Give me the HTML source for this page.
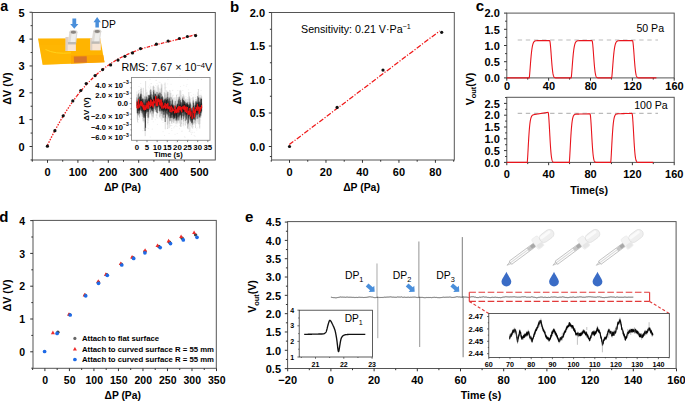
<!DOCTYPE html>
<html><head><meta charset="utf-8"><style>
html,body{margin:0;padding:0;background:#fff;}
svg{display:block;font-family:"Liberation Sans",sans-serif;}
</style></head><body>
<svg width="685" height="402" viewBox="0 0 685 402">
<rect width="685" height="402" fill="#fff"/>
<text x="0.30" y="11.40" font-size="14.2" font-weight="bold" text-anchor="start" fill="#000" >a</text>
<polygon points="38.0,38.6 100.2,38.2 104.5,62.3 42.7,64.8" fill="#FFB400"/>
<polygon points="70.8,55.5 103.2,55.0 104.5,62.3 71.0,63.7" fill="#FDA602"/>
<polygon points="39.5,45 70.8,45 70.8,63.7 42.7,64.8" fill="#FFB703" opacity="0.6"/>
<polygon points="73.8,56.4 86.7,56.2 86.9,62.6 74.0,62.8" fill="#D9752A"/>
<path d="M45.5,49.5 Q55,54.5 71,52.8" stroke="#FFD21A" stroke-width="1.0" fill="none"/>
<rect x="65.60" y="37.00" width="10.10" height="14.00" fill="#F5DCC6"/>
<rect x="65.60" y="37.00" width="2.2" height="14.00" fill="#DCCFC4"/>
<rect x="67.80" y="44.20" width="7.90" height="6.80" fill="#F7E4D4"/>
<polygon points="67.90,43.00 69.30,32.00 77.50,32.00 76.10,43.00" fill="#DEDBD7"/>
<polygon points="70.40,43.00 71.80,32.00 76.40,32.00 75.00,43.00" fill="#EFEEEC"/>
<rect x="67.90" y="42.00" width="8.20" height="2.4" fill="#BEBAB5"/>
<ellipse cx="73.40" cy="32.00" rx="4.10" ry="2.1" fill="#D8D5D1"/>
<ellipse cx="73.40" cy="32.20" rx="2.7" ry="1.45" fill="#8A8682"/>
<rect x="90.30" y="38.20" width="10.30" height="12.00" fill="#F5DCC6"/>
<rect x="90.30" y="38.20" width="2.2" height="12.00" fill="#DCCFC4"/>
<rect x="92.50" y="43.60" width="8.10" height="6.60" fill="#F7E4D4"/>
<polygon points="91.50,42.40 93.10,31.30 101.30,31.30 99.70,42.40" fill="#DEDBD7"/>
<polygon points="94.00,42.40 95.60,31.30 100.20,31.30 98.60,42.40" fill="#EFEEEC"/>
<rect x="91.50" y="41.40" width="8.20" height="2.4" fill="#BEBAB5"/>
<ellipse cx="97.20" cy="31.30" rx="4.10" ry="2.1" fill="#D8D5D1"/>
<ellipse cx="97.20" cy="31.50" rx="2.7" ry="1.45" fill="#8A8682"/>
<polygon points="72.4,18.6 76.2,18.6 76.2,24.0 78.4,24.0 74.3,28.8 70.2,24.0 72.4,24.0" fill="#4A8FDB"/>
<polygon points="95.4,27.4 98.9,27.4 98.9,22.3 100.8,22.3 97.15,17.0 93.5,22.3 95.4,22.3" fill="#4A8FDB"/>
<text x="101.60" y="27.60" font-size="10.3" font-weight="normal" text-anchor="start" fill="#000" >DP</text>
<rect x="32.30" y="12.50" width="183.00" height="147.50" fill="none" stroke="#555" stroke-width="1.0"/>
<line x1="29.50" y1="146.50" x2="32.30" y2="146.50" stroke="#333" stroke-width="1.0" />
<line x1="29.50" y1="119.65" x2="32.30" y2="119.65" stroke="#333" stroke-width="1.0" />
<line x1="29.50" y1="92.80" x2="32.30" y2="92.80" stroke="#333" stroke-width="1.0" />
<line x1="29.50" y1="65.95" x2="32.30" y2="65.95" stroke="#333" stroke-width="1.0" />
<line x1="29.50" y1="39.10" x2="32.30" y2="39.10" stroke="#333" stroke-width="1.0" />
<line x1="29.50" y1="12.25" x2="32.30" y2="12.25" stroke="#333" stroke-width="1.0" />
<line x1="30.60" y1="133.07" x2="32.30" y2="133.07" stroke="#333" stroke-width="1.0" />
<line x1="30.60" y1="106.22" x2="32.30" y2="106.22" stroke="#333" stroke-width="1.0" />
<line x1="30.60" y1="79.38" x2="32.30" y2="79.38" stroke="#333" stroke-width="1.0" />
<line x1="30.60" y1="52.52" x2="32.30" y2="52.52" stroke="#333" stroke-width="1.0" />
<line x1="30.60" y1="25.67" x2="32.30" y2="25.67" stroke="#333" stroke-width="1.0" />
<line x1="30.60" y1="159.93" x2="32.30" y2="159.93" stroke="#333" stroke-width="1.0" />
<line x1="47.50" y1="160.00" x2="47.50" y2="162.80" stroke="#333" stroke-width="1.0" />
<line x1="77.90" y1="160.00" x2="77.90" y2="162.80" stroke="#333" stroke-width="1.0" />
<line x1="108.30" y1="160.00" x2="108.30" y2="162.80" stroke="#333" stroke-width="1.0" />
<line x1="138.70" y1="160.00" x2="138.70" y2="162.80" stroke="#333" stroke-width="1.0" />
<line x1="169.10" y1="160.00" x2="169.10" y2="162.80" stroke="#333" stroke-width="1.0" />
<line x1="199.50" y1="160.00" x2="199.50" y2="162.80" stroke="#333" stroke-width="1.0" />
<line x1="32.30" y1="160.00" x2="32.30" y2="161.70" stroke="#333" stroke-width="1.0" />
<line x1="62.70" y1="160.00" x2="62.70" y2="161.70" stroke="#333" stroke-width="1.0" />
<line x1="93.10" y1="160.00" x2="93.10" y2="161.70" stroke="#333" stroke-width="1.0" />
<line x1="123.50" y1="160.00" x2="123.50" y2="161.70" stroke="#333" stroke-width="1.0" />
<line x1="153.90" y1="160.00" x2="153.90" y2="161.70" stroke="#333" stroke-width="1.0" />
<line x1="184.30" y1="160.00" x2="184.30" y2="161.70" stroke="#333" stroke-width="1.0" />
<text x="24.60" y="150.80" font-size="11" font-weight="bold" text-anchor="end" fill="#000" >0</text>
<text x="24.60" y="123.95" font-size="11" font-weight="bold" text-anchor="end" fill="#000" >1</text>
<text x="24.60" y="97.10" font-size="11" font-weight="bold" text-anchor="end" fill="#000" >2</text>
<text x="24.60" y="70.25" font-size="11" font-weight="bold" text-anchor="end" fill="#000" >3</text>
<text x="24.60" y="43.40" font-size="11" font-weight="bold" text-anchor="end" fill="#000" >4</text>
<text x="24.60" y="16.55" font-size="11" font-weight="bold" text-anchor="end" fill="#000" >5</text>
<text x="47.50" y="175.90" font-size="11" font-weight="bold" text-anchor="middle" fill="#000" >0</text>
<text x="77.90" y="175.90" font-size="11" font-weight="bold" text-anchor="middle" fill="#000" >100</text>
<text x="108.30" y="175.90" font-size="11" font-weight="bold" text-anchor="middle" fill="#000" >200</text>
<text x="138.70" y="175.90" font-size="11" font-weight="bold" text-anchor="middle" fill="#000" >300</text>
<text x="169.10" y="175.90" font-size="11" font-weight="bold" text-anchor="middle" fill="#000" >400</text>
<text x="199.50" y="175.90" font-size="11" font-weight="bold" text-anchor="middle" fill="#000" >500</text>
<text x="122.50" y="191.20" font-size="10.4" font-weight="bold" text-anchor="middle" fill="#000" >ΔP (Pa)</text>
<text x="11.00" y="88.50" font-size="10.8" font-weight="bold" text-anchor="middle" fill="#000" transform="rotate(-90 11.0 88.5)">ΔV (V)</text>
<polyline points="47.50,145.25 48.50,143.18 49.49,141.15 50.49,139.14 51.48,137.16 52.48,135.22 53.48,133.30 54.47,131.41 55.47,129.55 56.46,127.71 57.46,125.91 58.45,124.13 59.45,122.38 60.45,120.66 61.44,118.96 62.44,117.30 63.43,115.65 64.43,114.04 65.43,112.45 66.42,110.89 67.42,109.35 68.41,107.84 69.41,106.35 70.40,104.89 71.40,103.45 72.40,102.03 73.39,100.65 74.39,99.28 75.38,97.94 76.38,96.62" fill="none" stroke="#F01818" stroke-width="1.3" stroke-linejoin="round" stroke-dasharray="1.5 1.3"/>
<polyline points="76.38,96.62 77.90,94.65 79.42,92.74 80.94,90.87 82.46,89.06 83.98,87.30 85.50,85.59 87.02,83.92 88.54,82.31 90.06,80.74 91.58,79.21 93.10,77.74 94.62,76.30 96.14,74.91 97.66,73.56 99.18,72.25 100.70,70.99 102.22,69.76 103.74,68.57 105.26,67.42 106.78,66.31 108.30,65.23 109.82,64.19 111.34,63.18 112.86,62.20 114.38,61.26 115.90,60.35 117.42,59.47 118.94,58.62 120.46,57.80 121.98,57.01 123.50,56.24 125.02,55.50 126.54,54.79 128.06,54.10 129.58,53.44 131.10,52.79 132.62,52.17 134.14,51.57 135.66,50.99 137.18,50.43 138.70,49.89 140.22,49.37 141.74,48.86 143.26,48.37 144.78,47.89 146.30,47.43 147.82,46.98 149.34,46.54 150.86,46.11 152.38,45.70 153.90,45.29 155.42,44.89 156.94,44.50 158.46,44.12 159.98,43.74 161.50,43.37 163.02,43.00 164.54,42.64 166.06,42.28 167.58,41.91 169.10,41.55 170.62,41.19 172.14,40.83 173.66,40.47 175.18,40.10 176.70,39.73 178.22,39.36 179.74,38.98 181.26,38.59 182.78,38.20 184.30,37.79 185.82,37.38 187.34,36.96 188.86,36.53 190.38,36.09 191.90,35.63 193.42,35.16 194.94,34.67 196.46,34.17" fill="none" stroke="#F01818" stroke-width="1.25" stroke-linejoin="round" stroke-dasharray="3.4 1.4 1.1 1.4"/>
<circle cx="47.4" cy="146.2" r="1.6" fill="#111"/>
<circle cx="54.9" cy="130.7" r="1.6" fill="#111"/>
<circle cx="63.2" cy="115.8" r="1.6" fill="#111"/>
<circle cx="72.8" cy="100.9" r="1.6" fill="#111"/>
<circle cx="80.8" cy="90.5" r="1.6" fill="#111"/>
<circle cx="86.2" cy="83.6" r="1.6" fill="#111"/>
<circle cx="95.1" cy="75.6" r="1.6" fill="#111"/>
<circle cx="102.6" cy="69.6" r="1.6" fill="#111"/>
<circle cx="110.6" cy="64.9" r="1.6" fill="#111"/>
<circle cx="118.0" cy="60.1" r="1.6" fill="#111"/>
<circle cx="124.9" cy="56.3" r="1.6" fill="#111"/>
<circle cx="132.5" cy="52.9" r="1.6" fill="#111"/>
<circle cx="140.5" cy="48.6" r="1.6" fill="#111"/>
<circle cx="156.4" cy="44.2" r="1.6" fill="#111"/>
<circle cx="168.1" cy="41.0" r="1.6" fill="#111"/>
<circle cx="179.4" cy="38.5" r="1.6" fill="#111"/>
<circle cx="187.4" cy="36.5" r="1.6" fill="#111"/>
<circle cx="195.6" cy="35.6" r="1.6" fill="#111"/>
<text x="121.4" y="71.4" font-size="10.75" fill="#000">RMS: 7.67 × 10<tspan dy="-3.9" font-size="7.6">−4</tspan><tspan dy="3.9">V</tspan></text>
<rect x="131.5" y="77.5" width="78.50" height="62.80" fill="#fff" stroke="#8a8a8a" stroke-width="0.9"/>
<path d="M188.83,110.55V92.03M142.55,104.86V116.99M167.51,108.09V94.23M169.17,108.76V128.19M170.16,109.03V97.10M187.69,109.88V128.79M187.46,109.82V128.14M153.23,102.73V117.54M152.06,103.05V120.01M183.65,109.64V121.59M179.29,109.62V123.46M192.99,113.86V97.05M139.44,104.90V117.05M152.97,102.80V86.26M188.24,110.12V129.35M176.54,109.59V94.67M170.20,109.04V93.05M199.70,108.63V128.52M161.31,104.14V83.57M166.77,107.71V90.52M167.29,107.98V124.70M183.14,109.63V97.41M137.54,104.91V122.19M186.08,109.66V121.48M153.48,102.67V85.59M161.31,104.15V87.71M160.12,103.50V117.86M181.13,109.63V126.98M143.26,105.09V87.86M162.03,104.58V85.25M183.22,109.63V125.80M171.57,109.29V123.64M198.48,108.70V89.13M180.78,109.63V90.63M195.53,110.11V128.04M147.92,104.23V123.47M143.68,105.77V117.71M183.15,109.63V94.37M189.82,111.71V131.75M139.38,104.90V117.80M164.36,106.15V92.25M161.88,104.49V120.30M179.87,109.63V90.38M199.13,108.65V94.90M169.03,108.71V123.42M143.24,105.08V121.84M177.16,109.60V122.78M143.09,104.98V120.98M194.02,112.36V124.20M187.92,109.97V124.61M169.99,108.99V90.36M198.34,108.71V123.90M167.67,108.17V128.98M150.07,103.66V89.64M189.57,111.36V96.23M145.21,108.85V136.15M145.61,103.60V81.02M165.06,103.60V82.60M165.26,108.85V129.32M141.36,103.60V87.85M158.17,103.60V84.70M180.46,108.85V126.70M185.32,108.85V125.65M187.55,108.85V124.60" stroke="#888" stroke-width="0.3" fill="none"/>
<path d="M136.90,91.89V111.07M136.90,105.61v0.7M136.90,91.47v0.7M137.07,94.47V112.89M137.07,100.88v0.7M137.07,95.73v0.7M137.24,102.76V118.93M137.24,118.76v0.7M137.24,94.57v0.7M137.41,101.43V118.35M137.41,103.09v0.7M137.41,115.55v0.7M137.58,94.50V113.62M137.58,98.75v0.7M137.58,96.32v0.7M137.76,97.38V112.87M137.76,98.07v0.7M137.76,95.17v0.7M137.93,99.18V114.06M137.93,108.35v0.7M137.93,96.16v0.7M138.10,99.73V115.83M138.10,119.36v0.7M138.10,122.25v0.7M138.27,102.39V115.31M138.27,119.13v0.7M138.27,99.45v0.7M138.44,94.56V111.35M138.44,108.62v0.7M138.44,112.70v0.7M138.61,90.08V107.58M138.61,106.95v0.7M138.61,104.39v0.7M138.78,97.76V109.40M138.78,104.67v0.7M138.78,94.07v0.7M138.95,97.51V113.68M138.95,105.63v0.7M138.95,86.18v0.7M139.12,96.72V116.62M139.12,106.44v0.7M139.12,117.63v0.7M139.29,102.19V114.26M139.29,99.07v0.7M139.29,96.99v0.7M139.47,95.23V115.52M139.47,109.01v0.7M139.47,107.04v0.7M139.64,96.83V109.87M139.64,96.83v0.7M139.64,92.64v0.7M139.81,99.52V112.73M139.81,90.09v0.7M139.81,106.11v0.7M139.98,92.00V106.33M139.98,96.99v0.7M139.98,104.85v0.7M140.15,96.84V110.49M140.15,102.74v0.7M140.15,105.23v0.7M140.32,98.60V112.63M140.32,107.11v0.7M140.32,111.88v0.7M140.49,88.78V107.63M140.49,94.73v0.7M140.49,109.29v0.7M140.66,90.85V106.29M140.66,89.16v0.7M140.66,83.21v0.7M140.83,96.27V115.13M140.83,87.33v0.7M140.83,109.18v0.7M141.01,100.41V115.77M141.01,115.85v0.7M141.01,110.73v0.7M141.18,91.28V111.48M141.18,89.37v0.7M141.18,111.63v0.7M141.35,89.37V104.87M141.35,93.14v0.7M141.35,109.82v0.7M141.52,94.58V109.29M141.52,95.00v0.7M141.52,100.47v0.7M141.69,99.45V110.46M141.69,109.34v0.7M141.69,91.15v0.7M141.86,100.58V114.19M141.86,104.28v0.7M141.86,97.21v0.7M142.03,99.18V116.50M142.03,94.90v0.7M142.03,108.73v0.7M142.20,97.08V111.28M142.20,101.96v0.7M142.20,104.94v0.7M142.37,96.37V110.47M142.37,111.97v0.7M142.37,112.14v0.7M142.55,94.46V113.64M142.55,106.64v0.7M142.55,118.25v0.7M142.72,101.85V116.05M142.72,103.97v0.7M142.72,102.36v0.7M142.89,99.55V115.90M142.89,107.17v0.7M142.89,130.41v0.7M143.06,99.31V114.05M143.06,111.12v0.7M143.06,116.36v0.7M143.23,98.09V118.61M143.23,114.17v0.7M143.23,92.57v0.7M143.40,98.42V112.31M143.40,114.98v0.7M143.40,95.00v0.7M143.57,102.73V121.15M143.57,122.33v0.7M143.57,112.23v0.7M143.74,100.06V116.43M143.74,90.76v0.7M143.74,97.63v0.7M143.91,98.30V116.20M143.91,127.85v0.7M143.91,112.08v0.7M144.08,95.64V115.32M144.08,112.93v0.7M144.08,96.00v0.7M144.26,98.94V115.38M144.26,102.93v0.7M144.26,108.25v0.7M144.43,102.18V121.68M144.43,113.46v0.7M144.43,102.03v0.7M144.60,105.72V121.17M144.60,105.93v0.7M144.60,109.51v0.7M144.77,98.60V113.74M144.77,130.39v0.7M144.77,108.35v0.7M144.94,93.43V110.67M144.94,107.27v0.7M144.94,101.55v0.7M145.11,103.26V122.52M145.11,112.11v0.7M145.11,130.00v0.7M145.28,99.26V114.17M145.28,105.80v0.7M145.28,120.62v0.7M145.45,99.08V114.51M145.45,97.68v0.7M145.45,121.86v0.7M145.62,101.77V117.92M145.62,113.97v0.7M145.62,116.57v0.7M145.80,96.55V113.16M145.80,107.25v0.7M145.80,115.16v0.7M145.97,95.50V111.49M145.97,105.44v0.7M145.97,121.50v0.7M146.14,95.89V111.64M146.14,89.60v0.7M146.14,103.27v0.7M146.31,98.77V113.97M146.31,106.90v0.7M146.31,90.51v0.7M146.48,91.96V111.55M146.48,115.28v0.7M146.48,112.64v0.7M146.65,101.87V114.52M146.65,111.19v0.7M146.65,126.83v0.7M146.82,99.61V115.88M146.82,124.66v0.7M146.82,93.33v0.7M146.99,91.59V111.83M146.99,100.05v0.7M146.99,107.51v0.7M147.16,99.11V117.33M147.16,114.65v0.7M147.16,123.52v0.7M147.33,98.87V111.79M147.33,94.06v0.7M147.33,113.97v0.7M147.51,95.69V112.35M147.51,95.31v0.7M147.51,114.96v0.7M147.68,98.41V114.61M147.68,115.62v0.7M147.68,92.48v0.7M147.85,94.82V108.93M147.85,101.76v0.7M147.85,119.30v0.7M148.02,103.06V118.06M148.02,112.79v0.7M148.02,122.28v0.7M148.19,97.48V113.78M148.19,128.19v0.7M148.19,109.13v0.7M148.36,94.96V109.33M148.36,86.64v0.7M148.36,101.98v0.7M148.53,94.65V114.95M148.53,117.80v0.7M148.53,114.93v0.7M148.70,101.63V119.08M148.70,108.84v0.7M148.70,120.06v0.7M148.87,95.47V108.58M148.87,124.44v0.7M148.87,100.27v0.7M149.05,94.64V109.53M149.05,94.69v0.7M149.05,101.51v0.7M149.22,94.80V112.91M149.22,108.08v0.7M149.22,108.36v0.7M149.39,96.09V109.68M149.39,114.13v0.7M149.39,87.81v0.7M149.56,97.65V113.68M149.56,95.54v0.7M149.56,95.81v0.7M149.73,95.71V110.37M149.73,112.75v0.7M149.73,91.29v0.7M149.90,91.56V110.62M149.90,112.96v0.7M149.90,84.82v0.7M150.07,90.38V111.94M150.07,95.13v0.7M150.07,79.05v0.7M150.24,96.54V114.38M150.24,136.68v0.7M150.24,111.76v0.7M150.41,99.75V113.46M150.41,92.55v0.7M150.41,100.58v0.7M150.58,95.29V112.69M150.58,101.74v0.7M150.58,89.26v0.7M150.76,86.06V101.54M150.76,101.08v0.7M150.76,89.89v0.7M150.93,89.71V108.22M150.93,99.54v0.7M150.93,90.65v0.7M151.10,93.74V106.79M151.10,113.53v0.7M151.10,83.53v0.7M151.27,92.06V108.87M151.27,102.69v0.7M151.27,83.17v0.7M151.44,95.63V112.32M151.44,113.15v0.7M151.44,91.23v0.7M151.61,96.17V114.56M151.61,97.24v0.7M151.61,104.30v0.7M151.78,98.05V116.52M151.78,97.96v0.7M151.78,94.98v0.7M151.95,99.79V115.58M151.95,104.42v0.7M151.95,99.36v0.7M152.12,94.75V112.50M152.12,95.27v0.7M152.12,101.69v0.7M152.30,98.13V112.24M152.30,128.71v0.7M152.30,91.21v0.7M152.47,93.79V112.05M152.47,107.08v0.7M152.47,101.55v0.7M152.64,97.55V108.47M152.64,109.27v0.7M152.64,115.81v0.7M152.81,91.14V109.97M152.81,94.34v0.7M152.81,96.34v0.7M152.98,99.11V114.23M152.98,114.77v0.7M152.98,96.09v0.7M153.15,100.24V116.13M153.15,103.24v0.7M153.15,102.59v0.7M153.32,98.82V114.54M153.32,115.70v0.7M153.32,121.51v0.7M153.49,89.26V107.14M153.49,114.12v0.7M153.49,89.45v0.7M153.66,86.55V107.79M153.66,93.51v0.7M153.66,87.76v0.7M153.84,90.80V111.99M153.84,111.83v0.7M153.84,117.47v0.7M154.01,90.87V109.09M154.01,106.84v0.7M154.01,105.28v0.7M154.18,91.88V110.91M154.18,101.20v0.7M154.18,89.93v0.7M154.35,89.85V108.17M154.35,104.06v0.7M154.35,87.12v0.7M154.52,91.07V107.96M154.52,88.85v0.7M154.52,99.10v0.7M154.69,92.10V111.69M154.69,86.69v0.7M154.69,96.57v0.7M154.86,93.43V111.24M154.86,102.39v0.7M154.86,98.06v0.7M155.03,88.73V105.96M155.03,87.71v0.7M155.03,91.25v0.7M155.20,92.83V111.40M155.20,90.45v0.7M155.20,93.20v0.7M155.37,92.99V109.23M155.37,102.52v0.7M155.37,119.39v0.7M155.55,91.42V104.15M155.55,94.02v0.7M155.55,95.96v0.7M155.72,93.20V111.31M155.72,85.23v0.7M155.72,97.27v0.7M155.89,94.88V108.62M155.89,106.08v0.7M155.89,79.99v0.7M156.06,92.39V111.48M156.06,114.80v0.7M156.06,108.16v0.7M156.23,94.93V112.19M156.23,103.54v0.7M156.23,114.33v0.7M156.40,90.68V108.81M156.40,79.82v0.7M156.40,109.41v0.7M156.57,91.90V107.55M156.57,104.65v0.7M156.57,95.77v0.7M156.74,101.56V118.29M156.74,112.14v0.7M156.74,99.90v0.7M156.91,95.83V109.49M156.91,115.23v0.7M156.91,111.71v0.7M157.09,85.97V104.57M157.09,83.15v0.7M157.09,98.50v0.7M157.26,97.35V113.69M157.26,100.74v0.7M157.26,92.61v0.7M157.43,97.01V114.37M157.43,99.13v0.7M157.43,123.96v0.7M157.60,94.27V109.33M157.60,112.46v0.7M157.60,112.31v0.7M157.77,93.96V110.17M157.77,117.72v0.7M157.77,109.46v0.7M157.94,92.26V112.95M157.94,102.60v0.7M157.94,113.66v0.7M158.11,87.32V106.58M158.11,73.66v0.7M158.11,98.09v0.7M158.28,92.85V108.33M158.28,102.92v0.7M158.28,103.16v0.7M158.45,94.70V109.02M158.45,100.81v0.7M158.45,101.48v0.7M158.62,93.63V110.46M158.62,102.97v0.7M158.62,98.68v0.7M158.80,92.56V111.42M158.80,112.05v0.7M158.80,109.77v0.7M158.97,94.82V106.19M158.97,109.69v0.7M158.97,93.91v0.7M159.14,87.79V108.64M159.14,81.74v0.7M159.14,115.63v0.7M159.31,91.53V108.55M159.31,92.84v0.7M159.31,107.68v0.7M159.48,96.09V117.08M159.48,93.27v0.7M159.48,100.57v0.7M159.65,97.17V111.02M159.65,95.76v0.7M159.65,92.07v0.7M159.82,93.73V108.85M159.82,94.83v0.7M159.82,112.10v0.7M159.99,91.03V108.67M159.99,82.12v0.7M159.99,89.06v0.7M160.16,89.39V110.31M160.16,72.54v0.7M160.16,99.90v0.7M160.34,100.75V115.57M160.34,118.21v0.7M160.34,115.54v0.7M160.51,97.41V113.72M160.51,101.10v0.7M160.51,99.40v0.7M160.68,98.16V114.25M160.68,102.43v0.7M160.68,98.86v0.7M160.85,99.09V112.11M160.85,108.92v0.7M160.85,102.45v0.7M161.02,96.86V116.17M161.02,110.95v0.7M161.02,102.87v0.7M161.19,88.58V105.48M161.19,89.77v0.7M161.19,100.36v0.7M161.36,91.91V111.77M161.36,99.16v0.7M161.36,101.12v0.7M161.53,100.83V112.04M161.53,107.14v0.7M161.53,92.02v0.7M161.70,97.42V113.58M161.70,94.79v0.7M161.70,109.26v0.7M161.87,102.04V116.19M161.87,109.20v0.7M161.87,109.10v0.7M162.05,94.33V113.71M162.05,97.47v0.7M162.05,102.84v0.7M162.22,98.29V112.80M162.22,113.82v0.7M162.22,100.98v0.7M162.39,95.95V107.56M162.39,104.68v0.7M162.39,84.47v0.7M162.56,99.15V110.72M162.56,104.91v0.7M162.56,106.44v0.7M162.73,97.19V110.39M162.73,103.14v0.7M162.73,112.35v0.7M162.90,101.67V115.80M162.90,90.67v0.7M162.90,119.93v0.7M163.07,102.55V119.03M163.07,122.03v0.7M163.07,131.39v0.7M163.24,98.33V117.39M163.24,92.61v0.7M163.24,102.23v0.7M163.41,97.80V113.95M163.41,103.37v0.7M163.41,117.23v0.7M163.59,97.74V111.03M163.59,112.79v0.7M163.59,117.31v0.7M163.76,96.82V114.95M163.76,102.17v0.7M163.76,109.31v0.7M163.93,101.45V114.85M163.93,108.23v0.7M163.93,119.45v0.7M164.10,99.99V118.23M164.10,94.38v0.7M164.10,104.18v0.7M164.27,99.85V114.51M164.27,84.39v0.7M164.27,106.12v0.7M164.44,95.50V114.83M164.44,95.70v0.7M164.44,110.73v0.7M164.61,100.55V117.78M164.61,99.51v0.7M164.61,135.27v0.7M164.78,97.73V112.66M164.78,111.73v0.7M164.78,105.86v0.7M164.95,92.95V111.21M164.95,87.70v0.7M164.95,109.46v0.7M165.13,94.36V112.90M165.13,105.23v0.7M165.13,103.56v0.7M165.30,95.08V112.40M165.30,92.74v0.7M165.30,104.19v0.7M165.47,103.18V118.92M165.47,96.90v0.7M165.47,110.08v0.7M165.64,98.47V116.12M165.64,99.36v0.7M165.64,116.01v0.7M165.81,93.67V111.92M165.81,114.11v0.7M165.81,109.46v0.7M165.98,97.21V113.83M165.98,119.74v0.7M165.98,107.94v0.7M166.15,93.86V110.47M166.15,90.05v0.7M166.15,87.21v0.7M166.32,95.14V110.39M166.32,114.25v0.7M166.32,113.09v0.7M166.49,100.72V115.50M166.49,110.15v0.7M166.49,117.16v0.7M166.66,96.78V114.41M166.66,114.82v0.7M166.66,105.89v0.7M166.84,101.31V112.55M166.84,104.58v0.7M166.84,101.61v0.7M167.01,97.96V118.75M167.01,108.05v0.7M167.01,93.16v0.7M167.18,102.84V119.12M167.18,106.42v0.7M167.18,107.98v0.7M167.35,100.87V116.74M167.35,101.47v0.7M167.35,127.95v0.7M167.52,99.36V111.96M167.52,101.03v0.7M167.52,96.11v0.7M167.69,93.37V105.45M167.69,83.60v0.7M167.69,93.93v0.7M167.86,90.78V107.58M167.86,79.08v0.7M167.86,94.02v0.7M168.03,97.65V109.07M168.03,111.20v0.7M168.03,100.13v0.7M168.20,98.13V115.97M168.20,103.70v0.7M168.20,106.40v0.7M168.38,98.36V114.50M168.38,102.96v0.7M168.38,109.34v0.7M168.55,99.20V118.51M168.55,101.05v0.7M168.55,99.23v0.7M168.72,99.01V116.70M168.72,99.91v0.7M168.72,109.93v0.7M168.89,102.80V118.81M168.89,117.33v0.7M168.89,113.09v0.7M169.06,97.71V113.69M169.06,108.94v0.7M169.06,133.22v0.7M169.23,96.22V111.27M169.23,101.87v0.7M169.23,100.57v0.7M169.40,98.02V113.05M169.40,90.13v0.7M169.40,98.40v0.7M169.57,101.42V119.88M169.57,120.48v0.7M169.57,109.16v0.7M169.74,102.05V119.50M169.74,123.24v0.7M169.74,117.88v0.7M169.91,104.61V121.48M169.91,114.76v0.7M169.91,123.39v0.7M170.09,105.22V119.30M170.09,108.08v0.7M170.09,121.61v0.7M170.26,104.21V121.18M170.26,124.72v0.7M170.26,109.23v0.7M170.43,102.77V116.18M170.43,105.44v0.7M170.43,112.83v0.7M170.60,100.58V119.18M170.60,101.14v0.7M170.60,125.63v0.7M170.77,99.59V110.93M170.77,96.38v0.7M170.77,110.73v0.7M170.94,100.03V119.57M170.94,125.43v0.7M170.94,109.66v0.7M171.11,92.86V109.39M171.11,111.95v0.7M171.11,83.90v0.7M171.28,102.40V118.64M171.28,115.39v0.7M171.28,111.61v0.7M171.45,103.00V117.11M171.45,120.08v0.7M171.45,121.16v0.7M171.63,103.84V120.49M171.63,98.30v0.7M171.63,128.07v0.7M171.80,104.54V123.02M171.80,130.00v0.7M171.80,125.11v0.7M171.97,104.72V119.70M171.97,120.26v0.7M171.97,107.80v0.7M172.14,100.94V120.45M172.14,123.09v0.7M172.14,117.89v0.7M172.31,104.04V121.81M172.31,96.77v0.7M172.31,90.40v0.7M172.48,98.28V114.56M172.48,107.72v0.7M172.48,113.72v0.7M172.65,94.75V113.05M172.65,103.07v0.7M172.65,109.83v0.7M172.82,101.45V122.26M172.82,89.88v0.7M172.82,102.27v0.7M172.99,98.34V113.81M172.99,108.81v0.7M172.99,122.63v0.7M173.16,103.67V119.68M173.16,113.38v0.7M173.16,107.68v0.7M173.34,104.57V122.72M173.34,111.55v0.7M173.34,116.99v0.7M173.51,104.04V122.71M173.51,94.87v0.7M173.51,103.92v0.7M173.68,105.39V121.03M173.68,98.48v0.7M173.68,109.49v0.7M173.85,106.21V122.99M173.85,109.51v0.7M173.85,127.51v0.7M174.02,97.11V116.94M174.02,119.23v0.7M174.02,119.84v0.7M174.19,103.73V117.71M174.19,106.17v0.7M174.19,107.96v0.7M174.36,107.06V119.81M174.36,99.63v0.7M174.36,117.79v0.7M174.53,106.74V118.18M174.53,103.36v0.7M174.53,120.18v0.7M174.70,102.39V122.50M174.70,111.47v0.7M174.70,125.91v0.7M174.88,103.24V121.29M174.88,98.14v0.7M174.88,122.67v0.7M175.05,103.85V117.87M175.05,133.92v0.7M175.05,112.19v0.7M175.22,97.06V109.29M175.22,116.62v0.7M175.22,107.83v0.7M175.39,100.53V119.31M175.39,115.78v0.7M175.39,100.63v0.7M175.56,104.01V119.78M175.56,102.41v0.7M175.56,111.88v0.7M175.73,105.26V120.06M175.73,99.41v0.7M175.73,118.81v0.7M175.90,103.74V117.75M175.90,125.08v0.7M175.90,116.41v0.7M176.07,104.76V124.21M176.07,108.31v0.7M176.07,141.80v0.7M176.24,105.18V123.21M176.24,123.37v0.7M176.24,107.06v0.7M176.42,106.79V120.65M176.42,103.82v0.7M176.42,99.43v0.7M176.59,105.11V122.54M176.59,95.17v0.7M176.59,119.59v0.7M176.76,103.46V121.09M176.76,121.26v0.7M176.76,111.99v0.7M176.93,104.21V117.27M176.93,126.05v0.7M176.93,100.78v0.7M177.10,100.49V116.80M177.10,119.65v0.7M177.10,101.57v0.7M177.27,105.42V117.83M177.27,123.54v0.7M177.27,133.14v0.7M177.44,96.85V117.79M177.44,94.55v0.7M177.44,107.52v0.7M177.61,102.20V115.69M177.61,116.66v0.7M177.61,115.15v0.7M177.78,103.92V123.41M177.78,90.33v0.7M177.78,112.64v0.7M177.95,99.64V117.80M177.95,99.84v0.7M177.95,106.50v0.7M178.13,100.36V119.71M178.13,101.09v0.7M178.13,93.91v0.7M178.30,98.36V113.47M178.30,116.59v0.7M178.30,95.52v0.7M178.47,97.16V108.98M178.47,108.96v0.7M178.47,100.75v0.7M178.64,105.22V116.30M178.64,98.22v0.7M178.64,108.68v0.7M178.81,107.57V120.58M178.81,99.44v0.7M178.81,139.37v0.7M178.98,105.34V121.48M178.98,108.17v0.7M178.98,109.92v0.7M179.15,96.05V109.62M179.15,97.62v0.7M179.15,109.11v0.7M179.32,96.17V110.89M179.32,112.62v0.7M179.32,96.97v0.7M179.49,101.18V119.80M179.49,104.20v0.7M179.49,128.44v0.7M179.67,101.05V117.52M179.67,125.25v0.7M179.67,103.94v0.7M179.84,99.99V118.19M179.84,106.09v0.7M179.84,99.76v0.7M180.01,100.24V114.98M180.01,75.34v0.7M180.01,100.54v0.7M180.18,98.13V114.52M180.18,113.33v0.7M180.18,111.50v0.7M180.35,102.43V117.22M180.35,111.89v0.7M180.35,124.41v0.7M180.52,100.20V114.68M180.52,110.84v0.7M180.52,86.14v0.7M180.69,101.57V120.40M180.69,100.43v0.7M180.69,89.86v0.7M180.86,101.94V115.94M180.86,113.63v0.7M180.86,99.84v0.7M181.03,99.51V117.51M181.03,111.53v0.7M181.03,115.62v0.7M181.20,95.04V115.07M181.20,98.40v0.7M181.20,117.11v0.7M181.38,103.17V119.53M181.38,122.50v0.7M181.38,114.64v0.7M181.55,104.11V123.85M181.55,123.02v0.7M181.55,101.97v0.7M181.72,102.92V119.08M181.72,113.83v0.7M181.72,130.87v0.7M181.89,104.02V115.46M181.89,106.77v0.7M181.89,119.35v0.7M182.06,99.52V114.70M182.06,101.37v0.7M182.06,110.97v0.7M182.23,99.52V115.24M182.23,130.76v0.7M182.23,116.50v0.7M182.40,99.53V112.70M182.40,106.79v0.7M182.40,97.42v0.7M182.57,96.11V110.61M182.57,70.34v0.7M182.57,108.00v0.7M182.74,99.16V114.58M182.74,101.46v0.7M182.74,89.98v0.7M182.92,102.26V117.75M182.92,94.13v0.7M182.92,112.94v0.7M183.09,96.05V114.94M183.09,106.43v0.7M183.09,100.30v0.7M183.26,103.83V116.30M183.26,99.18v0.7M183.26,109.16v0.7M183.43,102.53V121.43M183.43,123.39v0.7M183.43,107.98v0.7M183.60,96.43V117.22M183.60,109.95v0.7M183.60,100.83v0.7M183.77,95.81V112.57M183.77,107.72v0.7M183.77,84.90v0.7M183.94,98.60V115.39M183.94,126.49v0.7M183.94,95.28v0.7M184.11,102.97V114.33M184.11,116.19v0.7M184.11,117.33v0.7M184.28,97.55V109.35M184.28,115.92v0.7M184.28,103.98v0.7M184.45,102.43V116.45M184.45,136.50v0.7M184.45,102.93v0.7M184.63,96.33V115.28M184.63,111.82v0.7M184.63,101.38v0.7M184.80,101.88V117.79M184.80,101.56v0.7M184.80,112.63v0.7M184.97,101.45V112.76M184.97,111.85v0.7M184.97,108.75v0.7M185.14,103.61V123.55M185.14,136.83v0.7M185.14,123.99v0.7M185.31,106.95V120.43M185.31,113.62v0.7M185.31,111.65v0.7M185.48,98.90V114.27M185.48,111.56v0.7M185.48,108.56v0.7M185.65,101.35V119.51M185.65,117.21v0.7M185.65,100.35v0.7M185.82,98.88V112.36M185.82,100.51v0.7M185.82,108.73v0.7M185.99,100.39V116.89M185.99,96.17v0.7M185.99,113.37v0.7M186.17,102.01V119.38M186.17,109.21v0.7M186.17,113.03v0.7M186.34,102.50V115.57M186.34,97.81v0.7M186.34,85.84v0.7M186.51,104.65V120.49M186.51,122.31v0.7M186.51,106.55v0.7M186.68,108.44V123.31M186.68,110.21v0.7M186.68,107.10v0.7M186.85,100.64V113.19M186.85,99.06v0.7M186.85,107.53v0.7M187.02,98.95V119.31M187.02,118.89v0.7M187.02,84.35v0.7M187.19,103.15V121.05M187.19,114.78v0.7M187.19,104.79v0.7M187.36,104.17V114.77M187.36,110.50v0.7M187.36,109.13v0.7M187.53,100.90V116.27M187.53,113.73v0.7M187.53,126.56v0.7M187.71,98.88V115.76M187.71,79.19v0.7M187.71,97.50v0.7M187.88,103.68V118.71M187.88,106.02v0.7M187.88,97.65v0.7M188.05,107.98V126.31M188.05,112.66v0.7M188.05,139.27v0.7M188.22,104.26V121.93M188.22,118.63v0.7M188.22,102.65v0.7M188.39,103.87V117.76M188.39,89.51v0.7M188.39,123.71v0.7M188.56,107.07V126.61M188.56,115.68v0.7M188.56,108.25v0.7M188.73,101.87V117.63M188.73,107.55v0.7M188.73,113.72v0.7M188.90,98.75V117.47M188.90,110.48v0.7M188.90,116.50v0.7M189.07,107.06V122.49M189.07,131.30v0.7M189.07,112.67v0.7M189.24,99.60V120.12M189.24,112.70v0.7M189.24,116.47v0.7M189.42,104.04V117.42M189.42,103.83v0.7M189.42,117.67v0.7M189.59,98.25V117.98M189.59,114.16v0.7M189.59,123.80v0.7M189.76,99.00V117.45M189.76,127.75v0.7M189.76,106.86v0.7M189.93,97.16V115.81M189.93,106.95v0.7M189.93,101.72v0.7M190.10,103.48V115.60M190.10,104.49v0.7M190.10,123.44v0.7M190.27,103.46V119.75M190.27,108.72v0.7M190.27,112.98v0.7M190.44,111.42V125.86M190.44,120.98v0.7M190.44,110.14v0.7M190.61,102.35V121.43M190.61,110.06v0.7M190.61,104.44v0.7M190.78,98.89V118.83M190.78,132.11v0.7M190.78,92.01v0.7M190.96,104.23V123.69M190.96,120.61v0.7M190.96,120.56v0.7M191.13,108.26V120.17M191.13,119.17v0.7M191.13,116.51v0.7M191.30,108.53V121.24M191.30,95.39v0.7M191.30,98.35v0.7M191.47,105.12V121.73M191.47,134.15v0.7M191.47,126.30v0.7M191.64,111.03V123.83M191.64,111.30v0.7M191.64,132.69v0.7M191.81,106.99V125.49M191.81,102.90v0.7M191.81,124.66v0.7M191.98,112.07V127.10M191.98,130.62v0.7M191.98,111.78v0.7M192.15,111.33V128.22M192.15,127.53v0.7M192.15,102.38v0.7M192.32,105.91V123.34M192.32,119.60v0.7M192.32,117.48v0.7M192.49,109.65V121.00M192.49,105.40v0.7M192.49,102.86v0.7M192.67,112.69V128.74M192.67,124.42v0.7M192.67,132.32v0.7M192.84,107.64V123.49M192.84,124.69v0.7M192.84,121.15v0.7M193.01,103.83V118.76M193.01,107.49v0.7M193.01,98.31v0.7M193.18,96.55V111.62M193.18,99.55v0.7M193.18,110.32v0.7M193.35,99.43V115.72M193.35,99.90v0.7M193.35,113.27v0.7M193.52,104.53V119.87M193.52,94.43v0.7M193.52,126.36v0.7M193.69,104.56V118.76M193.69,122.39v0.7M193.69,123.24v0.7M193.86,100.36V116.30M193.86,108.65v0.7M193.86,122.27v0.7M194.03,103.53V119.13M194.03,115.89v0.7M194.03,106.12v0.7M194.21,106.33V122.82M194.21,112.53v0.7M194.21,135.28v0.7M194.38,107.74V122.95M194.38,107.80v0.7M194.38,131.87v0.7M194.55,108.72V122.08M194.55,124.41v0.7M194.55,114.43v0.7M194.72,105.81V123.42M194.72,110.82v0.7M194.72,106.38v0.7M194.89,104.77V117.76M194.89,106.71v0.7M194.89,110.49v0.7M195.06,104.44V118.95M195.06,135.92v0.7M195.06,96.69v0.7M195.23,101.35V119.24M195.23,111.96v0.7M195.23,94.68v0.7M195.40,106.43V123.51M195.40,99.14v0.7M195.40,114.65v0.7M195.57,98.77V116.71M195.57,97.36v0.7M195.57,71.95v0.7M195.74,100.82V116.00M195.74,100.95v0.7M195.74,116.56v0.7M195.92,103.76V123.50M195.92,110.45v0.7M195.92,120.50v0.7M196.09,100.73V116.26M196.09,115.10v0.7M196.09,110.58v0.7M196.26,98.98V114.08M196.26,108.27v0.7M196.26,107.94v0.7M196.43,102.18V116.37M196.43,128.12v0.7M196.43,104.18v0.7M196.60,98.73V119.92M196.60,120.55v0.7M196.60,122.85v0.7M196.77,99.85V114.07M196.77,129.69v0.7M196.77,112.31v0.7M196.94,106.44V117.46M196.94,116.95v0.7M196.94,111.92v0.7M197.11,104.63V121.97M197.11,121.96v0.7M197.11,110.79v0.7M197.28,101.25V114.68M197.28,118.61v0.7M197.28,96.52v0.7M197.46,92.44V109.65M197.46,91.74v0.7M197.46,98.69v0.7M197.63,100.04V113.02M197.63,118.67v0.7M197.63,103.50v0.7M197.80,102.99V122.26M197.80,127.51v0.7M197.80,117.16v0.7M197.97,98.28V115.50M197.97,97.92v0.7M197.97,93.61v0.7M198.14,99.59V112.48M198.14,89.00v0.7M198.14,97.12v0.7M198.31,104.09V116.15M198.31,113.10v0.7M198.31,122.78v0.7M198.48,95.56V114.96M198.48,117.81v0.7M198.48,115.87v0.7M198.65,95.93V112.74M198.65,98.67v0.7M198.65,100.86v0.7M198.82,96.71V114.17M198.82,124.44v0.7M198.82,117.27v0.7M199.00,99.10V114.65M199.00,114.99v0.7M199.00,113.29v0.7M199.17,105.47V121.70M199.17,108.53v0.7M199.17,114.34v0.7M199.34,108.32V124.21M199.34,123.62v0.7M199.34,104.27v0.7M199.51,98.14V112.01M199.51,106.60v0.7M199.51,111.03v0.7M199.68,97.85V118.73M199.68,125.92v0.7M199.68,119.20v0.7M199.85,102.20V116.84M199.85,103.46v0.7M199.85,105.71v0.7M200.02,104.79V123.78M200.02,105.26v0.7M200.02,101.49v0.7M200.19,105.89V117.48M200.19,114.00v0.7M200.19,106.62v0.7M200.36,97.39V116.44M200.36,108.03v0.7M200.36,102.52v0.7M200.53,99.85V118.06M200.53,95.04v0.7M200.53,102.11v0.7M200.71,100.33V118.07M200.71,99.59v0.7M200.71,119.64v0.7M200.88,95.33V113.60M200.88,99.88v0.7M200.88,93.74v0.7M201.05,97.64V117.31M201.05,90.32v0.7M201.05,102.08v0.7M201.22,95.70V115.73M201.22,103.71v0.7M201.22,96.58v0.7M201.39,97.60V115.37M201.39,103.49v0.7M201.39,101.32v0.7M201.56,97.38V113.69M201.56,79.26v0.7M201.56,94.88v0.7M201.73,96.05V114.05M201.73,106.74v0.7M201.73,108.76v0.7" stroke="#aaa" stroke-width="0.25" fill="none"/>
<path d="M136.90,97.35V105.76M137.07,99.63V107.89M137.24,104.63V113.37M137.41,103.68V113.28M137.58,101.28V107.34M137.76,101.99V108.32M137.93,102.42V112.80M138.10,101.18V115.18M138.27,101.41V110.90M138.44,101.51V110.70M138.61,93.47V103.35M138.78,97.79V105.88M138.95,100.51V109.36M139.12,102.00V113.62M139.29,104.91V113.53M139.47,99.95V110.43M139.64,96.90V110.04M139.81,100.77V111.37M139.98,96.42V105.37M140.15,95.79V106.07M140.32,103.81V109.61M140.49,93.72V102.16M140.66,94.65V106.11M140.83,99.25V109.66M141.01,103.14V110.86M141.18,96.73V108.37M141.35,93.79V104.91M141.52,99.30V106.68M141.69,100.20V110.91M141.86,101.59V113.05M142.03,103.52V111.73M142.20,100.44V109.70M142.37,98.72V109.06M142.55,98.84V108.23M142.72,101.67V113.67M142.89,98.49V111.37M143.06,104.91V112.16M143.23,104.40V115.27M143.40,99.41V110.10M143.57,107.09V117.67M143.74,103.25V111.29M143.91,102.77V110.08M144.08,101.67V109.74M144.26,99.31V109.76M144.43,108.38V116.37M144.60,108.42V117.65M144.77,104.35V111.58M144.94,96.63V109.34M145.11,107.64V118.01M145.28,103.91V111.20M145.45,100.23V111.13M145.62,107.48V113.77M145.80,99.26V109.29M145.97,98.74V109.44M146.14,102.42V111.02M146.31,103.64V112.13M146.48,96.49V106.57M146.65,105.48V113.28M146.82,100.86V109.72M146.99,97.18V107.92M147.16,103.44V112.00M147.33,100.84V111.64M147.51,99.89V110.40M147.68,100.96V107.28M147.85,98.81V106.60M148.02,103.83V117.79M148.19,100.97V111.81M148.36,95.23V108.14M148.53,98.76V111.57M148.70,106.69V117.48M148.87,98.05V108.66M149.05,95.21V106.06M149.22,95.85V105.36M149.39,98.25V109.84M149.56,98.19V107.52M149.73,96.47V104.50M149.90,94.92V105.27M150.07,94.84V105.96M150.24,101.10V108.17M150.41,101.87V112.41M150.58,96.46V108.52M150.76,89.61V101.05M150.93,92.21V103.75M151.10,93.99V105.93M151.27,97.05V108.61M151.44,99.99V110.27M151.61,98.44V108.68M151.78,98.82V110.43M151.95,99.72V111.31M152.12,98.96V109.25M152.30,99.87V107.59M152.47,100.46V110.94M152.64,100.14V108.98M152.81,94.84V106.30M152.98,100.25V109.30M153.15,103.47V113.55M153.32,100.20V111.50M153.49,91.93V101.33M153.66,90.20V104.15M153.84,96.82V104.42M154.01,95.26V103.47M154.18,97.22V106.49M154.35,96.08V105.47M154.52,96.63V103.34M154.69,93.54V104.58M154.86,97.54V108.80M155.03,93.91V102.05M155.20,100.06V106.51M155.37,100.47V110.03M155.55,94.06V100.69M155.72,94.31V105.30M155.89,97.24V103.29M156.06,97.23V108.16M156.23,98.72V111.99M156.40,95.59V104.29M156.57,96.22V106.64M156.74,101.24V112.57M156.91,96.87V107.18M157.09,92.06V100.00M157.26,97.91V107.81M157.43,102.49V113.04M157.60,100.24V106.81M157.77,95.66V105.50M157.94,99.21V106.85M158.11,94.61V100.95M158.28,96.81V103.72M158.45,94.32V105.00M158.62,97.69V107.31M158.80,95.42V106.38M158.97,93.26V105.72M159.14,94.73V104.25M159.31,95.92V104.68M159.48,99.58V110.72M159.65,98.04V111.70M159.82,96.34V108.33M159.99,92.69V104.79M160.16,92.76V106.69M160.34,103.22V109.36M160.51,101.68V108.87M160.68,100.61V108.00M160.85,103.75V111.30M161.02,98.42V110.83M161.19,93.97V103.39M161.36,97.07V105.20M161.53,103.54V110.47M161.70,99.09V110.26M161.87,103.15V113.74M162.05,96.64V110.04M162.22,98.09V108.26M162.39,95.74V105.37M162.56,101.44V111.35M162.73,96.92V110.00M162.90,100.98V111.07M163.07,105.11V117.60M163.24,102.37V111.91M163.41,99.80V108.04M163.59,101.40V110.07M163.76,103.02V111.78M163.93,104.42V114.93M164.10,106.36V114.31M164.27,99.26V109.74M164.44,99.79V110.45M164.61,102.90V111.14M164.78,101.00V106.38M164.95,99.36V105.87M165.13,98.39V108.96M165.30,102.74V109.13M165.47,104.42V117.49M165.64,104.30V112.55M165.81,98.88V107.12M165.98,100.03V111.18M166.15,98.87V110.46M166.32,97.70V110.00M166.49,100.12V113.37M166.66,100.27V109.92M166.84,99.89V110.77M167.01,104.41V114.09M167.18,105.24V115.19M167.35,106.16V113.74M167.52,98.96V109.90M167.69,97.05V103.22M167.86,91.97V102.81M168.03,99.34V107.47M168.20,104.55V114.57M168.38,102.57V112.19M168.55,106.42V116.48M168.72,100.66V112.43M168.89,110.10V117.67M169.06,101.15V111.64M169.23,97.48V107.11M169.40,98.63V110.78M169.57,106.36V112.97M169.74,103.39V111.96M169.91,105.54V115.93M170.09,110.84V120.88M170.26,106.75V118.02M170.43,105.82V117.59M170.60,105.36V111.94M170.77,101.07V110.33M170.94,106.23V117.78M171.11,97.20V109.74M171.28,105.23V115.24M171.45,103.89V112.15M171.63,105.32V117.94M171.80,105.53V115.21M171.97,110.49V117.42M172.14,105.41V114.33M172.31,105.07V114.83M172.48,99.44V112.32M172.65,100.46V108.84M172.82,105.16V118.33M172.99,104.56V110.17M173.16,105.73V117.47M173.34,109.16V115.65M173.51,107.07V119.23M173.68,105.86V116.79M173.85,107.40V118.61M174.02,105.05V113.25M174.19,108.86V116.06M174.36,109.19V117.21M174.53,109.62V118.04M174.70,109.24V119.15M174.88,108.85V117.96M175.05,106.54V112.53M175.22,100.99V107.85M175.39,106.95V113.15M175.56,107.46V115.73M175.73,109.52V117.54M175.90,106.15V115.25M176.07,108.55V120.88M176.24,108.52V115.97M176.42,106.89V120.15M176.59,106.87V118.29M176.76,108.78V119.31M176.93,104.98V118.66M177.10,107.23V113.90M177.27,103.79V117.28M177.44,103.60V111.71M177.61,104.29V112.22M177.78,106.95V120.53M177.95,104.51V112.88M178.13,106.69V116.65M178.30,101.18V110.91M178.47,99.58V105.31M178.64,105.76V116.77M178.81,109.12V120.39M178.98,107.78V118.38M179.15,96.92V109.89M179.32,98.71V110.25M179.49,105.23V115.71M179.67,104.02V116.50M179.84,106.83V114.63M180.01,100.96V108.97M180.18,105.69V115.00M180.35,107.56V114.89M180.52,99.85V110.89M180.69,103.57V113.94M180.86,102.12V115.73M181.03,105.57V113.06M181.20,102.27V109.54M181.38,106.52V118.33M181.55,106.41V117.31M181.72,107.88V120.14M181.89,104.63V112.02M182.06,102.83V111.08M182.23,105.67V112.87M182.40,99.13V112.71M182.57,97.73V107.58M182.74,105.43V116.09M182.92,103.96V112.46M183.09,100.23V111.87M183.26,105.77V116.26M183.43,107.93V119.09M183.60,100.26V112.33M183.77,100.06V112.33M183.94,103.78V110.83M184.11,101.94V112.01M184.28,101.13V107.87M184.45,103.93V115.61M184.63,101.33V110.09M184.80,102.39V113.81M184.97,104.05V110.16M185.14,108.36V117.40M185.31,108.14V120.92M185.48,104.49V110.32M185.65,104.26V114.51M185.82,102.13V111.46M185.99,103.21V111.17M186.17,106.01V114.79M186.34,103.43V115.59M186.51,105.13V118.68M186.68,107.96V119.85M186.85,103.01V110.60M187.02,104.12V113.61M187.19,104.66V116.39M187.36,104.59V114.59M187.53,103.22V113.57M187.71,101.98V113.93M187.88,104.32V114.60M188.05,115.74V123.79M188.22,106.99V118.01M188.39,105.08V113.85M188.56,110.05V122.80M188.73,104.39V116.20M188.90,105.16V111.58M189.07,111.37V119.27M189.24,105.98V113.81M189.42,106.83V116.45M189.59,105.36V115.36M189.76,103.78V114.95M189.93,101.85V113.42M190.10,103.12V115.82M190.27,108.30V120.59M190.44,111.72V121.49M190.61,109.62V117.78M190.78,104.40V115.83M190.96,110.14V119.70M191.13,108.87V119.48M191.30,111.55V119.35M191.47,107.94V118.25M191.64,111.45V123.25M191.81,111.77V121.44M191.98,115.75V122.94M192.15,116.11V122.45M192.32,109.84V118.09M192.49,111.31V119.38M192.67,115.56V124.61M192.84,107.90V119.69M193.01,106.65V119.00M193.18,100.69V111.58M193.35,102.80V113.80M193.52,105.91V118.81M193.69,108.80V119.58M193.86,102.65V113.26M194.03,107.89V116.16M194.21,111.16V118.43M194.38,111.54V118.00M194.55,111.01V119.76M194.72,107.05V116.62M194.89,109.22V118.78M195.06,105.46V114.22M195.23,105.15V111.73M195.40,107.87V120.40M195.57,101.43V109.20M195.74,104.58V112.48M195.92,106.49V116.63M196.09,102.94V111.39M196.26,102.13V112.40M196.43,102.56V114.74M196.60,106.72V112.77M196.77,100.85V112.06M196.94,106.88V118.92M197.11,109.26V114.69M197.28,104.93V114.68M197.46,96.17V105.70M197.63,102.98V112.71M197.80,107.43V118.66M197.97,102.31V113.91M198.14,101.97V110.46M198.31,104.90V112.40M198.48,97.69V111.18M198.65,101.57V109.21M198.82,97.40V108.65M199.00,103.17V113.70M199.17,108.12V116.75M199.34,107.25V117.65M199.51,101.51V113.40M199.68,102.06V112.95M199.85,104.16V112.53M200.02,109.52V117.20M200.19,106.89V114.98M200.36,99.53V110.38M200.53,103.84V112.70M200.71,106.35V116.04M200.88,97.78V111.21M201.05,102.56V111.13M201.22,98.58V111.23M201.39,98.99V112.82M201.56,99.00V108.05M201.73,103.40V111.54" stroke="#0a0a0a" stroke-width="0.38" fill="none"/>
<path d="M145.11,108.85V130.90M145.51,108.85V127.75M165.16,103.60V121.97" stroke="#111" stroke-width="0.6"/>
<polyline points="136.90,101.70 137.07,105.72 137.24,108.28 137.41,105.15 137.58,106.52 137.76,105.96 137.93,108.43 138.10,108.46 138.27,106.64 138.44,101.04 138.61,99.32 138.78,105.11 138.95,105.90 139.12,106.40 139.29,107.62 139.47,107.18 139.64,104.76 139.81,104.52 139.98,103.77 140.15,103.70 140.32,105.17 140.49,102.42 140.66,101.60 140.83,104.83 141.01,105.97 141.18,104.32 141.35,100.98 141.52,102.25 141.69,105.68 141.86,103.67 142.03,104.68 142.20,106.72 142.37,103.93 142.55,102.56 142.72,103.81 142.89,103.70 143.06,108.36 143.23,107.91 143.40,105.14 143.57,109.65 143.74,108.10 143.91,104.89 144.08,106.67 144.26,110.19 144.43,110.19 144.60,109.24 144.77,107.56 144.94,106.54 145.11,108.39 145.28,107.48 145.45,107.53 145.62,110.02 145.80,107.99 145.97,104.87 146.14,105.48 146.31,107.10 146.48,106.01 146.65,108.42 146.82,107.50 146.99,102.67 147.16,106.25 147.33,106.87 147.51,105.75 147.68,104.62 147.85,106.26 148.02,108.86 148.19,104.49 148.36,101.19 148.53,105.67 148.70,108.23 148.87,104.27 149.05,104.40 149.22,102.36 149.39,103.23 149.56,105.13 149.73,104.86 149.90,103.15 150.07,101.48 150.24,104.23 150.41,106.85 150.58,103.56 150.76,99.62 150.93,101.03 151.10,100.37 151.27,100.95 151.44,103.70 151.61,105.45 151.78,105.65 151.95,102.18 152.12,103.17 152.30,106.22 152.47,104.38 152.64,103.04 152.81,101.58 152.98,103.85 153.15,107.44 153.32,105.44 153.49,100.76 153.66,99.53 153.84,101.06 154.01,102.72 154.18,102.57 154.35,102.42 154.52,101.57 154.69,102.42 154.86,103.48 155.03,102.38 155.20,101.73 155.37,101.19 155.55,98.02 155.72,96.01 155.89,97.67 156.06,103.25 156.23,106.15 156.40,103.91 156.57,102.55 156.74,105.19 156.91,104.21 157.09,98.96 157.26,102.89 157.43,106.14 157.60,105.39 157.77,103.82 157.94,101.59 158.11,98.48 158.28,99.85 158.45,101.92 158.62,101.42 158.80,99.92 158.97,99.06 159.14,99.74 159.31,102.68 159.48,105.21 159.65,104.87 159.82,102.27 159.99,100.04 160.16,102.97 160.34,104.80 160.51,103.65 160.68,104.13 160.85,106.45 161.02,104.69 161.19,99.44 161.36,100.68 161.53,105.54 161.70,107.10 161.87,108.43 162.05,105.87 162.22,102.53 162.39,103.46 162.56,104.38 162.73,104.33 162.90,104.75 163.07,107.45 163.24,108.51 163.41,106.05 163.59,106.67 163.76,107.72 163.93,107.89 164.10,107.79 164.27,105.27 164.44,105.51 164.61,107.21 164.78,105.41 164.95,104.27 165.13,102.99 165.30,107.42 165.47,108.85 165.64,106.43 165.81,107.68 165.98,105.71 166.15,104.32 166.32,104.10 166.49,105.67 166.66,104.87 166.84,105.65 167.01,108.50 167.18,106.89 167.35,107.62 167.52,105.56 167.69,103.17 167.86,103.23 168.03,104.95 168.20,109.05 168.38,108.82 168.55,107.12 168.72,108.37 168.89,108.99 169.06,108.15 169.23,106.26 169.40,107.33 169.57,108.27 169.74,108.29 169.91,111.50 170.09,111.64 170.26,112.04 170.43,110.73 170.60,107.27 170.77,107.27 170.94,107.94 171.11,105.66 171.28,106.25 171.45,108.54 171.63,109.42 171.80,112.28 171.97,110.67 172.14,110.93 172.31,111.11 172.48,108.39 172.65,107.66 172.82,107.76 172.99,110.84 173.16,110.19 173.34,109.78 173.51,110.64 173.68,109.71 173.85,109.64 174.02,110.02 174.19,111.12 174.36,111.13 174.53,113.20 174.70,113.16 174.88,111.68 175.05,109.67 175.22,105.79 175.39,110.64 175.56,112.41 175.73,109.54 175.90,111.43 176.07,110.39 176.24,109.48 176.42,113.10 176.59,112.80 176.76,110.25 176.93,109.66 177.10,111.37 177.27,110.57 177.44,107.48 177.61,110.25 177.78,112.45 177.95,110.78 178.13,110.63 178.30,107.76 178.47,106.54 178.64,110.88 178.81,112.45 178.98,110.95 179.15,106.10 179.32,106.29 179.49,109.70 179.67,108.61 179.84,108.88 180.01,106.10 180.18,106.87 180.35,109.29 180.52,108.20 180.69,108.40 180.86,110.50 181.03,108.70 181.20,107.04 181.38,109.77 181.55,111.05 181.72,112.25 181.89,109.89 182.06,107.19 182.23,106.89 182.40,106.54 182.57,106.60 182.74,108.46 182.92,108.27 183.09,107.38 183.26,108.86 183.43,108.65 183.60,106.47 183.77,107.24 183.94,109.83 184.11,109.06 184.28,105.51 184.45,106.97 184.63,110.11 184.80,110.00 184.97,107.93 185.14,110.61 185.31,111.96 185.48,107.19 185.65,109.05 185.82,108.59 185.99,106.47 186.17,109.68 186.34,110.21 186.51,111.78 186.68,113.00 186.85,107.72 187.02,108.26 187.19,108.26 187.36,107.02 187.53,108.40 187.71,108.25 187.88,113.41 188.05,114.46 188.22,110.71 188.39,111.72 188.56,114.26 188.73,112.00 188.90,111.06 189.07,114.47 189.24,114.71 189.42,110.89 189.59,110.77 189.76,110.89 189.93,107.98 190.10,109.66 190.27,114.10 190.44,116.46 190.61,114.98 190.78,111.80 190.96,111.57 191.13,112.32 191.30,113.64 191.47,114.19 191.64,114.38 191.81,115.47 191.98,116.83 192.15,118.82 192.32,117.53 192.49,116.74 192.67,117.39 192.84,114.46 193.01,112.95 193.18,109.22 193.35,107.37 193.52,112.71 193.69,112.68 193.86,110.84 194.03,112.86 194.21,111.40 194.38,111.25 194.55,117.52 194.72,114.78 194.89,110.67 195.06,109.33 195.23,109.15 195.40,113.14 195.57,109.48 195.74,109.13 195.92,111.08 196.09,106.96 196.26,106.97 196.43,109.26 196.60,109.18 196.77,107.64 196.94,108.99 197.11,109.29 197.28,107.05 197.46,104.29 197.63,105.69 197.80,110.76 197.97,109.05 198.14,108.20 198.31,108.89 198.48,108.03 198.65,106.63 198.82,107.86 199.00,109.84 199.17,112.81 199.34,114.06 199.51,107.61 199.68,107.28 199.85,110.80 200.02,111.64 200.19,109.62 200.36,107.42 200.53,110.20 200.71,109.42 200.88,107.14 201.05,107.00 201.22,108.42 201.39,106.87 201.56,105.21 201.73,108.13" fill="none" stroke="#EE1111" stroke-width="0.95" stroke-linejoin="round" />
<line x1="129.70" y1="82.60" x2="131.50" y2="82.60" stroke="#555" stroke-width="0.7" />
<line x1="129.70" y1="93.10" x2="131.50" y2="93.10" stroke="#555" stroke-width="0.7" />
<line x1="129.70" y1="103.60" x2="131.50" y2="103.60" stroke="#555" stroke-width="0.7" />
<line x1="129.70" y1="114.10" x2="131.50" y2="114.10" stroke="#555" stroke-width="0.7" />
<line x1="129.70" y1="124.60" x2="131.50" y2="124.60" stroke="#555" stroke-width="0.7" />
<line x1="129.70" y1="135.10" x2="131.50" y2="135.10" stroke="#555" stroke-width="0.7" />
<line x1="130.50" y1="87.85" x2="131.50" y2="87.85" stroke="#555" stroke-width="0.7" />
<line x1="130.50" y1="98.35" x2="131.50" y2="98.35" stroke="#555" stroke-width="0.7" />
<line x1="130.50" y1="108.85" x2="131.50" y2="108.85" stroke="#555" stroke-width="0.7" />
<line x1="130.50" y1="119.35" x2="131.50" y2="119.35" stroke="#555" stroke-width="0.7" />
<line x1="130.50" y1="129.85" x2="131.50" y2="129.85" stroke="#555" stroke-width="0.7" />
<text x="123.0" y="87.60" font-size="7.6" font-weight="bold" text-anchor="end">4.0 × 10</text>
<text x="123.0" y="84.00" font-size="5.0" font-weight="bold">−3</text>
<text x="123.0" y="98.10" font-size="7.6" font-weight="bold" text-anchor="end">2.0 × 10</text>
<text x="123.0" y="94.50" font-size="5.0" font-weight="bold">−3</text>
<text x="128.00" y="106.40" font-size="7.6" font-weight="bold" text-anchor="end" fill="#000" >0.0</text>
<text x="123.0" y="119.10" font-size="7.6" font-weight="bold" text-anchor="end">−2.0 × 10</text>
<text x="123.0" y="115.50" font-size="5.0" font-weight="bold">−3</text>
<text x="123.0" y="129.60" font-size="7.6" font-weight="bold" text-anchor="end">−4.0 × 10</text>
<text x="123.0" y="126.00" font-size="5.0" font-weight="bold">−3</text>
<text x="123.0" y="140.10" font-size="7.6" font-weight="bold" text-anchor="end">−6.0 × 10</text>
<text x="123.0" y="136.50" font-size="5.0" font-weight="bold">−3</text>
<line x1="136.90" y1="140.30" x2="136.90" y2="142.10" stroke="#555" stroke-width="0.7" />
<text x="136.90" y="149.60" font-size="7.8" font-weight="bold" text-anchor="middle" fill="#000" >0</text>
<line x1="147.03" y1="140.30" x2="147.03" y2="142.10" stroke="#555" stroke-width="0.7" />
<text x="147.03" y="149.60" font-size="7.8" font-weight="bold" text-anchor="middle" fill="#000" >5</text>
<line x1="157.16" y1="140.30" x2="157.16" y2="142.10" stroke="#555" stroke-width="0.7" />
<text x="157.16" y="149.60" font-size="7.8" font-weight="bold" text-anchor="middle" fill="#000" >10</text>
<line x1="167.29" y1="140.30" x2="167.29" y2="142.10" stroke="#555" stroke-width="0.7" />
<text x="167.29" y="149.60" font-size="7.8" font-weight="bold" text-anchor="middle" fill="#000" >15</text>
<line x1="177.42" y1="140.30" x2="177.42" y2="142.10" stroke="#555" stroke-width="0.7" />
<text x="177.42" y="149.60" font-size="7.8" font-weight="bold" text-anchor="middle" fill="#000" >20</text>
<line x1="187.55" y1="140.30" x2="187.55" y2="142.10" stroke="#555" stroke-width="0.7" />
<text x="187.55" y="149.60" font-size="7.8" font-weight="bold" text-anchor="middle" fill="#000" >25</text>
<line x1="197.68" y1="140.30" x2="197.68" y2="142.10" stroke="#555" stroke-width="0.7" />
<text x="197.68" y="149.60" font-size="7.8" font-weight="bold" text-anchor="middle" fill="#000" >30</text>
<line x1="207.81" y1="140.30" x2="207.81" y2="142.10" stroke="#555" stroke-width="0.7" />
<text x="207.81" y="149.60" font-size="7.8" font-weight="bold" text-anchor="middle" fill="#000" >35</text>
<text x="168.40" y="157.20" font-size="7.5" font-weight="bold" text-anchor="middle" fill="#000" >Time (s)</text>
<text x="89.10" y="109.00" font-size="7.8" font-weight="bold" text-anchor="middle" fill="#000" transform="rotate(-90 89.1 109.0)">ΔV (V)</text>
<text x="229.90" y="11.60" font-size="15" font-weight="bold" text-anchor="start" fill="#000" >b</text>
<rect x="271.60" y="12.50" width="182.70" height="147.50" fill="none" stroke="#555" stroke-width="1.0"/>
<line x1="268.80" y1="146.50" x2="271.60" y2="146.50" stroke="#333" stroke-width="1.0" />
<line x1="268.80" y1="113.00" x2="271.60" y2="113.00" stroke="#333" stroke-width="1.0" />
<line x1="268.80" y1="79.50" x2="271.60" y2="79.50" stroke="#333" stroke-width="1.0" />
<line x1="268.80" y1="46.00" x2="271.60" y2="46.00" stroke="#333" stroke-width="1.0" />
<line x1="268.80" y1="12.50" x2="271.60" y2="12.50" stroke="#333" stroke-width="1.0" />
<line x1="269.90" y1="129.75" x2="271.60" y2="129.75" stroke="#333" stroke-width="1.0" />
<line x1="269.90" y1="96.25" x2="271.60" y2="96.25" stroke="#333" stroke-width="1.0" />
<line x1="269.90" y1="62.75" x2="271.60" y2="62.75" stroke="#333" stroke-width="1.0" />
<line x1="269.90" y1="29.25" x2="271.60" y2="29.25" stroke="#333" stroke-width="1.0" />
<line x1="269.90" y1="156.55" x2="271.60" y2="156.55" stroke="#333" stroke-width="1.0" />
<line x1="289.50" y1="160.00" x2="289.50" y2="162.80" stroke="#333" stroke-width="1.0" />
<line x1="325.98" y1="160.00" x2="325.98" y2="162.80" stroke="#333" stroke-width="1.0" />
<line x1="362.46" y1="160.00" x2="362.46" y2="162.80" stroke="#333" stroke-width="1.0" />
<line x1="398.94" y1="160.00" x2="398.94" y2="162.80" stroke="#333" stroke-width="1.0" />
<line x1="435.42" y1="160.00" x2="435.42" y2="162.80" stroke="#333" stroke-width="1.0" />
<line x1="271.26" y1="160.00" x2="271.26" y2="161.70" stroke="#333" stroke-width="1.0" />
<line x1="307.74" y1="160.00" x2="307.74" y2="161.70" stroke="#333" stroke-width="1.0" />
<line x1="344.22" y1="160.00" x2="344.22" y2="161.70" stroke="#333" stroke-width="1.0" />
<line x1="380.70" y1="160.00" x2="380.70" y2="161.70" stroke="#333" stroke-width="1.0" />
<line x1="417.18" y1="160.00" x2="417.18" y2="161.70" stroke="#333" stroke-width="1.0" />
<line x1="453.66" y1="160.00" x2="453.66" y2="161.70" stroke="#333" stroke-width="1.0" />
<text x="265.00" y="150.80" font-size="11" font-weight="bold" text-anchor="end" fill="#000" >0.0</text>
<text x="265.00" y="117.30" font-size="11" font-weight="bold" text-anchor="end" fill="#000" >0.5</text>
<text x="265.00" y="83.80" font-size="11" font-weight="bold" text-anchor="end" fill="#000" >1.0</text>
<text x="265.00" y="50.30" font-size="11" font-weight="bold" text-anchor="end" fill="#000" >1.5</text>
<text x="265.00" y="16.80" font-size="11" font-weight="bold" text-anchor="end" fill="#000" >2.0</text>
<text x="289.50" y="175.90" font-size="11" font-weight="bold" text-anchor="middle" fill="#000" >0</text>
<text x="325.98" y="175.90" font-size="11" font-weight="bold" text-anchor="middle" fill="#000" >20</text>
<text x="362.46" y="175.90" font-size="11" font-weight="bold" text-anchor="middle" fill="#000" >40</text>
<text x="398.94" y="175.90" font-size="11" font-weight="bold" text-anchor="middle" fill="#000" >60</text>
<text x="435.42" y="175.90" font-size="11" font-weight="bold" text-anchor="middle" fill="#000" >80</text>
<text x="361.50" y="191.20" font-size="10.4" font-weight="bold" text-anchor="middle" fill="#000" >ΔP (Pa)</text>
<text x="240.70" y="88.00" font-size="10.8" font-weight="bold" text-anchor="middle" fill="#000" transform="rotate(-90 240.7 88.0)">ΔV (V)</text>
<polyline points="289.30,144.60 439.70,30.90" fill="none" stroke="#F01818" stroke-width="1.25" stroke-linejoin="round" stroke-dasharray="5 1.6 1.2 1.6"/>
<circle cx="289.5" cy="146.5" r="1.6" fill="#111"/>
<circle cx="337.1" cy="107.4" r="1.6" fill="#111"/>
<circle cx="383.0" cy="70.1" r="1.6" fill="#111"/>
<circle cx="441.7" cy="32.3" r="1.6" fill="#111"/>
<text x="301" y="33" font-size="10.7" fill="#000">Sensitivity: 0.21 V·Pa<tspan dy="-3.8" font-size="7.2">−1</tspan></text>
<text x="475.80" y="11.30" font-size="15" font-weight="bold" text-anchor="start" fill="#000" >c</text>
<rect x="506.80" y="13.10" width="167.40" height="64.80" fill="none" stroke="#555" stroke-width="1.0"/>
<line x1="504.00" y1="77.90" x2="506.80" y2="77.90" stroke="#333" stroke-width="1.0" />
<line x1="504.00" y1="61.70" x2="506.80" y2="61.70" stroke="#333" stroke-width="1.0" />
<line x1="504.00" y1="45.50" x2="506.80" y2="45.50" stroke="#333" stroke-width="1.0" />
<line x1="504.00" y1="29.30" x2="506.80" y2="29.30" stroke="#333" stroke-width="1.0" />
<line x1="504.00" y1="13.10" x2="506.80" y2="13.10" stroke="#333" stroke-width="1.0" />
<line x1="505.10" y1="69.80" x2="506.80" y2="69.80" stroke="#333" stroke-width="1.0" />
<line x1="505.10" y1="53.60" x2="506.80" y2="53.60" stroke="#333" stroke-width="1.0" />
<line x1="505.10" y1="37.40" x2="506.80" y2="37.40" stroke="#333" stroke-width="1.0" />
<line x1="505.10" y1="21.20" x2="506.80" y2="21.20" stroke="#333" stroke-width="1.0" />
<line x1="506.80" y1="77.90" x2="506.80" y2="80.70" stroke="#333" stroke-width="1.0" />
<line x1="548.65" y1="77.90" x2="548.65" y2="80.70" stroke="#333" stroke-width="1.0" />
<line x1="590.50" y1="77.90" x2="590.50" y2="80.70" stroke="#333" stroke-width="1.0" />
<line x1="632.36" y1="77.90" x2="632.36" y2="80.70" stroke="#333" stroke-width="1.0" />
<line x1="674.21" y1="77.90" x2="674.21" y2="80.70" stroke="#333" stroke-width="1.0" />
<line x1="527.73" y1="77.90" x2="527.73" y2="79.60" stroke="#333" stroke-width="1.0" />
<line x1="569.58" y1="77.90" x2="569.58" y2="79.60" stroke="#333" stroke-width="1.0" />
<line x1="611.43" y1="77.90" x2="611.43" y2="79.60" stroke="#333" stroke-width="1.0" />
<line x1="653.28" y1="77.90" x2="653.28" y2="79.60" stroke="#333" stroke-width="1.0" />
<text x="499.80" y="82.10" font-size="11" font-weight="bold" text-anchor="end" fill="#000" >0.0</text>
<text x="499.80" y="65.90" font-size="11" font-weight="bold" text-anchor="end" fill="#000" >0.5</text>
<text x="499.80" y="49.70" font-size="11" font-weight="bold" text-anchor="end" fill="#000" >1.0</text>
<text x="499.80" y="33.50" font-size="11" font-weight="bold" text-anchor="end" fill="#000" >1.5</text>
<text x="499.80" y="17.30" font-size="11" font-weight="bold" text-anchor="end" fill="#000" >2.0</text>
<rect x="506.80" y="97.30" width="167.40" height="65.10" fill="none" stroke="#555" stroke-width="1.0"/>
<line x1="504.00" y1="162.40" x2="506.80" y2="162.40" stroke="#333" stroke-width="1.0" />
<line x1="504.00" y1="150.60" x2="506.80" y2="150.60" stroke="#333" stroke-width="1.0" />
<line x1="504.00" y1="138.80" x2="506.80" y2="138.80" stroke="#333" stroke-width="1.0" />
<line x1="504.00" y1="127.00" x2="506.80" y2="127.00" stroke="#333" stroke-width="1.0" />
<line x1="504.00" y1="115.20" x2="506.80" y2="115.20" stroke="#333" stroke-width="1.0" />
<line x1="504.00" y1="103.40" x2="506.80" y2="103.40" stroke="#333" stroke-width="1.0" />
<line x1="505.10" y1="156.50" x2="506.80" y2="156.50" stroke="#333" stroke-width="1.0" />
<line x1="505.10" y1="144.70" x2="506.80" y2="144.70" stroke="#333" stroke-width="1.0" />
<line x1="505.10" y1="132.90" x2="506.80" y2="132.90" stroke="#333" stroke-width="1.0" />
<line x1="505.10" y1="121.10" x2="506.80" y2="121.10" stroke="#333" stroke-width="1.0" />
<line x1="505.10" y1="109.30" x2="506.80" y2="109.30" stroke="#333" stroke-width="1.0" />
<line x1="505.10" y1="97.50" x2="506.80" y2="97.50" stroke="#333" stroke-width="1.0" />
<line x1="506.80" y1="162.40" x2="506.80" y2="165.20" stroke="#333" stroke-width="1.0" />
<line x1="548.65" y1="162.40" x2="548.65" y2="165.20" stroke="#333" stroke-width="1.0" />
<line x1="590.50" y1="162.40" x2="590.50" y2="165.20" stroke="#333" stroke-width="1.0" />
<line x1="632.36" y1="162.40" x2="632.36" y2="165.20" stroke="#333" stroke-width="1.0" />
<line x1="674.21" y1="162.40" x2="674.21" y2="165.20" stroke="#333" stroke-width="1.0" />
<line x1="527.73" y1="162.40" x2="527.73" y2="164.10" stroke="#333" stroke-width="1.0" />
<line x1="569.58" y1="162.40" x2="569.58" y2="164.10" stroke="#333" stroke-width="1.0" />
<line x1="611.43" y1="162.40" x2="611.43" y2="164.10" stroke="#333" stroke-width="1.0" />
<line x1="653.28" y1="162.40" x2="653.28" y2="164.10" stroke="#333" stroke-width="1.0" />
<text x="499.80" y="166.60" font-size="11" font-weight="bold" text-anchor="end" fill="#000" >0.0</text>
<text x="499.80" y="154.80" font-size="11" font-weight="bold" text-anchor="end" fill="#000" >0.5</text>
<text x="499.80" y="143.00" font-size="11" font-weight="bold" text-anchor="end" fill="#000" >1.0</text>
<text x="499.80" y="131.20" font-size="11" font-weight="bold" text-anchor="end" fill="#000" >1.5</text>
<text x="499.80" y="119.40" font-size="11" font-weight="bold" text-anchor="end" fill="#000" >2.0</text>
<text x="499.80" y="107.60" font-size="11" font-weight="bold" text-anchor="end" fill="#000" >2.5</text>
<text x="507.10" y="89.90" font-size="11" font-weight="bold" text-anchor="middle" fill="#000" >0</text>
<text x="506.80" y="177.80" font-size="11" font-weight="bold" text-anchor="middle" fill="#000" >0</text>
<text x="548.95" y="89.90" font-size="11" font-weight="bold" text-anchor="middle" fill="#000" >40</text>
<text x="548.65" y="177.80" font-size="11" font-weight="bold" text-anchor="middle" fill="#000" >40</text>
<text x="590.80" y="89.90" font-size="11" font-weight="bold" text-anchor="middle" fill="#000" >80</text>
<text x="590.50" y="177.80" font-size="11" font-weight="bold" text-anchor="middle" fill="#000" >80</text>
<text x="632.66" y="89.90" font-size="11" font-weight="bold" text-anchor="middle" fill="#000" >120</text>
<text x="632.36" y="177.80" font-size="11" font-weight="bold" text-anchor="middle" fill="#000" >120</text>
<text x="674.51" y="89.90" font-size="11" font-weight="bold" text-anchor="middle" fill="#000" >160</text>
<text x="674.21" y="177.80" font-size="11" font-weight="bold" text-anchor="middle" fill="#000" >160</text>
<text x="589.10" y="193.60" font-size="10.7" font-weight="bold" text-anchor="middle" fill="#000" >Time(s)</text>
<text x="473.6" y="89" font-size="10.6" font-weight="bold" text-anchor="middle" transform="rotate(-90 473.6 89)">V<tspan font-size="7.4" dy="2.4">out</tspan><tspan dy="-2.4">(V)</tspan></text>
<text x="636.40" y="31.60" font-size="10.6" font-weight="normal" text-anchor="start" fill="#000" >50 Pa</text>
<text x="634.20" y="108.90" font-size="10.6" font-weight="normal" text-anchor="start" fill="#000" >100 Pa</text>
<line x1="517.70" y1="39.99" x2="658.00" y2="39.99" stroke="#BBBBBB" stroke-width="1.2" stroke-dasharray="4.4 3.7"/>
<line x1="517.70" y1="113.31" x2="658.00" y2="113.31" stroke="#BBBBBB" stroke-width="1.2" stroke-dasharray="4.4 3.7"/>
<polyline points="506.80,77.90 506.91,77.90 507.01,77.90 507.12,77.90 507.23,77.90 507.33,77.90 507.44,77.90 507.55,77.90 507.66,77.90 507.76,77.90 507.87,77.90 507.98,77.90 508.08,77.90 508.19,77.90 508.30,77.90 508.40,77.90 508.51,77.90 508.62,77.90 508.73,77.90 508.83,77.90 508.94,77.90 509.05,77.90 509.15,77.90 509.26,77.90 509.37,77.90 509.47,77.90 509.58,77.90 509.69,77.90 509.79,77.90 509.90,77.90 510.01,77.90 510.12,77.90 510.22,77.90 510.33,77.90 510.44,77.90 510.54,77.90 510.65,77.90 510.76,77.90 510.86,77.90 510.97,77.90 511.08,77.90 511.18,77.90 511.29,77.90 511.40,77.90 511.51,77.90 511.61,77.90 511.72,77.90 511.83,77.90 511.93,77.90 512.04,77.90 512.15,77.90 512.25,77.90 512.36,77.90 512.47,77.90 512.58,77.90 512.68,77.90 512.79,77.90 512.90,77.90 513.00,77.90 513.11,77.90 513.22,77.90 513.32,77.90 513.43,77.90 513.54,77.90 513.64,77.90 513.75,77.90 513.86,77.90 513.97,77.90 514.07,77.90 514.18,77.90 514.29,77.90 514.39,77.90 514.50,77.90 514.61,77.90 514.71,77.90 514.82,77.90 514.93,77.90 515.04,77.90 515.14,77.90 515.25,77.90 515.36,77.90 515.46,77.90 515.57,77.90 515.68,77.90 515.78,77.90 515.89,77.90 516.00,77.90 516.10,77.90 516.21,77.90 516.32,77.90 516.43,77.90 516.53,77.90 516.64,77.90 516.75,77.90 516.85,77.90 516.96,77.90 517.07,77.90 517.17,77.90 517.28,77.90 517.39,77.90 517.49,77.90 517.60,77.90 517.71,77.90 517.82,77.90 517.92,77.90 518.03,77.90 518.14,77.90 518.24,77.90 518.35,77.90 518.46,77.90 518.56,77.90 518.67,77.90 518.78,77.90 518.89,77.90 518.99,77.90 519.10,77.90 519.21,77.90 519.31,77.90 519.42,77.90 519.53,77.90 519.63,77.90 519.74,77.90 519.85,77.90 519.95,77.90 520.06,77.90 520.17,77.90 520.28,77.90 520.38,77.90 520.49,77.90 520.60,77.90 520.70,77.90 520.81,77.90 520.92,77.90 521.02,77.90 521.13,77.90 521.24,77.90 521.34,77.90 521.45,77.90 521.56,77.90 521.67,77.90 521.77,77.90 521.88,77.90 521.99,77.90 522.09,77.90 522.20,77.90 522.31,77.90 522.41,77.90 522.52,77.90 522.63,77.90 522.74,77.90 522.84,77.90 522.95,77.90 523.06,77.90 523.16,77.90 523.27,77.90 523.38,77.90 523.48,77.90 523.59,77.90 523.70,77.90 523.80,77.90 523.91,77.90 524.02,77.90 524.13,77.90 524.23,77.90 524.34,77.90 524.45,77.90 524.55,77.90 524.66,77.90 524.77,77.90 524.87,77.90 524.98,77.90 525.09,77.90 525.20,77.90 525.30,77.90 525.41,77.90 525.52,77.90 525.62,77.90 525.73,77.90 525.84,77.90 525.94,77.90 526.05,77.90 526.16,77.90 526.26,77.90 526.37,77.90 526.48,77.90 526.59,77.90 526.69,77.90 526.80,77.90 526.91,77.90 527.01,77.90 527.12,77.90 527.23,77.90 527.33,77.90 527.44,77.90 527.55,77.90 527.65,77.90 527.76,77.90 527.87,77.90 527.98,77.90 528.08,77.90 528.19,77.90 528.30,77.90 528.40,77.90 528.51,77.90 528.62,77.90 528.72,77.90 528.83,77.90 528.94,77.90 529.05,77.90 529.15,77.90 529.26,77.68 529.37,77.01 529.47,76.10 529.58,75.03 529.69,73.84 529.79,72.56 529.90,71.22 530.01,69.83 530.11,68.43 530.22,67.01 530.33,65.59 530.44,64.19 530.54,62.81 530.65,61.46 530.76,60.15 530.86,58.87 530.97,57.65 531.08,56.47 531.18,55.34 531.29,54.27 531.40,53.25 531.51,52.29 531.61,51.37 531.72,50.51 531.83,49.71 531.93,48.95 532.04,48.25 532.15,47.59 532.25,46.98 532.36,46.42 532.47,45.89 532.57,45.41 532.68,44.96 532.79,44.55 532.90,44.17 533.00,43.83 533.11,43.51 533.22,43.23 533.32,42.96 533.43,42.72 533.54,42.51 533.64,42.31 533.75,42.13 533.86,41.97 533.96,41.83 534.07,41.70 534.18,41.58 534.29,41.47 534.39,41.38 534.50,41.30 534.61,41.22 534.71,41.15 534.82,41.09 534.93,41.04 535.03,40.99 535.14,40.95 535.25,40.91 535.36,40.88 535.46,40.85 535.57,40.82 535.68,40.80 535.78,40.78 535.89,40.76 536.00,40.75 536.10,40.73 536.21,40.72 536.32,40.71 536.42,40.70 536.53,40.69 536.64,40.69 536.75,40.68 536.85,40.67 536.96,40.67 537.07,40.67 537.17,40.66 537.28,40.66 537.39,40.66 537.49,40.65 537.60,40.65 537.71,40.65 537.82,40.65 537.92,40.65 538.03,40.65 538.14,40.65 538.24,40.64 538.35,40.64 538.46,40.64 538.56,40.64 538.67,40.64 538.78,40.64 538.88,40.64 538.99,40.64 539.10,40.64 539.21,40.64 539.31,40.64 539.42,40.64 539.53,40.64 539.63,40.64 539.74,40.64 539.85,40.64 539.95,40.64 540.06,40.64 540.17,40.64 540.27,40.64 540.38,40.64 540.49,40.64 540.60,40.64 540.70,40.64 540.81,40.64 540.92,40.64 541.02,40.64 541.13,40.64 541.24,40.64 541.34,40.64 541.45,40.64 541.56,40.64 541.67,40.64 541.77,40.64 541.88,40.64 541.99,40.64 542.09,40.64 542.20,40.64 542.31,40.64 542.41,40.64 542.52,40.64 542.63,40.64 542.73,40.64 542.84,40.64 542.95,40.64 543.06,40.64 543.16,40.64 543.27,40.64 543.38,40.64 543.48,40.64 543.59,40.64 543.70,40.64 543.80,40.64 543.91,40.64 544.02,40.64 544.13,40.64 544.23,40.64 544.34,40.64 544.45,40.64 544.55,40.64 544.66,40.64 544.77,40.64 544.87,40.64 544.98,40.64 545.09,40.64 545.19,40.64 545.30,40.64 545.41,40.64 545.52,40.64 545.62,40.64 545.73,40.64 545.84,40.64 545.94,40.64 546.05,40.64 546.16,40.64 546.26,40.64 546.37,40.64 546.48,40.64 546.58,40.64 546.69,40.64 546.80,40.64 546.91,40.64 547.01,40.64 547.12,40.64 547.23,40.64 547.33,40.64 547.44,40.64 547.55,40.64 547.65,40.64 547.76,40.64 547.87,40.64 547.98,40.64 548.08,40.64 548.19,40.64 548.30,40.64 548.40,40.64 548.51,40.64 548.62,40.64 548.72,40.64 548.83,40.64 548.94,40.64 549.04,40.64 549.15,40.64 549.26,40.64 549.37,40.64 549.47,40.64 549.58,40.64 549.69,40.70 549.79,40.92 549.90,41.30 550.01,41.82 550.11,42.50 550.22,43.31 550.33,44.25 550.43,45.30 550.54,46.46 550.65,47.70 550.76,49.02 550.86,50.41 550.97,51.84 551.08,53.30 551.18,54.78 551.29,56.26 551.40,57.74 551.50,59.19 551.61,60.62 551.72,62.01 551.83,63.34 551.93,64.63 552.04,65.85 552.15,67.00 552.25,68.09 552.36,69.11 552.47,70.06 552.57,70.93 552.68,71.73 552.79,72.47 552.89,73.14 553.00,73.74 553.11,74.28 553.22,74.77 553.32,75.20 553.43,75.58 553.54,75.92 553.64,76.21 553.75,76.47 553.86,76.69 553.96,76.89 554.07,77.05 554.18,77.19 554.29,77.31 554.39,77.42 554.50,77.50 554.61,77.57 554.71,77.64 554.82,77.68 554.93,77.73 555.03,77.76 555.14,77.79 555.25,77.81 555.35,77.83 555.46,77.84 555.57,77.86 555.68,77.87 555.78,77.87 555.89,77.88 556.00,77.88 556.10,77.89 556.21,77.89 556.32,77.89 556.42,77.89 556.53,77.90 556.64,77.90 556.74,77.90 556.85,77.90 556.96,77.90 557.07,77.90 557.17,77.90 557.28,77.90 557.39,77.90 557.49,77.90 557.60,77.90 557.71,77.90 557.81,77.90 557.92,77.90 558.03,77.90 558.14,77.90 558.24,77.90 558.35,77.90 558.46,77.90 558.56,77.90 558.67,77.90 558.78,77.90 558.88,77.90 558.99,77.90 559.10,77.90 559.20,77.90 559.31,77.90 559.42,77.90 559.53,77.90 559.63,77.90 559.74,77.90 559.85,77.90 559.95,77.90 560.06,77.90 560.17,77.90 560.27,77.90 560.38,77.90 560.49,77.90 560.60,77.90 560.70,77.90 560.81,77.90 560.92,77.90 561.02,77.90 561.13,77.90 561.24,77.90 561.34,77.90 561.45,77.90 561.56,77.90 561.66,77.90 561.77,77.90 561.88,77.90 561.99,77.90 562.09,77.90 562.20,77.90 562.31,77.90 562.41,77.90 562.52,77.90 562.63,77.90 562.73,77.90 562.84,77.90 562.95,77.90 563.05,77.90 563.16,77.90 563.27,77.90 563.38,77.90 563.48,77.90 563.59,77.90 563.70,77.90 563.80,77.90 563.91,77.90 564.02,77.90 564.12,77.90 564.23,77.90 564.34,77.90 564.45,77.90 564.55,77.90 564.66,77.90 564.77,77.90 564.87,77.90 564.98,77.90 565.09,77.90 565.19,77.90 565.30,77.90 565.41,77.90 565.51,77.90 565.62,77.90 565.73,77.90 565.84,77.90 565.94,77.90 566.05,77.90 566.16,77.90 566.26,77.90 566.37,77.90 566.48,77.90 566.58,77.90 566.69,77.90 566.80,77.90 566.91,77.90 567.01,77.90 567.12,77.90 567.23,77.90 567.33,77.90 567.44,77.90 567.55,77.90 567.65,77.90 567.76,77.90 567.87,77.90 567.97,77.90 568.08,77.90 568.19,77.90 568.30,77.90 568.40,77.90 568.51,77.90 568.62,77.90 568.72,77.90 568.83,77.90 568.94,77.90 569.04,77.90 569.15,77.90 569.26,77.90 569.36,77.90 569.47,77.90 569.58,77.90 569.69,77.90 569.79,77.90 569.90,77.90 570.01,77.90 570.11,77.90 570.22,77.90 570.33,77.90 570.43,77.90 570.54,77.90 570.65,77.90 570.76,77.90 570.86,77.90 570.97,77.90 571.08,77.90 571.18,77.82 571.29,77.24 571.40,76.40 571.50,75.37 571.61,74.21 571.72,72.96 571.82,71.63 571.93,70.26 572.04,68.86 572.15,67.44 572.25,66.03 572.36,64.62 572.47,63.23 572.57,61.87 572.68,60.55 572.79,59.26 572.89,58.02 573.00,56.83 573.11,55.68 573.21,54.59 573.32,53.56 573.43,52.58 573.54,51.65 573.64,50.77 573.75,49.95 573.86,49.18 573.96,48.46 574.07,47.79 574.18,47.16 574.28,46.58 574.39,46.05 574.50,45.55 574.61,45.09 574.71,44.67 574.82,44.29 574.93,43.93 575.03,43.61 575.14,43.31 575.25,43.04 575.35,42.80 575.46,42.57 575.57,42.37 575.67,42.19 575.78,42.02 575.89,41.87 576.00,41.74 576.10,41.61 576.21,41.51 576.32,41.41 576.42,41.32 576.53,41.24 576.64,41.17 576.74,41.11 576.85,41.05 576.96,41.00 577.07,40.96 577.17,40.92 577.28,40.89 577.39,40.86 577.49,40.83 577.60,40.81 577.71,40.78 577.81,40.77 577.92,40.75 578.03,40.74 578.13,40.72 578.24,40.71 578.35,40.70 578.46,40.69 578.56,40.69 578.67,40.68 578.78,40.68 578.88,40.67 578.99,40.67 579.10,40.66 579.20,40.66 579.31,40.66 579.42,40.65 579.52,40.65 579.63,40.65 579.74,40.65 579.85,40.65 579.95,40.65 580.06,40.65 580.17,40.64 580.27,40.64 580.38,40.64 580.49,40.64 580.59,40.64 580.70,40.64 580.81,40.64 580.92,40.64 581.02,40.64 581.13,40.64 581.24,40.64 581.34,40.64 581.45,40.64 581.56,40.64 581.66,40.64 581.77,40.64 581.88,40.64 581.98,40.64 582.09,40.64 582.20,40.64 582.31,40.64 582.41,40.64 582.52,40.64 582.63,40.64 582.73,40.64 582.84,40.64 582.95,40.64 583.05,40.64 583.16,40.64 583.27,40.64 583.38,40.64 583.48,40.64 583.59,40.64 583.70,40.64 583.80,40.64 583.91,40.64 584.02,40.64 584.12,40.64 584.23,40.64 584.34,40.64 584.44,40.64 584.55,40.64 584.66,40.64 584.77,40.64 584.87,40.64 584.98,40.64 585.09,40.64 585.19,40.64 585.30,40.64 585.41,40.64 585.51,40.64 585.62,40.64 585.73,40.64 585.83,40.64 585.94,40.64 586.05,40.64 586.16,40.64 586.26,40.64 586.37,40.64 586.48,40.64 586.58,40.64 586.69,40.64 586.80,40.64 586.90,40.64 587.01,40.64 587.12,40.64 587.23,40.64 587.33,40.64 587.44,40.64 587.55,40.64 587.65,40.64 587.76,40.64 587.87,40.64 587.97,40.64 588.08,40.64 588.19,40.64 588.29,40.64 588.40,40.64 588.51,40.64 588.62,40.64 588.72,40.64 588.83,40.64 588.94,40.64 589.04,40.64 589.15,40.64 589.26,40.64 589.36,40.64 589.47,40.64 589.58,40.64 589.69,40.64 589.79,40.64 589.90,40.64 590.01,40.64 590.11,40.64 590.22,40.64 590.33,40.64 590.43,40.64 590.54,40.64 590.65,40.64 590.75,40.64 590.86,40.64 590.97,40.64 591.08,40.64 591.18,40.64 591.29,40.64 591.40,40.64 591.50,40.64 591.61,40.64 591.72,40.64 591.82,40.64 591.93,40.64 592.04,40.67 592.14,40.86 592.25,41.20 592.36,41.69 592.47,42.34 592.57,43.12 592.68,44.03 592.79,45.06 592.89,46.19 593.00,47.42 593.11,48.73 593.21,50.10 593.32,51.52 593.43,52.97 593.54,54.45 593.64,55.93 593.75,57.41 593.86,58.88 593.96,60.31 594.07,61.70 594.18,63.05 594.28,64.35 594.39,65.58 594.50,66.76 594.60,67.86 594.71,68.89 594.82,69.85 594.93,70.74 595.03,71.56 595.14,72.31 595.25,72.99 595.35,73.61 595.46,74.17 595.57,74.66 595.67,75.11 595.78,75.50 595.89,75.85 596.00,76.15 596.10,76.42 596.21,76.65 596.32,76.85 596.42,77.02 596.53,77.17 596.64,77.29 596.74,77.40 596.85,77.49 596.96,77.56 597.06,77.62 597.17,77.67 597.28,77.72 597.39,77.75 597.49,77.78 597.60,77.81 597.71,77.83 597.81,77.84 597.92,77.85 598.03,77.86 598.13,77.87 598.24,77.88 598.35,77.88 598.45,77.89 598.56,77.89 598.67,77.89 598.78,77.89 598.88,77.90 598.99,77.90 599.10,77.90 599.20,77.90 599.31,77.90 599.42,77.90 599.52,77.90 599.63,77.90 599.74,77.90 599.85,77.90 599.95,77.90 600.06,77.90 600.17,77.90 600.27,77.90 600.38,77.90 600.49,77.90 600.59,77.90 600.70,77.90 600.81,77.90 600.91,77.90 601.02,77.90 601.13,77.90 601.24,77.90 601.34,77.90 601.45,77.90 601.56,77.90 601.66,77.90 601.77,77.90 601.88,77.90 601.98,77.90 602.09,77.90 602.20,77.90 602.30,77.90 602.41,77.90 602.52,77.90 602.63,77.90 602.73,77.90 602.84,77.90 602.95,77.90 603.05,77.90 603.16,77.90 603.27,77.90 603.37,77.90 603.48,77.90 603.59,77.90 603.70,77.90 603.80,77.90 603.91,77.90 604.02,77.90 604.12,77.90 604.23,77.90 604.34,77.90 604.44,77.90 604.55,77.90 604.66,77.90 604.76,77.90 604.87,77.90 604.98,77.90 605.09,77.90 605.19,77.90 605.30,77.90 605.41,77.90 605.51,77.90 605.62,77.90 605.73,77.90 605.83,77.90 605.94,77.90 606.05,77.90 606.16,77.90 606.26,77.90 606.37,77.90 606.48,77.90 606.58,77.90 606.69,77.90 606.80,77.90 606.90,77.90 607.01,77.90 607.12,77.90 607.22,77.90 607.33,77.90 607.44,77.90 607.55,77.90 607.65,77.90 607.76,77.90 607.87,77.90 607.97,77.90 608.08,77.90 608.19,77.90 608.29,77.90 608.40,77.90 608.51,77.90 608.61,77.90 608.72,77.90 608.83,77.90 608.94,77.90 609.04,77.90 609.15,77.90 609.26,77.90 609.36,77.90 609.47,77.90 609.58,77.90 609.68,77.90 609.79,77.90 609.90,77.90 610.01,77.90 610.11,77.90 610.22,77.90 610.33,77.90 610.43,77.90 610.54,77.90 610.65,77.90 610.75,77.90 610.86,77.90 610.97,77.90 611.07,77.90 611.18,77.90 611.29,77.90 611.40,77.90 611.50,77.90 611.61,77.90 611.72,77.64 611.82,76.94 611.93,76.02 612.04,74.93 612.14,73.73 612.25,72.45 612.36,71.10 612.47,69.72 612.57,68.31 612.68,66.89 612.79,65.48 612.89,64.08 613.00,62.70 613.11,61.35 613.21,60.04 613.32,58.77 613.43,57.55 613.53,56.38 613.64,55.25 613.75,54.18 613.86,53.17 613.96,52.21 614.07,51.30 614.18,50.45 614.28,49.64 614.39,48.89 614.50,48.19 614.60,47.54 614.71,46.93 614.82,46.37 614.92,45.85 615.03,45.37 615.14,44.93 615.25,44.52 615.35,44.14 615.46,43.80 615.57,43.49 615.67,43.20 615.78,42.94 615.89,42.71 615.99,42.49 616.10,42.30 616.21,42.12 616.32,41.96 616.42,41.82 616.53,41.69 616.64,41.57 616.74,41.47 616.85,41.37 616.96,41.29 617.06,41.21 617.17,41.15 617.28,41.09 617.38,41.03 617.49,40.99 617.60,40.94 617.71,40.91 617.81,40.87 617.92,40.85 618.03,40.82 618.13,40.80 618.24,40.78 618.35,40.76 618.45,40.74 618.56,40.73 618.67,40.72 618.78,40.71 618.88,40.70 618.99,40.69 619.10,40.68 619.20,40.68 619.31,40.67 619.42,40.67 619.52,40.66 619.63,40.66 619.74,40.66 619.84,40.66 619.95,40.65 620.06,40.65 620.17,40.65 620.27,40.65 620.38,40.65 620.49,40.65 620.59,40.65 620.70,40.64 620.81,40.64 620.91,40.64 621.02,40.64 621.13,40.64 621.23,40.64 621.34,40.64 621.45,40.64 621.56,40.64 621.66,40.64 621.77,40.64 621.88,40.64 621.98,40.64 622.09,40.64 622.20,40.64 622.30,40.64 622.41,40.64 622.52,40.64 622.63,40.64 622.73,40.64 622.84,40.64 622.95,40.64 623.05,40.64 623.16,40.64 623.27,40.64 623.37,40.64 623.48,40.64 623.59,40.64 623.69,40.64 623.80,40.64 623.91,40.64 624.02,40.64 624.12,40.64 624.23,40.64 624.34,40.64 624.44,40.64 624.55,40.64 624.66,40.64 624.76,40.64 624.87,40.64 624.98,40.64 625.09,40.64 625.19,40.64 625.30,40.64 625.41,40.64 625.51,40.64 625.62,40.64 625.73,40.64 625.83,40.64 625.94,40.64 626.05,40.64 626.15,40.64 626.26,40.64 626.37,40.64 626.48,40.64 626.58,40.64 626.69,40.64 626.80,40.64 626.90,40.64 627.01,40.64 627.12,40.64 627.22,40.64 627.33,40.64 627.44,40.64 627.54,40.64 627.65,40.64 627.76,40.64 627.87,40.64 627.97,40.64 628.08,40.64 628.19,40.64 628.29,40.64 628.40,40.64 628.51,40.64 628.61,40.64 628.72,40.64 628.83,40.64 628.94,40.64 629.04,40.64 629.15,40.64 629.26,40.64 629.36,40.64 629.47,40.64 629.58,40.64 629.68,40.64 629.79,40.64 629.90,40.64 630.00,40.64 630.11,40.64 630.22,40.64 630.33,40.64 630.43,40.64 630.54,40.64 630.65,40.64 630.75,40.64 630.86,40.64 630.97,40.64 631.07,40.64 631.18,40.64 631.29,40.64 631.39,40.64 631.50,40.64 631.61,40.64 631.72,40.64 631.82,40.64 631.93,40.64 632.04,40.64 632.14,40.64 632.25,40.64 632.36,40.64 632.46,40.64 632.57,40.73 632.68,40.97 632.79,41.37 632.89,41.93 633.00,42.62 633.11,43.46 633.21,44.42 633.32,45.49 633.43,46.66 633.53,47.92 633.64,49.25 633.75,50.65 633.85,52.08 633.96,53.55 634.07,55.03 634.18,56.51 634.28,57.99 634.39,59.44 634.50,60.86 634.60,62.24 634.71,63.57 634.82,64.84 634.92,66.05 635.03,67.19 635.14,68.27 635.25,69.28 635.35,70.21 635.46,71.07 635.57,71.86 635.67,72.59 635.78,73.24 635.89,73.83 635.99,74.37 636.10,74.84 636.21,75.27 636.31,75.64 636.42,75.97 636.53,76.26 636.64,76.51 636.74,76.73 636.85,76.92 636.96,77.08 637.06,77.22 637.17,77.33 637.28,77.43 637.38,77.52 637.49,77.59 637.60,77.64 637.70,77.69 637.81,77.73 637.92,77.77 638.03,77.79 638.13,77.81 638.24,77.83 638.35,77.85 638.45,77.86 638.56,77.87 638.67,77.87 638.77,77.88 638.88,77.88 638.99,77.89 639.10,77.89 639.20,77.89 639.31,77.89 639.42,77.90 639.52,77.90 639.63,77.90 639.74,77.90 639.84,77.90 639.95,77.90 640.06,77.90 640.16,77.90 640.27,77.90 640.38,77.90 640.49,77.90 640.59,77.90 640.70,77.90 640.81,77.90 640.91,77.90 641.02,77.90 641.13,77.90 641.23,77.90 641.34,77.90 641.45,77.90 641.56,77.90 641.66,77.90 641.77,77.90 641.88,77.90 641.98,77.90 642.09,77.90 642.20,77.90 642.30,77.90 642.41,77.90 642.52,77.90 642.62,77.90 642.73,77.90 642.84,77.90 642.95,77.90 643.05,77.90 643.16,77.90 643.27,77.90 643.37,77.90 643.48,77.90 643.59,77.90 643.69,77.90 643.80,77.90 643.91,77.90 644.01,77.90 644.12,77.90 644.23,77.90 644.34,77.90 644.44,77.90 644.55,77.90 644.66,77.90 644.76,77.90 644.87,77.90 644.98,77.90 645.08,77.90 645.19,77.90 645.30,77.90 645.41,77.90 645.51,77.90 645.62,77.90 645.73,77.90 645.83,77.90 645.94,77.90 646.05,77.90 646.15,77.90 646.26,77.90 646.37,77.90 646.47,77.90 646.58,77.90 646.69,77.90 646.80,77.90 646.90,77.90 647.01,77.90 647.12,77.90 647.22,77.90 647.33,77.90 647.44,77.90 647.54,77.90 647.65,77.90 647.76,77.90 647.87,77.90 647.97,77.90 648.08,77.90 648.19,77.90 648.29,77.90 648.40,77.90 648.51,77.90 648.61,77.90 648.72,77.90 648.83,77.90 648.93,77.90 649.04,77.90 649.15,77.90 649.26,77.90 649.36,77.90 649.47,77.90 649.58,77.90 649.68,77.90 649.79,77.90 649.90,77.90 650.00,77.90 650.11,77.90 650.22,77.90 650.32,77.90 650.43,77.90 650.54,77.90 650.65,77.90 650.75,77.90 650.86,77.90 650.97,77.90 651.07,77.90 651.18,77.90 651.29,77.90 651.39,77.90 651.50,77.90 651.61,77.90 651.72,77.90 651.82,77.90 651.93,77.90 652.04,77.90 652.14,77.90 652.25,77.90 652.36,77.90 652.46,77.90 652.57,77.90 652.68,77.90 652.78,77.90 652.89,77.90 653.00,77.90 653.11,77.90 653.21,77.90 653.32,77.90 653.43,77.90 653.53,77.90 653.64,77.90 653.75,77.90 653.85,77.90 653.96,77.90 654.07,77.90 654.17,77.90 654.28,77.90 654.39,77.90 654.50,77.90 654.60,77.90 654.71,77.90 654.82,77.90 654.92,77.90 655.03,77.90 655.14,77.90 655.24,77.90 655.35,77.90 655.46,77.90 655.57,77.90 655.67,77.90 655.78,77.90 655.89,77.90 655.99,77.90 656.10,77.90 656.21,77.90 656.31,77.90 656.42,77.90" fill="none" stroke="#E8141C" stroke-width="1.1" stroke-linejoin="round" />
<polyline points="506.80,162.40 506.90,162.40 507.01,162.40 507.11,162.40 507.22,162.40 507.32,162.40 507.43,162.40 507.53,162.40 507.64,162.40 507.74,162.40 507.85,162.40 507.95,162.40 508.06,162.40 508.16,162.40 508.27,162.40 508.37,162.40 508.48,162.40 508.58,162.40 508.68,162.40 508.79,162.40 508.89,162.40 509.00,162.40 509.10,162.40 509.21,162.40 509.31,162.40 509.42,162.40 509.52,162.40 509.63,162.40 509.73,162.40 509.84,162.40 509.94,162.40 510.05,162.40 510.15,162.40 510.26,162.40 510.36,162.40 510.46,162.40 510.57,162.40 510.67,162.40 510.78,162.40 510.88,162.40 510.99,162.40 511.09,162.40 511.20,162.40 511.30,162.40 511.41,162.40 511.51,162.40 511.62,162.40 511.72,162.40 511.83,162.40 511.93,162.40 512.04,162.40 512.14,162.40 512.24,162.40 512.35,162.40 512.45,162.40 512.56,162.40 512.66,162.40 512.77,162.40 512.87,162.40 512.98,162.40 513.08,162.40 513.19,162.40 513.29,162.40 513.40,162.40 513.50,162.40 513.61,162.40 513.71,162.40 513.82,162.40 513.92,162.40 514.02,162.40 514.13,162.40 514.23,162.40 514.34,162.40 514.44,162.40 514.55,162.40 514.65,162.40 514.76,162.40 514.86,162.40 514.97,162.40 515.07,162.40 515.18,162.40 515.28,162.40 515.39,162.40 515.49,162.40 515.60,162.40 515.70,162.40 515.80,162.40 515.91,162.40 516.01,162.40 516.12,162.40 516.22,162.40 516.33,162.40 516.43,162.40 516.54,162.40 516.64,162.40 516.75,162.40 516.85,162.40 516.96,162.40 517.06,162.40 517.17,162.40 517.27,162.40 517.38,162.40 517.48,162.40 517.58,162.40 517.69,162.40 517.79,162.40 517.90,162.40 518.00,162.40 518.11,162.40 518.21,162.40 518.32,162.40 518.42,162.40 518.53,162.40 518.63,162.40 518.74,162.40 518.84,162.40 518.95,162.40 519.05,162.40 519.16,162.40 519.26,162.40 519.36,162.40 519.47,162.40 519.57,162.40 519.68,162.40 519.78,162.40 519.89,162.40 519.99,162.40 520.10,162.40 520.20,162.40 520.31,162.40 520.41,162.40 520.52,162.40 520.62,162.40 520.73,162.40 520.83,162.40 520.94,162.40 521.04,162.40 521.14,162.40 521.25,162.40 521.35,162.40 521.46,162.40 521.56,162.40 521.67,162.40 521.77,162.40 521.88,162.40 521.98,162.40 522.09,162.40 522.19,162.40 522.30,162.40 522.40,162.40 522.51,162.40 522.61,162.40 522.72,162.40 522.82,162.40 522.92,162.40 523.03,162.40 523.13,162.40 523.24,162.40 523.34,162.40 523.45,162.40 523.55,162.40 523.66,162.40 523.76,162.40 523.87,162.40 523.97,162.40 524.08,162.40 524.18,162.40 524.29,162.40 524.39,162.40 524.50,162.40 524.60,162.40 524.70,162.40 524.81,162.40 524.91,162.40 525.02,162.40 525.12,162.40 525.23,162.40 525.33,162.40 525.44,162.40 525.54,162.40 525.65,162.40 525.75,162.40 525.86,162.40 525.96,162.40 526.07,162.40 526.17,162.40 526.28,162.40 526.38,162.40 526.48,162.40 526.59,162.40 526.69,162.40 526.80,162.40 526.90,162.40 527.01,162.40 527.11,162.40 527.22,162.37 527.32,161.66 527.43,160.52 527.53,159.11 527.64,157.51 527.74,155.77 527.85,153.93 527.95,152.04 528.06,150.10 528.16,148.16 528.26,146.22 528.37,144.30 528.47,142.43 528.58,140.60 528.68,138.83 528.79,137.12 528.89,135.49 529.00,133.93 529.10,132.45 529.21,131.05 529.31,129.73 529.42,128.49 529.52,127.32 529.63,126.23 529.73,125.22 529.84,124.28 529.94,123.41 530.04,122.61 530.15,121.87 530.25,121.19 530.36,120.56 530.46,119.99 530.57,119.47 530.67,118.99 530.78,118.56 530.88,118.16 530.99,117.81 531.09,117.48 531.20,117.19 531.30,116.93 531.41,116.69 531.51,116.47 531.62,116.28 531.72,116.10 531.82,115.95 531.93,115.80 532.03,115.68 532.14,115.56 532.24,115.46 532.35,115.36 532.45,115.28 532.56,115.21 532.66,115.14 532.77,115.07 532.87,115.02 532.98,114.97 533.08,114.92 533.19,114.88 533.29,114.84 533.40,114.80 533.50,114.77 533.60,114.73 533.71,114.70 533.81,114.68 533.92,114.65 534.02,114.62 534.13,114.60 534.23,114.58 534.34,114.55 534.44,114.53 534.55,114.51 534.65,114.49 534.76,114.47 534.86,114.45 534.97,114.44 535.07,114.42 535.17,114.40 535.28,114.38 535.38,114.36 535.49,114.34 535.59,114.33 535.70,114.31 535.80,114.29 535.91,114.27 536.01,114.26 536.12,114.24 536.22,114.22 536.33,114.21 536.43,114.19 536.54,114.17 536.64,114.16 536.75,114.14 536.85,114.12 536.95,114.10 537.06,114.09 537.16,114.07 537.27,114.05 537.37,114.04 537.48,114.02 537.58,114.00 537.69,113.99 537.79,113.97 537.90,113.95 538.00,113.94 538.11,113.92 538.21,113.90 538.32,113.89 538.42,113.87 538.53,113.85 538.63,113.83 538.73,113.82 538.84,113.80 538.94,113.78 539.05,113.77 539.15,113.75 539.26,113.73 539.36,113.72 539.47,113.70 539.57,113.68 539.68,113.67 539.78,113.65 539.89,113.63 539.99,113.62 540.10,113.60 540.20,113.58 540.31,113.57 540.41,113.55 540.51,113.53 540.62,113.51 540.72,113.50 540.83,113.48 540.93,113.46 541.04,113.45 541.14,113.43 541.25,113.41 541.35,113.40 541.46,113.38 541.56,113.36 541.67,113.35 541.77,113.33 541.88,113.31 541.98,113.30 542.09,113.28 542.19,113.26 542.29,113.25 542.40,113.23 542.50,113.21 542.61,113.20 542.71,113.18 542.82,113.16 542.92,113.14 543.03,113.13 543.13,113.11 543.24,113.09 543.34,113.08 543.45,113.06 543.55,113.04 543.66,113.03 543.76,113.01 543.87,112.99 543.97,112.98 544.07,112.96 544.18,112.94 544.28,112.93 544.39,112.91 544.49,112.89 544.60,112.88 544.70,112.86 544.81,112.84 544.91,112.82 545.02,112.81 545.12,112.79 545.23,112.77 545.33,112.76 545.44,112.74 545.54,112.72 545.65,112.71 545.75,112.69 545.85,112.67 545.96,112.66 546.06,112.64 546.17,112.62 546.27,112.61 546.38,112.59 546.48,112.57 546.59,112.56 546.69,112.54 546.80,112.52 546.90,112.50 547.01,112.49 547.11,112.47 547.22,112.45 547.32,112.44 547.43,112.42 547.53,112.40 547.63,112.39 547.74,112.37 547.84,112.35 547.95,112.34 548.05,112.33 548.16,112.49 548.26,112.86 548.37,113.43 548.47,114.19 548.58,115.13 548.68,116.25 548.79,117.53 548.89,118.95 549.00,120.50 549.10,122.16 549.21,123.92 549.31,125.75 549.41,127.64 549.52,129.56 549.62,131.51 549.73,133.46 549.83,135.41 549.94,137.32 550.04,139.20 550.15,141.02 550.25,142.78 550.36,144.47 550.46,146.09 550.57,147.61 550.67,149.06 550.78,150.41 550.88,151.66 550.99,152.83 551.09,153.90 551.19,154.89 551.30,155.79 551.40,156.60 551.51,157.34 551.61,158.00 551.72,158.59 551.82,159.11 551.93,159.58 552.03,159.99 552.14,160.34 552.24,160.66 552.35,160.93 552.45,161.16 552.56,161.36 552.66,161.53 552.77,161.68 552.87,161.80 552.97,161.91 553.08,162.00 553.18,162.07 553.29,162.13 553.39,162.18 553.50,162.22 553.60,162.26 553.71,162.29 553.81,162.31 553.92,162.33 554.02,162.34 554.13,162.36 554.23,162.37 554.34,162.37 554.44,162.38 554.55,162.38 554.65,162.39 554.75,162.39 554.86,162.39 554.96,162.39 555.07,162.40 555.17,162.40 555.28,162.40 555.38,162.40 555.49,162.40 555.59,162.40 555.70,162.40 555.80,162.40 555.91,162.40 556.01,162.40 556.12,162.40 556.22,162.40 556.33,162.40 556.43,162.40 556.53,162.40 556.64,162.40 556.74,162.40 556.85,162.40 556.95,162.40 557.06,162.40 557.16,162.40 557.27,162.40 557.37,162.40 557.48,162.40 557.58,162.40 557.69,162.40 557.79,162.40 557.90,162.40 558.00,162.40 558.11,162.40 558.21,162.40 558.31,162.40 558.42,162.40 558.52,162.40 558.63,162.40 558.73,162.40 558.84,162.40 558.94,162.40 559.05,162.40 559.15,162.40 559.26,162.40 559.36,162.40 559.47,162.40 559.57,162.40 559.68,162.40 559.78,162.40 559.89,162.40 559.99,162.40 560.09,162.40 560.20,162.40 560.30,162.40 560.41,162.40 560.51,162.40 560.62,162.40 560.72,162.40 560.83,162.40 560.93,162.40 561.04,162.40 561.14,162.40 561.25,162.40 561.35,162.40 561.46,162.40 561.56,162.40 561.67,162.40 561.77,162.40 561.87,162.40 561.98,162.40 562.08,162.40 562.19,162.40 562.29,162.40 562.40,162.40 562.50,162.40 562.61,162.40 562.71,162.40 562.82,162.40 562.92,162.40 563.03,162.40 563.13,162.40 563.24,162.40 563.34,162.40 563.45,162.40 563.55,162.40 563.65,162.40 563.76,162.40 563.86,162.40 563.97,162.40 564.07,162.40 564.18,162.40 564.28,162.40 564.39,162.40 564.49,162.40 564.60,162.40 564.70,162.40 564.81,162.40 564.91,162.40 565.02,162.40 565.12,162.40 565.23,162.40 565.33,162.40 565.43,162.40 565.54,162.40 565.64,162.40 565.75,162.40 565.85,162.40 565.96,162.40 566.06,162.40 566.17,162.40 566.27,162.40 566.38,162.40 566.48,162.40 566.59,162.40 566.69,162.40 566.80,162.40 566.90,162.40 567.01,162.40 567.11,162.40 567.21,162.40 567.32,162.40 567.42,162.40 567.53,162.40 567.63,162.40 567.74,162.40 567.84,162.40 567.95,162.40 568.05,162.40 568.16,162.40 568.26,162.40 568.37,162.40 568.47,162.40 568.58,162.40 568.68,162.40 568.79,162.40 568.89,162.40 568.99,162.40 569.10,162.40 569.20,162.40 569.31,162.22 569.41,161.34 569.52,160.07 569.62,158.56 569.73,156.87 569.83,155.05 569.94,153.14 570.04,151.18 570.15,149.19 570.25,147.19 570.36,145.21 570.46,143.26 570.57,141.36 570.67,139.51 570.77,137.72 570.88,136.00 570.98,134.35 571.09,132.79 571.19,131.30 571.30,129.90 571.40,128.58 571.51,127.35 571.61,126.19 571.72,125.11 571.82,124.11 571.93,123.18 572.03,122.33 572.14,121.54 572.24,120.81 572.35,120.15 572.45,119.54 572.55,118.98 572.66,118.48 572.76,118.02 572.87,117.60 572.97,117.23 573.08,116.89 573.18,116.58 573.29,116.31 573.39,116.06 573.50,115.84 573.60,115.64 573.71,115.46 573.81,115.30 573.92,115.16 574.02,115.04 574.13,114.93 574.23,114.83 574.33,114.74 574.44,114.67 574.54,114.60 574.65,114.54 574.75,114.49 574.86,114.44 574.96,114.40 575.07,114.37 575.17,114.33 575.28,114.31 575.38,114.28 575.49,114.26 575.59,114.24 575.70,114.23 575.80,114.21 575.91,114.20 576.01,114.19 576.11,114.18 576.22,114.17 576.32,114.16 576.43,114.15 576.53,114.15 576.64,114.14 576.74,114.14 576.85,114.13 576.95,114.13 577.06,114.12 577.16,114.12 577.27,114.12 577.37,114.11 577.48,114.11 577.58,114.11 577.69,114.10 577.79,114.10 577.89,114.10 578.00,114.10 578.10,114.10 578.21,114.09 578.31,114.09 578.42,114.09 578.52,114.09 578.63,114.08 578.73,114.08 578.84,114.08 578.94,114.08 579.05,114.08 579.15,114.07 579.26,114.07 579.36,114.07 579.47,114.07 579.57,114.07 579.67,114.06 579.78,114.06 579.88,114.06 579.99,114.06 580.09,114.06 580.20,114.05 580.30,114.05 580.41,114.05 580.51,114.05 580.62,114.05 580.72,114.05 580.83,114.04 580.93,114.04 581.04,114.04 581.14,114.04 581.25,114.04 581.35,114.03 581.45,114.03 581.56,114.03 581.66,114.03 581.77,114.03 581.87,114.02 581.98,114.02 582.08,114.02 582.19,114.02 582.29,114.02 582.40,114.01 582.50,114.01 582.61,114.01 582.71,114.01 582.82,114.01 582.92,114.00 583.03,114.00 583.13,114.00 583.23,114.00 583.34,114.00 583.44,114.00 583.55,113.99 583.65,113.99 583.76,113.99 583.86,113.99 583.97,113.99 584.07,113.98 584.18,113.98 584.28,113.98 584.39,113.98 584.49,113.98 584.60,113.97 584.70,113.97 584.81,113.97 584.91,113.97 585.01,113.97 585.12,113.96 585.22,113.96 585.33,113.96 585.43,113.96 585.54,113.96 585.64,113.95 585.75,113.95 585.85,113.95 585.96,113.95 586.06,113.95 586.17,113.94 586.27,113.94 586.38,113.94 586.48,113.94 586.59,113.94 586.69,113.94 586.79,113.93 586.90,113.93 587.00,113.93 587.11,113.93 587.21,113.93 587.32,113.92 587.42,113.92 587.53,113.92 587.63,113.92 587.74,113.92 587.84,113.91 587.95,113.91 588.05,113.91 588.16,113.91 588.26,113.91 588.37,113.90 588.47,113.90 588.57,113.90 588.68,113.90 588.78,113.90 588.89,113.89 588.99,113.89 589.10,113.89 589.20,113.89 589.31,113.89 589.41,113.89 589.52,113.88 589.62,113.88 589.73,113.88 589.83,113.88 589.94,113.88 590.04,113.91 590.15,114.12 590.25,114.53 590.35,115.14 590.46,115.93 590.56,116.89 590.67,118.02 590.77,119.30 590.88,120.71 590.98,122.25 591.09,123.89 591.19,125.61 591.30,127.40 591.40,129.24 591.51,131.12 591.61,133.01 591.72,134.90 591.82,136.78 591.92,138.62 592.03,140.43 592.13,142.18 592.24,143.87 592.34,145.48 592.45,147.02 592.55,148.48 592.66,149.85 592.76,151.14 592.87,152.33 592.97,153.43 593.08,154.45 593.18,155.38 593.29,156.23 593.39,156.99 593.50,157.69 593.60,158.31 593.70,158.86 593.81,159.35 593.91,159.78 594.02,160.16 594.12,160.50 594.23,160.79 594.33,161.04 594.44,161.26 594.54,161.44 594.65,161.60 594.75,161.74 594.86,161.85 594.96,161.95 595.07,162.03 595.17,162.10 595.28,162.16 595.38,162.20 595.48,162.24 595.59,162.27 595.69,162.30 595.80,162.32 595.90,162.34 596.01,162.35 596.11,162.36 596.22,162.37 596.32,162.38 596.43,162.38 596.53,162.39 596.64,162.39 596.74,162.39 596.85,162.39 596.95,162.39 597.06,162.40 597.16,162.40 597.26,162.40 597.37,162.40 597.47,162.40 597.58,162.40 597.68,162.40 597.79,162.40 597.89,162.40 598.00,162.40 598.10,162.40 598.21,162.40 598.31,162.40 598.42,162.40 598.52,162.40 598.63,162.40 598.73,162.40 598.84,162.40 598.94,162.40 599.04,162.40 599.15,162.40 599.25,162.40 599.36,162.40 599.46,162.40 599.57,162.40 599.67,162.40 599.78,162.40 599.88,162.40 599.99,162.40 600.09,162.40 600.20,162.40 600.30,162.40 600.41,162.40 600.51,162.40 600.62,162.40 600.72,162.40 600.82,162.40 600.93,162.40 601.03,162.40 601.14,162.40 601.24,162.40 601.35,162.40 601.45,162.40 601.56,162.40 601.66,162.40 601.77,162.40 601.87,162.40 601.98,162.40 602.08,162.40 602.19,162.40 602.29,162.40 602.40,162.40 602.50,162.40 602.60,162.40 602.71,162.40 602.81,162.40 602.92,162.40 603.02,162.40 603.13,162.40 603.23,162.40 603.34,162.40 603.44,162.40 603.55,162.40 603.65,162.40 603.76,162.40 603.86,162.40 603.97,162.40 604.07,162.40 604.18,162.40 604.28,162.40 604.38,162.40 604.49,162.40 604.59,162.40 604.70,162.40 604.80,162.40 604.91,162.40 605.01,162.40 605.12,162.40 605.22,162.40 605.33,162.40 605.43,162.40 605.54,162.40 605.64,162.40 605.75,162.40 605.85,162.40 605.96,162.40 606.06,162.40 606.16,162.40 606.27,162.40 606.37,162.40 606.48,162.40 606.58,162.40 606.69,162.40 606.79,162.40 606.90,162.40 607.00,162.40 607.11,162.40 607.21,162.40 607.32,162.40 607.42,162.40 607.53,162.40 607.63,162.40 607.74,162.40 607.84,162.40 607.94,162.40 608.05,162.40 608.15,162.40 608.26,162.40 608.36,162.40 608.47,162.40 608.57,162.40 608.68,162.40 608.78,162.40 608.89,162.40 608.99,162.40 609.10,162.40 609.20,162.40 609.31,162.40 609.41,162.40 609.52,162.40 609.62,162.40 609.72,162.40 609.83,162.40 609.93,162.40 610.04,162.40 610.14,162.40 610.25,162.40 610.35,162.40 610.46,162.40 610.56,162.40 610.67,162.40 610.77,162.02 610.88,161.00 610.98,159.65 611.09,158.07 611.19,156.33 611.30,154.47 611.40,152.54 611.50,150.56 611.61,148.55 611.71,146.55 611.82,144.57 611.92,142.62 612.03,140.71 612.13,138.87 612.24,137.09 612.34,135.38 612.45,133.75 612.55,132.20 612.66,130.73 612.76,129.34 612.87,128.04 612.97,126.81 613.08,125.67 613.18,124.61 613.28,123.62 613.39,122.71 613.49,121.87 613.60,121.09 613.70,120.38 613.81,119.72 613.91,119.13 614.02,118.58 614.12,118.08 614.23,117.63 614.33,117.23 614.44,116.86 614.54,116.52 614.65,116.22 614.75,115.95 614.86,115.71 614.96,115.49 615.06,115.30 615.17,115.13 615.27,114.97 615.38,114.83 615.48,114.71 615.59,114.60 615.69,114.50 615.80,114.42 615.90,114.34 616.01,114.28 616.11,114.22 616.22,114.16 616.32,114.12 616.43,114.08 616.53,114.04 616.64,114.01 616.74,113.98 616.84,113.95 616.95,113.93 617.05,113.91 617.16,113.90 617.26,113.88 617.37,113.87 617.47,113.85 617.58,113.84 617.68,113.83 617.79,113.82 617.89,113.81 618.00,113.81 618.10,113.80 618.21,113.79 618.31,113.79 618.42,113.78 618.52,113.78 618.62,113.77 618.73,113.77 618.83,113.76 618.94,113.76 619.04,113.75 619.15,113.75 619.25,113.75 619.36,113.74 619.46,113.74 619.57,113.73 619.67,113.73 619.78,113.73 619.88,113.72 619.99,113.72 620.09,113.72 620.20,113.71 620.30,113.71 620.40,113.71 620.51,113.70 620.61,113.70 620.72,113.70 620.82,113.69 620.93,113.69 621.03,113.69 621.14,113.68 621.24,113.68 621.35,113.68 621.45,113.67 621.56,113.67 621.66,113.67 621.77,113.66 621.87,113.66 621.98,113.65 622.08,113.65 622.18,113.65 622.29,113.64 622.39,113.64 622.50,113.64 622.60,113.63 622.71,113.63 622.81,113.63 622.92,113.62 623.02,113.62 623.13,113.62 623.23,113.61 623.34,113.61 623.44,113.61 623.55,113.60 623.65,113.60 623.76,113.60 623.86,113.59 623.96,113.59 624.07,113.59 624.17,113.58 624.28,113.58 624.38,113.58 624.49,113.57 624.59,113.57 624.70,113.57 624.80,113.56 624.91,113.56 625.01,113.56 625.12,113.55 625.22,113.55 625.33,113.55 625.43,113.54 625.54,113.54 625.64,113.54 625.74,113.53 625.85,113.53 625.95,113.53 626.06,113.52 626.16,113.52 626.27,113.52 626.37,113.51 626.48,113.51 626.58,113.51 626.69,113.50 626.79,113.50 626.90,113.50 627.00,113.49 627.11,113.49 627.21,113.49 627.32,113.48 627.42,113.48 627.52,113.48 627.63,113.47 627.73,113.47 627.84,113.47 627.94,113.46 628.05,113.46 628.15,113.46 628.26,113.45 628.36,113.45 628.47,113.44 628.57,113.44 628.68,113.44 628.78,113.43 628.89,113.43 628.99,113.43 629.10,113.42 629.20,113.42 629.30,113.42 629.41,113.41 629.51,113.41 629.62,113.41 629.72,113.40 629.83,113.40 629.93,113.40 630.04,113.39 630.14,113.39 630.25,113.39 630.35,113.38 630.46,113.38 630.56,113.38 630.67,113.37 630.77,113.37 630.88,113.37 630.98,113.36 631.08,113.36 631.19,113.36 631.29,113.35 631.40,113.35 631.50,113.35 631.61,113.34 631.71,113.34 631.82,113.34 631.92,113.33 632.03,113.41 632.13,113.68 632.24,114.15 632.34,114.82 632.45,115.67 632.55,116.69 632.66,117.88 632.76,119.21 632.86,120.68 632.97,122.26 633.07,123.95 633.18,125.71 633.28,127.54 633.39,129.41 633.49,131.32 633.60,133.23 633.70,135.14 633.81,137.03 633.91,138.88 634.02,140.69 634.12,142.45 634.23,144.13 634.33,145.75 634.44,147.28 634.54,148.73 634.64,150.09 634.75,151.36 634.85,152.55 634.96,153.64 635.06,154.64 635.17,155.56 635.27,156.39 635.38,157.14 635.48,157.82 635.59,158.43 635.69,158.97 635.80,159.45 635.90,159.87 636.01,160.24 636.11,160.57 636.22,160.85 636.32,161.09 636.42,161.30 636.53,161.48 636.63,161.64 636.74,161.77 636.84,161.88 636.95,161.97 637.05,162.05 637.16,162.11 637.26,162.17 637.37,162.21 637.47,162.25 637.58,162.28 637.68,162.30 637.79,162.32 637.89,162.34 638.00,162.35 638.10,162.36 638.20,162.37 638.31,162.38 638.41,162.38 638.52,162.39 638.62,162.39 638.73,162.39 638.83,162.39 638.94,162.40 639.04,162.40 639.15,162.40 639.25,162.40 639.36,162.40 639.46,162.40 639.57,162.40 639.67,162.40 639.78,162.40 639.88,162.40 639.98,162.40 640.09,162.40 640.19,162.40 640.30,162.40 640.40,162.40 640.51,162.40 640.61,162.40 640.72,162.40 640.82,162.40 640.93,162.40 641.03,162.40 641.14,162.40 641.24,162.40 641.35,162.40 641.45,162.40 641.56,162.40 641.66,162.40 641.76,162.40 641.87,162.40 641.97,162.40 642.08,162.40 642.18,162.40 642.29,162.40 642.39,162.40 642.50,162.40 642.60,162.40 642.71,162.40 642.81,162.40 642.92,162.40 643.02,162.40 643.13,162.40 643.23,162.40 643.34,162.40 643.44,162.40 643.54,162.40 643.65,162.40 643.75,162.40 643.86,162.40 643.96,162.40 644.07,162.40 644.17,162.40 644.28,162.40 644.38,162.40 644.49,162.40 644.59,162.40 644.70,162.40 644.80,162.40 644.91,162.40 645.01,162.40 645.12,162.40 645.22,162.40 645.32,162.40 645.43,162.40 645.53,162.40 645.64,162.40 645.74,162.40 645.85,162.40 645.95,162.40 646.06,162.40 646.16,162.40 646.27,162.40 646.37,162.40 646.48,162.40 646.58,162.40 646.69,162.40 646.79,162.40 646.90,162.40 647.00,162.40 647.10,162.40 647.21,162.40 647.31,162.40 647.42,162.40 647.52,162.40 647.63,162.40 647.73,162.40 647.84,162.40 647.94,162.40 648.05,162.40 648.15,162.40 648.26,162.40 648.36,162.40 648.47,162.40 648.57,162.40 648.67,162.40 648.78,162.40 648.88,162.40 648.99,162.40 649.09,162.40 649.20,162.40 649.30,162.40 649.41,162.40 649.51,162.40 649.62,162.40 649.72,162.40 649.83,162.40 649.93,162.40 650.04,162.40 650.14,162.40 650.25,162.40 650.35,162.40 650.45,162.40 650.56,162.40 650.66,162.40 650.77,162.40 650.87,162.40 650.98,162.40 651.08,162.40 651.19,162.40 651.29,162.40 651.40,162.40 651.50,162.40 651.61,162.40 651.71,162.40 651.82,162.40 651.92,162.40 652.03,162.40 652.13,162.40 652.23,162.40 652.34,162.40 652.44,162.40 652.55,162.40 652.65,162.40 652.76,162.40 652.86,162.40 652.97,162.40 653.07,162.40 653.18,162.40 653.28,162.40" fill="none" stroke="#E8141C" stroke-width="1.1" stroke-linejoin="round" />
<text x="-0.70" y="221.80" font-size="15" font-weight="bold" text-anchor="start" fill="#000" >d</text>
<rect x="33.00" y="220.40" width="183.30" height="147.90" fill="none" stroke="#555" stroke-width="1.0"/>
<line x1="30.20" y1="351.80" x2="33.00" y2="351.80" stroke="#333" stroke-width="1.0" />
<line x1="30.20" y1="319.00" x2="33.00" y2="319.00" stroke="#333" stroke-width="1.0" />
<line x1="30.20" y1="286.20" x2="33.00" y2="286.20" stroke="#333" stroke-width="1.0" />
<line x1="30.20" y1="253.40" x2="33.00" y2="253.40" stroke="#333" stroke-width="1.0" />
<line x1="30.20" y1="220.60" x2="33.00" y2="220.60" stroke="#333" stroke-width="1.0" />
<line x1="31.30" y1="368.20" x2="33.00" y2="368.20" stroke="#333" stroke-width="1.0" />
<line x1="31.30" y1="335.40" x2="33.00" y2="335.40" stroke="#333" stroke-width="1.0" />
<line x1="31.30" y1="302.60" x2="33.00" y2="302.60" stroke="#333" stroke-width="1.0" />
<line x1="31.30" y1="269.80" x2="33.00" y2="269.80" stroke="#333" stroke-width="1.0" />
<line x1="31.30" y1="237.00" x2="33.00" y2="237.00" stroke="#333" stroke-width="1.0" />
<line x1="44.90" y1="368.30" x2="44.90" y2="371.10" stroke="#333" stroke-width="1.0" />
<line x1="69.41" y1="368.30" x2="69.41" y2="371.10" stroke="#333" stroke-width="1.0" />
<line x1="93.93" y1="368.30" x2="93.93" y2="371.10" stroke="#333" stroke-width="1.0" />
<line x1="118.44" y1="368.30" x2="118.44" y2="371.10" stroke="#333" stroke-width="1.0" />
<line x1="142.96" y1="368.30" x2="142.96" y2="371.10" stroke="#333" stroke-width="1.0" />
<line x1="167.47" y1="368.30" x2="167.47" y2="371.10" stroke="#333" stroke-width="1.0" />
<line x1="191.99" y1="368.30" x2="191.99" y2="371.10" stroke="#333" stroke-width="1.0" />
<line x1="216.51" y1="368.30" x2="216.51" y2="371.10" stroke="#333" stroke-width="1.0" />
<line x1="32.64" y1="368.30" x2="32.64" y2="370.00" stroke="#333" stroke-width="1.0" />
<line x1="57.16" y1="368.30" x2="57.16" y2="370.00" stroke="#333" stroke-width="1.0" />
<line x1="81.67" y1="368.30" x2="81.67" y2="370.00" stroke="#333" stroke-width="1.0" />
<line x1="106.19" y1="368.30" x2="106.19" y2="370.00" stroke="#333" stroke-width="1.0" />
<line x1="130.70" y1="368.30" x2="130.70" y2="370.00" stroke="#333" stroke-width="1.0" />
<line x1="155.22" y1="368.30" x2="155.22" y2="370.00" stroke="#333" stroke-width="1.0" />
<line x1="179.73" y1="368.30" x2="179.73" y2="370.00" stroke="#333" stroke-width="1.0" />
<line x1="204.25" y1="368.30" x2="204.25" y2="370.00" stroke="#333" stroke-width="1.0" />
<text x="25.00" y="355.90" font-size="10.5" font-weight="bold" text-anchor="end" fill="#000" >0</text>
<text x="25.00" y="323.10" font-size="10.5" font-weight="bold" text-anchor="end" fill="#000" >1</text>
<text x="25.00" y="290.30" font-size="10.5" font-weight="bold" text-anchor="end" fill="#000" >2</text>
<text x="25.00" y="257.50" font-size="10.5" font-weight="bold" text-anchor="end" fill="#000" >3</text>
<text x="25.00" y="224.70" font-size="10.5" font-weight="bold" text-anchor="end" fill="#000" >4</text>
<text x="45.20" y="384.00" font-size="10.5" font-weight="bold" text-anchor="middle" fill="#000" >0</text>
<text x="69.71" y="384.00" font-size="10.5" font-weight="bold" text-anchor="middle" fill="#000" >50</text>
<text x="94.23" y="384.00" font-size="10.5" font-weight="bold" text-anchor="middle" fill="#000" >100</text>
<text x="118.74" y="384.00" font-size="10.5" font-weight="bold" text-anchor="middle" fill="#000" >150</text>
<text x="143.26" y="384.00" font-size="10.5" font-weight="bold" text-anchor="middle" fill="#000" >200</text>
<text x="167.78" y="384.00" font-size="10.5" font-weight="bold" text-anchor="middle" fill="#000" >250</text>
<text x="192.29" y="384.00" font-size="10.5" font-weight="bold" text-anchor="middle" fill="#000" >300</text>
<text x="216.81" y="384.00" font-size="10.5" font-weight="bold" text-anchor="middle" fill="#000" >350</text>
<text x="122.70" y="398.70" font-size="10.3" font-weight="bold" text-anchor="middle" fill="#000" >ΔP (Pa)</text>
<text x="10.60" y="295.40" font-size="10.7" font-weight="bold" text-anchor="middle" fill="#000" transform="rotate(-90 10.6 295.4)">ΔV (V)</text>
<circle cx="57.90" cy="332.30" r="1.7" fill="#444"/>
<circle cx="69.60" cy="314.60" r="1.7" fill="#444"/>
<circle cx="85.20" cy="295.30" r="1.7" fill="#444"/>
<circle cx="98.40" cy="282.30" r="1.7" fill="#444"/>
<circle cx="106.60" cy="274.80" r="1.7" fill="#444"/>
<circle cx="121.30" cy="264.20" r="1.7" fill="#444"/>
<circle cx="132.90" cy="257.70" r="1.7" fill="#444"/>
<circle cx="145.00" cy="251.50" r="1.7" fill="#444"/>
<circle cx="158.85" cy="246.55" r="1.7" fill="#444"/>
<circle cx="169.55" cy="242.20" r="1.7" fill="#444"/>
<circle cx="182.20" cy="238.20" r="1.7" fill="#444"/>
<circle cx="195.55" cy="234.85" r="1.7" fill="#444"/>
<polygon points="52.90,330.60 54.90,334.20 50.90,334.20" fill="#EE2B2B"/>
<polygon points="69.00,312.20 71.00,315.80 67.00,315.80" fill="#EE2B2B"/>
<polygon points="84.70,292.80 86.70,296.40 82.70,296.40" fill="#EE2B2B"/>
<polygon points="98.30,279.30 100.30,282.90 96.30,282.90" fill="#EE2B2B"/>
<polygon points="105.90,272.30 107.90,275.90 103.90,275.90" fill="#EE2B2B"/>
<polygon points="120.80,261.40 122.80,265.00 118.80,265.00" fill="#EE2B2B"/>
<polygon points="132.10,255.00 134.10,258.60 130.10,258.60" fill="#EE2B2B"/>
<polygon points="145.10,248.20 147.10,251.80 143.10,251.80" fill="#EE2B2B"/>
<polygon points="157.50,243.50 159.50,247.10 155.50,247.10" fill="#EE2B2B"/>
<polygon points="168.60,238.80 170.60,242.40 166.60,242.40" fill="#EE2B2B"/>
<polygon points="181.10,234.50 183.10,238.10 179.10,238.10" fill="#EE2B2B"/>
<polygon points="194.10,230.40 196.10,234.00 192.10,234.00" fill="#EE2B2B"/>
<circle cx="44.60" cy="351.50" r="1.85" fill="#1E6AE6"/>
<circle cx="57.10" cy="333.40" r="1.85" fill="#1E6AE6"/>
<circle cx="70.20" cy="315.00" r="1.85" fill="#1E6AE6"/>
<circle cx="85.70" cy="295.80" r="1.85" fill="#1E6AE6"/>
<circle cx="98.50" cy="283.30" r="1.85" fill="#1E6AE6"/>
<circle cx="107.30" cy="275.30" r="1.85" fill="#1E6AE6"/>
<circle cx="121.80" cy="265.00" r="1.85" fill="#1E6AE6"/>
<circle cx="133.70" cy="258.40" r="1.85" fill="#1E6AE6"/>
<circle cx="144.90" cy="252.80" r="1.85" fill="#1E6AE6"/>
<circle cx="160.20" cy="247.60" r="1.85" fill="#1E6AE6"/>
<circle cx="170.50" cy="243.60" r="1.85" fill="#1E6AE6"/>
<circle cx="183.30" cy="239.90" r="1.85" fill="#1E6AE6"/>
<circle cx="197.00" cy="237.30" r="1.85" fill="#1E6AE6"/>
<circle cx="74.9" cy="338.4" r="1.6" fill="#666"/>
<polygon points="74.90,347.00 76.90,350.60 72.90,350.60" fill="#EE2B2B"/>
<circle cx="74.9" cy="359.5" r="1.85" fill="#1E6AE6"/>
<text x="82.00" y="340.60" font-size="7.75" font-weight="bold" text-anchor="start" fill="#000" >Attach to flat surface</text>
<text x="82.00" y="351.50" font-size="7.75" font-weight="bold" text-anchor="start" fill="#000" >Attach to curved surface R = 55 mm</text>
<text x="82.00" y="361.70" font-size="7.75" font-weight="bold" text-anchor="start" fill="#000" >Attach to curved surface R = 55 mm</text>
<text x="245.00" y="221.80" font-size="15" font-weight="bold" text-anchor="start" fill="#000" >e</text>
<rect x="287.60" y="221.60" width="388.50" height="146.90" fill="none" stroke="#555" stroke-width="1.0"/>
<line x1="284.80" y1="368.60" x2="287.60" y2="368.60" stroke="#333" stroke-width="1.0" />
<line x1="284.80" y1="350.29" x2="287.60" y2="350.29" stroke="#333" stroke-width="1.0" />
<line x1="284.80" y1="331.97" x2="287.60" y2="331.97" stroke="#333" stroke-width="1.0" />
<line x1="284.80" y1="313.66" x2="287.60" y2="313.66" stroke="#333" stroke-width="1.0" />
<line x1="284.80" y1="295.34" x2="287.60" y2="295.34" stroke="#333" stroke-width="1.0" />
<line x1="284.80" y1="277.03" x2="287.60" y2="277.03" stroke="#333" stroke-width="1.0" />
<line x1="284.80" y1="258.71" x2="287.60" y2="258.71" stroke="#333" stroke-width="1.0" />
<line x1="284.80" y1="240.40" x2="287.60" y2="240.40" stroke="#333" stroke-width="1.0" />
<line x1="284.80" y1="222.08" x2="287.60" y2="222.08" stroke="#333" stroke-width="1.0" />
<line x1="285.90" y1="359.44" x2="287.60" y2="359.44" stroke="#333" stroke-width="1.0" />
<line x1="285.90" y1="341.13" x2="287.60" y2="341.13" stroke="#333" stroke-width="1.0" />
<line x1="285.90" y1="322.81" x2="287.60" y2="322.81" stroke="#333" stroke-width="1.0" />
<line x1="285.90" y1="304.50" x2="287.60" y2="304.50" stroke="#333" stroke-width="1.0" />
<line x1="285.90" y1="286.18" x2="287.60" y2="286.18" stroke="#333" stroke-width="1.0" />
<line x1="285.90" y1="267.87" x2="287.60" y2="267.87" stroke="#333" stroke-width="1.0" />
<line x1="285.90" y1="249.55" x2="287.60" y2="249.55" stroke="#333" stroke-width="1.0" />
<line x1="285.90" y1="231.24" x2="287.60" y2="231.24" stroke="#333" stroke-width="1.0" />
<line x1="287.70" y1="368.50" x2="287.70" y2="371.30" stroke="#333" stroke-width="1.0" />
<line x1="330.90" y1="368.50" x2="330.90" y2="371.30" stroke="#333" stroke-width="1.0" />
<line x1="374.10" y1="368.50" x2="374.10" y2="371.30" stroke="#333" stroke-width="1.0" />
<line x1="417.30" y1="368.50" x2="417.30" y2="371.30" stroke="#333" stroke-width="1.0" />
<line x1="460.50" y1="368.50" x2="460.50" y2="371.30" stroke="#333" stroke-width="1.0" />
<line x1="503.70" y1="368.50" x2="503.70" y2="371.30" stroke="#333" stroke-width="1.0" />
<line x1="546.90" y1="368.50" x2="546.90" y2="371.30" stroke="#333" stroke-width="1.0" />
<line x1="590.10" y1="368.50" x2="590.10" y2="371.30" stroke="#333" stroke-width="1.0" />
<line x1="633.30" y1="368.50" x2="633.30" y2="371.30" stroke="#333" stroke-width="1.0" />
<line x1="676.50" y1="368.50" x2="676.50" y2="371.30" stroke="#333" stroke-width="1.0" />
<line x1="309.30" y1="368.50" x2="309.30" y2="370.20" stroke="#333" stroke-width="1.0" />
<line x1="352.50" y1="368.50" x2="352.50" y2="370.20" stroke="#333" stroke-width="1.0" />
<line x1="395.70" y1="368.50" x2="395.70" y2="370.20" stroke="#333" stroke-width="1.0" />
<line x1="438.90" y1="368.50" x2="438.90" y2="370.20" stroke="#333" stroke-width="1.0" />
<line x1="482.10" y1="368.50" x2="482.10" y2="370.20" stroke="#333" stroke-width="1.0" />
<line x1="525.30" y1="368.50" x2="525.30" y2="370.20" stroke="#333" stroke-width="1.0" />
<line x1="568.50" y1="368.50" x2="568.50" y2="370.20" stroke="#333" stroke-width="1.0" />
<line x1="611.70" y1="368.50" x2="611.70" y2="370.20" stroke="#333" stroke-width="1.0" />
<line x1="654.90" y1="368.50" x2="654.90" y2="370.20" stroke="#333" stroke-width="1.0" />
<text x="281.00" y="373.00" font-size="11" font-weight="bold" text-anchor="end" fill="#000" >0.5</text>
<text x="281.00" y="354.69" font-size="11" font-weight="bold" text-anchor="end" fill="#000" >1.0</text>
<text x="281.00" y="336.37" font-size="11" font-weight="bold" text-anchor="end" fill="#000" >1.5</text>
<text x="281.00" y="318.06" font-size="11" font-weight="bold" text-anchor="end" fill="#000" >2.0</text>
<text x="281.00" y="299.74" font-size="11" font-weight="bold" text-anchor="end" fill="#000" >2.5</text>
<text x="281.00" y="281.43" font-size="11" font-weight="bold" text-anchor="end" fill="#000" >3.0</text>
<text x="281.00" y="263.11" font-size="11" font-weight="bold" text-anchor="end" fill="#000" >3.5</text>
<text x="281.00" y="244.80" font-size="11" font-weight="bold" text-anchor="end" fill="#000" >4.0</text>
<text x="281.00" y="226.48" font-size="11" font-weight="bold" text-anchor="end" fill="#000" >4.5</text>
<text x="287.70" y="383.80" font-size="11" font-weight="bold" text-anchor="middle" fill="#000" >−20</text>
<text x="330.90" y="383.80" font-size="11" font-weight="bold" text-anchor="middle" fill="#000" >0</text>
<text x="374.10" y="383.80" font-size="11" font-weight="bold" text-anchor="middle" fill="#000" >20</text>
<text x="417.30" y="383.80" font-size="11" font-weight="bold" text-anchor="middle" fill="#000" >40</text>
<text x="460.50" y="383.80" font-size="11" font-weight="bold" text-anchor="middle" fill="#000" >60</text>
<text x="503.70" y="383.80" font-size="11" font-weight="bold" text-anchor="middle" fill="#000" >80</text>
<text x="546.90" y="383.80" font-size="11" font-weight="bold" text-anchor="middle" fill="#000" >100</text>
<text x="590.10" y="383.80" font-size="11" font-weight="bold" text-anchor="middle" fill="#000" >120</text>
<text x="633.30" y="383.80" font-size="11" font-weight="bold" text-anchor="middle" fill="#000" >140</text>
<text x="676.50" y="383.80" font-size="11" font-weight="bold" text-anchor="middle" fill="#000" >160</text>
<text x="481.00" y="399.20" font-size="10.6" font-weight="bold" text-anchor="middle" fill="#000" >Time (s)</text>
<text x="256.2" y="296.5" font-size="10.6" font-weight="bold" text-anchor="middle" transform="rotate(-90 256.2 296.5)">V<tspan font-size="7.4" dy="2.4">out</tspan><tspan dy="-2.4">(V)</tspan></text>
<polyline points="330.90,297.22 331.10,297.26 331.30,297.26 331.51,297.23 331.71,297.29 331.91,297.31 332.11,297.39 332.31,297.45 332.51,297.53 332.72,297.54 332.92,297.60 333.12,297.58 333.32,297.58 333.52,297.59 333.72,297.71 333.93,297.72 334.13,297.68 334.33,297.66 334.53,297.68 334.73,297.71 334.93,297.81 335.14,297.82 335.34,297.75 335.54,297.81 335.74,297.82 335.94,297.79 336.15,297.77 336.35,297.78 336.55,297.80 336.75,297.74 336.95,297.77 337.15,297.69 337.36,297.57 337.56,297.56 337.76,297.51 337.96,297.45 338.16,297.49 338.36,297.41 338.57,297.37 338.77,297.31 338.97,297.28 339.17,297.25 339.37,297.27 339.57,297.17 339.78,297.15 339.98,297.08 340.18,296.98 340.38,297.06 340.58,297.01 340.78,297.03 340.99,297.07 341.19,297.09 341.39,297.11 341.59,297.13 341.79,297.09 342.00,296.98 342.20,297.05 342.40,297.14 342.60,297.04 342.80,297.17 343.00,297.20 343.21,297.17 343.41,297.20 343.61,297.21 343.81,297.17 344.01,297.19 344.21,297.23 344.42,297.15 344.62,297.20 344.82,297.21 345.02,297.22 345.22,297.29 345.42,297.27 345.63,297.33 345.83,297.31 346.03,297.33 346.23,297.23 346.43,297.18 346.64,297.17 346.84,297.18 347.04,297.24 347.24,297.14 347.44,297.10 347.64,297.11 347.85,297.08 348.05,297.04 348.25,297.11 348.45,297.26 348.65,297.30 348.85,297.32 349.06,297.30 349.26,297.19 349.46,297.29 349.66,297.30 349.86,297.28 350.06,297.27 350.27,297.28 350.47,297.28 350.67,297.20 350.87,297.17 351.07,297.20 351.28,297.26 351.48,297.28 351.68,297.33 351.88,297.35 352.08,297.37 352.28,297.37 352.49,297.36 352.69,297.38 352.89,297.35 353.09,297.37 353.29,297.39 353.49,297.35 353.70,297.32 353.90,297.37 354.10,297.34 354.30,297.52 354.50,297.45 354.70,297.46 354.91,297.43 355.11,297.45 355.31,297.51 355.51,297.45 355.71,297.41 355.92,297.44 356.12,297.40 356.32,297.41 356.52,297.45 356.72,297.36 356.92,297.39 357.13,297.36 357.33,297.44 357.53,297.47 357.73,297.53 357.93,297.45 358.13,297.45 358.34,297.32 358.54,297.27 358.74,297.32 358.94,297.24 359.14,297.30 359.34,297.22 359.55,297.27 359.75,297.25 359.95,297.34 360.15,297.39 360.35,297.25 360.55,297.33 360.76,297.44 360.96,297.42 361.16,297.35 361.36,297.40 361.56,297.37 361.77,297.45 361.97,297.50 362.17,297.47 362.37,297.43 362.57,297.40 362.77,297.38 362.98,297.41 363.18,297.43 363.38,297.48 363.58,297.53 363.78,297.55 363.98,297.48 364.19,297.48 364.39,297.46 364.59,297.45 364.79,297.45 364.99,297.42 365.19,297.35 365.40,297.44 365.60,297.42 365.80,297.37 366.00,297.33 366.20,297.36 366.41,297.28 366.61,297.30 366.81,297.33 367.01,297.21 367.21,297.20 367.41,297.21 367.62,297.19 367.82,297.12 368.02,297.10 368.22,297.04 368.42,297.05 368.62,296.94 368.83,296.94 369.03,296.96 369.23,296.92 369.43,296.89 369.63,296.81 369.83,296.72 370.04,296.75 370.24,296.85 370.44,296.80 370.64,296.84 370.84,296.84 371.05,296.86 371.25,296.96 371.45,297.07 371.65,297.03 371.85,296.97 372.05,297.02 372.26,297.06 372.46,297.09 372.66,297.18 372.86,297.23 373.06,297.31 373.26,297.42 373.47,297.38 373.67,297.45 373.87,297.37 374.07,297.45 374.27,297.50 374.47,297.59 374.68,297.71 374.88,297.77 375.08,297.75 375.28,297.66 375.48,297.68 375.69,297.55 375.89,297.61 376.09,297.61 376.29,297.54 376.49,297.44 376.69,297.52 376.90,297.54 377.10,297.50 377.30,297.50 377.50,297.46 377.70,297.41 377.90,297.35 378.11,297.31 378.31,297.33 378.51,297.39 378.71,297.47 378.91,297.63 379.11,297.61 379.32,297.52 379.52,297.48 379.72,297.49 379.92,297.54 380.12,297.46 380.32,297.46 380.53,297.48 380.73,297.57 380.93,297.51 381.13,297.51 381.33,297.48 381.54,297.47 381.74,297.45 381.94,297.41 382.14,297.47 382.34,297.42 382.54,297.48 382.75,297.47 382.95,297.52 383.15,297.58 383.35,297.41 383.55,297.32 383.75,297.25 383.96,297.07 384.16,297.03 384.36,297.21 384.56,297.20 384.76,297.15 384.96,297.10 385.17,297.20 385.37,297.22 385.57,297.23 385.77,297.17 385.97,297.16 386.18,297.20 386.38,297.15 386.58,297.19 386.78,297.16 386.98,297.26 387.18,297.16 387.39,297.17 387.59,297.07 387.79,297.04 387.99,297.03 388.19,296.96 388.39,297.05 388.60,297.12 388.80,297.10 389.00,297.07 389.20,297.06 389.40,296.95 389.60,296.98 389.81,297.01 390.01,296.94 390.21,296.87 390.41,296.86 390.61,296.87 390.82,296.97 391.02,296.98 391.22,296.95 391.42,297.03 391.62,297.02 391.82,297.01 392.03,296.92 392.23,297.06 392.43,297.12 392.63,297.19 392.83,297.18 393.03,297.22 393.24,297.21 393.44,297.13 393.64,297.13 393.84,297.16 394.04,297.22 394.24,297.24 394.45,297.29 394.65,297.24 394.85,297.12 395.05,297.21 395.25,297.24 395.46,297.29 395.66,297.26 395.86,297.26 396.06,297.31 396.26,297.29 396.46,297.31 396.67,297.26 396.87,297.18 397.07,297.17 397.27,297.08 397.47,296.98 397.67,296.95 397.88,297.02 398.08,297.04 398.28,297.07 398.48,297.07 398.68,297.01 398.88,297.03 399.09,297.07 399.29,297.10 399.49,297.04 399.69,297.07 399.89,297.15 400.09,297.12 400.30,297.13 400.50,297.08 400.70,297.09 400.90,297.04 401.10,296.97 401.31,296.94 401.51,296.87 401.71,296.92 401.91,297.06 402.11,297.06 402.31,297.17 402.52,297.31 402.72,297.27 402.92,297.21 403.12,297.16 403.32,297.23 403.52,297.31 403.73,297.39 403.93,297.32 404.13,297.18 404.33,297.15 404.53,297.20 404.73,297.24 404.94,297.25 405.14,297.27 405.34,297.31 405.54,297.30 405.74,297.36 405.95,297.31 406.15,297.28 406.35,297.32 406.55,297.37 406.75,297.35 406.95,297.28 407.16,297.31 407.36,297.24 407.56,297.24 407.76,297.34 407.96,297.33 408.16,297.33 408.37,297.25 408.57,297.19 408.77,297.24 408.97,297.30 409.17,297.39 409.37,297.38 409.58,297.36 409.78,297.27 409.98,297.26 410.18,297.30 410.38,297.29 410.59,297.26 410.79,297.19 410.99,297.32 411.19,297.31 411.39,297.33 411.59,297.25 411.80,297.29 412.00,297.30 412.20,297.33 412.40,297.21 412.60,297.16 412.80,297.02 413.01,297.09 413.21,297.07 413.41,297.15 413.61,297.21 413.81,297.09 414.01,297.12 414.22,297.08 414.42,297.08 414.62,297.11 414.82,297.17 415.02,297.20 415.23,297.15 415.43,297.14 415.63,297.21 415.83,297.24 416.03,297.20 416.23,297.32 416.44,297.35 416.64,297.37 416.84,297.42 417.04,297.40 417.24,297.38 417.44,297.54 417.65,297.49 417.85,297.59 418.05,297.49 418.25,297.53 418.45,297.44 418.65,297.44 418.86,297.51 419.06,297.43 419.26,297.48 419.46,297.47 419.66,297.43 419.86,297.45 420.07,297.44 420.27,297.43 420.47,297.37 420.67,297.37 420.87,297.36 421.08,297.39 421.28,297.31 421.48,297.35 421.68,297.47 421.88,297.41 422.08,297.36 422.29,297.40 422.49,297.40 422.69,297.47 422.89,297.50 423.09,297.55 423.29,297.55 423.50,297.60 423.70,297.56 423.90,297.56 424.10,297.57 424.30,297.60 424.50,297.68 424.71,297.76 424.91,297.63 425.11,297.64 425.31,297.63 425.51,297.68 425.72,297.63 425.92,297.63 426.12,297.47 426.32,297.54 426.52,297.56 426.72,297.53 426.93,297.58 427.13,297.60 427.33,297.50 427.53,297.49 427.73,297.52 427.93,297.48 428.14,297.44 428.34,297.53 428.54,297.47 428.74,297.55 428.94,297.47 429.14,297.53 429.35,297.50 429.55,297.52 429.75,297.48 429.95,297.50 430.15,297.45 430.36,297.48 430.56,297.51 430.76,297.61 430.96,297.62 431.16,297.71 431.36,297.67 431.57,297.60 431.77,297.61 431.97,297.55 432.17,297.59 432.37,297.57 432.57,297.44 432.78,297.39 432.98,297.41 433.18,297.47 433.38,297.37 433.58,297.43 433.78,297.38 433.99,297.47 434.19,297.40 434.39,297.39 434.59,297.32 434.79,297.28 434.99,297.37 435.20,297.45 435.40,297.44 435.60,297.43 435.80,297.34 436.00,297.32 436.21,297.38 436.41,297.37 436.61,297.43 436.81,297.40 437.01,297.41 437.21,297.50 437.42,297.56 437.62,297.63 437.82,297.63 438.02,297.62 438.22,297.63 438.42,297.65 438.63,297.63 438.83,297.65 439.03,297.60 439.23,297.68 439.43,297.66 439.63,297.67 439.84,297.67 440.04,297.65 440.24,297.59 440.44,297.65 440.64,297.61 440.85,297.61 441.05,297.59 441.25,297.52 441.45,297.55 441.65,297.50 441.85,297.44 442.06,297.41 442.26,297.31 442.46,297.38 442.66,297.37 442.86,297.31 443.06,297.24 443.27,297.22 443.47,297.24 443.67,297.19 443.87,297.17 444.07,297.29 444.27,297.22 444.48,297.29 444.68,297.36 444.88,297.38 445.08,297.30 445.28,297.34 445.49,297.26 445.69,297.20 445.89,297.14 446.09,297.16 446.29,297.19 446.49,297.21 446.70,297.23 446.90,297.24 447.10,297.24 447.30,297.25 447.50,297.14 447.70,297.20 447.91,297.25 448.11,297.26 448.31,297.25 448.51,297.13 448.71,297.16 448.91,297.16 449.12,297.04 449.32,297.10 449.52,297.10 449.72,297.02 449.92,296.99 450.13,297.04 450.33,297.09 450.53,297.12 450.73,297.23 450.93,297.33 451.13,297.43 451.34,297.43 451.54,297.34 451.74,297.29 451.94,297.34 452.14,297.35 452.34,297.33 452.55,297.49 452.75,297.46 452.95,297.44 453.15,297.44 453.35,297.39 453.55,297.39 453.76,297.39 453.96,297.36 454.16,297.34 454.36,297.32 454.56,297.25 454.76,297.24 454.97,297.15 455.17,297.17 455.37,297.10 455.57,297.07 455.77,296.99 455.98,296.95 456.18,296.79 456.38,296.82 456.58,296.86 456.78,296.89 456.98,296.83 457.19,296.78 457.39,296.88 457.59,296.80 457.79,296.78 457.99,296.83 458.19,296.93 458.40,296.96 458.60,296.99 458.80,296.98 459.00,297.01 459.20,297.00 459.40,296.99 459.61,296.94 459.81,297.02 460.01,297.14 460.21,297.13 460.41,297.16 460.62,297.13 460.82,297.18 461.02,297.22 461.22,297.28 461.42,297.26 461.62,297.21 461.83,297.23 462.03,297.28 462.23,297.27 462.43,297.11 462.63,296.98 462.83,296.99 463.04,296.95 463.24,296.82 463.44,296.87 463.64,296.93 463.84,296.95 464.04,296.91 464.25,296.99 464.45,297.05 464.65,297.17 464.85,297.10 465.05,297.09 465.26,297.11 465.46,297.07 465.66,297.07 465.86,297.10 466.06,297.03 466.26,297.08 466.47,297.08 466.67,297.16 466.87,297.08 467.07,297.07 467.27,297.15 467.47,297.27 467.68,297.36 467.88,297.33 468.08,297.41 468.28,297.53 468.48,297.54 468.68,297.38 468.89,297.35 469.09,297.37 469.29,297.30 469.49,297.14 469.69,297.09 469.90,297.13 470.10,297.05 470.30,297.02 470.50,297.00 470.70,297.05 470.90,296.95 471.11,296.90 471.31,296.83 471.51,296.79 471.71,296.83 471.91,296.85 472.11,296.86 472.32,296.81 472.52,296.76 472.72,296.77 472.92,296.87 473.12,296.79 473.32,296.77 473.53,296.77 473.73,296.91 473.93,296.97 474.13,297.06 474.33,297.04 474.53,297.12 474.74,297.06 474.94,296.96 475.14,297.01 475.34,297.11 475.54,297.18 475.75,297.21 475.95,297.32 476.15,297.39 476.35,297.50 476.55,297.52 476.75,297.49 476.96,297.51 477.16,297.51 477.36,297.54 477.56,297.57 477.76,297.58 477.96,297.53 478.17,297.62 478.37,297.59 478.57,297.50 478.77,297.38 478.97,297.31 479.17,297.18 479.38,297.26 479.58,297.21 479.78,297.26 479.98,297.35 480.18,297.36 480.39,297.28 480.59,297.26 480.79,297.21 480.99,297.24 481.19,297.26 481.39,297.07 481.60,297.09 481.80,297.03 482.00,297.02 482.20,296.98 482.40,297.02 482.60,297.02 482.81,296.96 483.01,296.92 483.21,296.84 483.41,296.77 483.61,296.88 483.81,296.97 484.02,297.05 484.22,297.01 484.42,297.07 484.62,297.16 484.82,297.18 485.03,297.15 485.23,297.11 485.43,297.05 485.63,297.10 485.83,297.07 486.03,297.03 486.24,297.05 486.44,297.12 486.64,297.16 486.84,297.24 487.04,297.28 487.24,297.38 487.45,297.36 487.65,297.33 487.85,297.36 488.05,297.30 488.25,297.31 488.45,297.45 488.66,297.45 488.86,297.50 489.06,297.53 489.26,297.57 489.46,297.52 489.67,297.57 489.87,297.52 490.07,297.55 490.27,297.57 490.47,297.62 490.67,297.53 490.88,297.56 491.08,297.49 491.28,297.44 491.48,297.45 491.68,297.39 491.88,297.36 492.09,297.35 492.29,297.30 492.49,297.26 492.69,297.34 492.89,297.28 493.09,297.34 493.30,297.39 493.50,297.40 493.70,297.38 493.90,297.34 494.10,297.32 494.30,297.33 494.51,297.33 494.71,297.22 494.91,297.28 495.11,297.28 495.31,297.25 495.52,297.14 495.72,297.22 495.92,297.24 496.12,297.33 496.32,297.31 496.52,297.38 496.73,297.42 496.93,297.36 497.13,297.39 497.33,297.42 497.53,297.45 497.73,297.49 497.94,297.62 498.14,297.65 498.34,297.59 498.54,297.52 498.74,297.58 498.94,297.60 499.15,297.53 499.35,297.51 499.55,297.49 499.75,297.55 499.95,297.49 500.16,297.52 500.36,297.61 500.56,297.76 500.76,297.65 500.96,297.62 501.16,297.53 501.37,297.59 501.57,297.50 501.77,297.50 501.97,297.51 502.17,297.36 502.37,297.28 502.58,297.28 502.78,297.19 502.98,297.11 503.18,297.04 503.38,297.07 503.58,297.14 503.79,297.07 503.99,297.05 504.19,297.08 504.39,297.05 504.59,297.03 504.80,296.96 505.00,297.03 505.20,296.97 505.40,296.83 505.60,296.76 505.80,296.81 506.01,296.81 506.21,296.78 506.41,296.80 506.61,296.85 506.81,296.80 507.01,296.76 507.22,296.89 507.42,296.91 507.62,296.90 507.82,296.89 508.02,296.91 508.22,297.02 508.43,297.00 508.63,296.88 508.83,296.91 509.03,296.92 509.23,296.90 509.44,297.00 509.64,297.01 509.84,297.09 510.04,296.99 510.24,296.93 510.44,296.93 510.65,296.98 510.85,296.96 511.05,296.96 511.25,297.03 511.45,296.92 511.65,296.98 511.86,296.95 512.06,296.98 512.26,296.90 512.46,296.91 512.66,296.93 512.86,296.92 513.07,296.88 513.27,296.83 513.47,296.81 513.67,296.87 513.87,296.92 514.07,296.87 514.28,296.87 514.48,296.81 514.68,296.82 514.88,296.73 515.08,296.80 515.29,296.93 515.49,297.03 515.69,296.97 515.89,297.06 516.09,297.01 516.29,297.04 516.50,297.16 516.70,297.05 516.90,297.10 517.10,297.15 517.30,297.23 517.50,297.20 517.71,297.12 517.91,297.15 518.11,297.16 518.31,297.13 518.51,297.18 518.71,297.14 518.92,297.05 519.12,297.11 519.32,297.17 519.52,297.17 519.72,297.17 519.93,297.24 520.13,297.24 520.33,297.16 520.53,297.14 520.73,297.16 520.93,297.04 521.14,297.07 521.34,296.94 521.54,296.93 521.74,296.95 521.94,296.96 522.14,296.82 522.35,296.73 522.55,296.86 522.75,296.95 522.95,296.90 523.15,296.89 523.35,296.88 523.56,296.86 523.76,296.86 523.96,296.83 524.16,296.81 524.36,296.74 524.57,296.84 524.77,296.81 524.97,296.83 525.17,296.77 525.37,296.83 525.57,296.88 525.78,296.90 525.98,297.00 526.18,297.06 526.38,297.23 526.58,297.20 526.78,297.21 526.99,297.15 527.19,297.24 527.39,297.27 527.59,297.18 527.79,297.14 527.99,297.15 528.20,297.13 528.40,297.18 528.60,297.19 528.80,297.22 529.00,297.24 529.21,297.28 529.41,297.28 529.61,297.20 529.81,297.20 530.01,297.19 530.21,297.22 530.42,297.19 530.62,297.17 530.82,297.10 531.02,297.04 531.22,296.93 531.42,296.81 531.63,296.84 531.83,296.88 532.03,296.91 532.23,296.90 532.43,296.94 532.63,296.96 532.84,297.03 533.04,297.07 533.24,297.21 533.44,297.18 533.64,297.20 533.84,297.22 534.05,297.24 534.25,297.19 534.45,297.29 534.65,297.35 534.85,297.42 535.06,297.47 535.26,297.53 535.46,297.48 535.66,297.51 535.86,297.57 536.06,297.64 536.27,297.71 536.47,297.77 536.67,297.74 536.87,297.70 537.07,297.64 537.27,297.63 537.48,297.63 537.68,297.66 537.88,297.56 538.08,297.56 538.28,297.42 538.48,297.44 538.69,297.33 538.89,297.39 539.09,297.39 539.29,297.36 539.49,297.32 539.70,297.27 539.90,297.24 540.10,297.21 540.30,297.16 540.50,297.13 540.70,297.03 540.91,297.11 541.11,297.08 541.31,297.11 541.51,297.06 541.71,297.09 541.91,297.15 542.12,297.18 542.32,297.15 542.52,297.18 542.72,297.18 542.92,297.28 543.12,297.30 543.33,297.43 543.53,297.40 543.73,297.50 543.93,297.39 544.13,297.30 544.34,297.28 544.54,297.32 544.74,297.25 544.94,297.18 545.14,297.16 545.34,297.20 545.55,297.31 545.75,297.44 545.95,297.32 546.15,297.39 546.35,297.42 546.55,297.48 546.76,297.45 546.96,297.41 547.16,297.44 547.36,297.49 547.56,297.42 547.76,297.47 547.97,297.40 548.17,297.40 548.37,297.29 548.57,297.32 548.77,297.33 548.97,297.38 549.18,297.43 549.38,297.46 549.58,297.44 549.78,297.39 549.98,297.34 550.19,297.37 550.39,297.32 550.59,297.20 550.79,297.10 550.99,297.15 551.19,297.05 551.40,297.03 551.60,297.03 551.80,297.04 552.00,297.02 552.20,297.05 552.40,297.06 552.61,297.16 552.81,297.07 553.01,297.11 553.21,297.08 553.41,297.04 553.61,297.04 553.82,296.97 554.02,296.93 554.22,296.96 554.42,296.98 554.62,296.97 554.83,297.02 555.03,297.17 555.23,297.05 555.43,297.06 555.63,297.20 555.83,297.26 556.04,297.30 556.24,297.28 556.44,297.29 556.64,297.23 556.84,297.24 557.04,297.37 557.25,297.39 557.45,297.46 557.65,297.41 557.85,297.36 558.05,297.29 558.25,297.34 558.46,297.42 558.66,297.36 558.86,297.37 559.06,297.38 559.26,297.34 559.47,297.22 559.67,297.15 559.87,297.18 560.07,297.12 560.27,297.15 560.47,297.18 560.68,297.19 560.88,297.17 561.08,297.18 561.28,297.19 561.48,297.15 561.68,297.10 561.89,297.10 562.09,297.01 562.29,296.98 562.49,296.88 562.69,296.83 562.89,296.90 563.10,296.96 563.30,296.98 563.50,296.98 563.70,297.04 563.90,297.05 564.11,297.09 564.31,297.16 564.51,297.26 564.71,297.30 564.91,297.33 565.11,297.36 565.32,297.46 565.52,297.49 565.72,297.37 565.92,297.47 566.12,297.44 566.32,297.43 566.53,297.45 566.73,297.59 566.93,297.55 567.13,297.55 567.33,297.55 567.53,297.65 567.74,297.70 567.94,297.72 568.14,297.70 568.34,297.62 568.54,297.55 568.74,297.54 568.95,297.56 569.15,297.48 569.35,297.41 569.55,297.36 569.75,297.32 569.96,297.30 570.16,297.30 570.36,297.18 570.56,297.19 570.76,297.25 570.96,297.18 571.17,297.18 571.37,297.27 571.57,297.29 571.77,297.25 571.97,297.21 572.17,297.17 572.38,297.17 572.58,297.09 572.78,297.12 572.98,297.07 573.18,297.06 573.38,297.04 573.59,296.99 573.79,297.03 573.99,297.08 574.19,297.15 574.39,297.27 574.60,297.37 574.80,297.38 575.00,297.36 575.20,297.42 575.40,297.43 575.60,297.31 575.81,297.34 576.01,297.34 576.21,297.34 576.41,297.25 576.61,297.18 576.81,297.13 577.02,297.12 577.22,297.11 577.42,297.05 577.62,297.01 577.82,297.04 578.02,297.06 578.23,297.04 578.43,297.08 578.63,297.12 578.83,297.13 579.03,297.11 579.24,297.01 579.44,296.91 579.64,296.85 579.84,296.87 580.04,296.83 580.24,296.75 580.45,296.89 580.65,296.97 580.85,296.97 581.05,296.99 581.25,296.96 581.45,296.92 581.66,296.97 581.86,297.08 582.06,297.04 582.26,297.11 582.46,297.23 582.66,297.24 582.87,297.16 583.07,297.18 583.27,297.16 583.47,297.17 583.67,297.25 583.88,297.22 584.08,297.15 584.28,297.24 584.48,297.26 584.68,297.27 584.88,297.19 585.09,297.26 585.29,297.22 585.49,297.11 585.69,297.09 585.89,297.04 586.09,296.95 586.30,296.91 586.50,296.95 586.70,296.95 586.90,296.92 587.10,296.99 587.30,296.95 587.51,296.83 587.71,296.82 587.91,296.79 588.11,296.70 588.31,296.72 588.51,296.77 588.72,296.78 588.92,296.85 589.12,296.81 589.32,296.82 589.52,296.78 589.73,296.75 589.93,296.80 590.13,296.73 590.33,296.79 590.53,296.80 590.73,296.79 590.94,296.81 591.14,296.88 591.34,296.93 591.54,296.88 591.74,296.93 591.94,296.89 592.15,296.95 592.35,296.97 592.55,296.99 592.75,297.02 592.95,297.03 593.15,297.16 593.36,297.12 593.56,297.08 593.76,297.01 593.96,296.93 594.16,297.12 594.37,297.11 594.57,297.16 594.77,297.12 594.97,297.18 595.17,297.21 595.37,297.27 595.58,297.20 595.78,297.12 595.98,297.13 596.18,297.11 596.38,297.18 596.58,297.22 596.79,297.02 596.99,297.00 597.19,296.91 597.39,296.89 597.59,296.97 597.79,296.91 598.00,297.00 598.20,296.94 598.40,296.97 598.60,296.91 598.80,296.92 599.01,296.91 599.21,296.83 599.41,296.85 599.61,296.86 599.81,296.96 600.01,297.03 600.22,297.10 600.42,297.06 600.62,297.20 600.82,297.34 601.02,297.41 601.22,297.39 601.43,297.30 601.63,297.26 601.83,297.44 602.03,297.50 602.23,297.52 602.43,297.55 602.64,297.52 602.84,297.50 603.04,297.47 603.24,297.51 603.44,297.58 603.65,297.60 603.85,297.61 604.05,297.68 604.25,297.69 604.45,297.61 604.65,297.59 604.86,297.59 605.06,297.50 605.26,297.42 605.46,297.48 605.66,297.41 605.86,297.33 606.07,297.29 606.27,297.39 606.47,297.42 606.67,297.47 606.87,297.34 607.07,297.41 607.28,297.33 607.48,297.37 607.68,297.31 607.88,297.34 608.08,297.28 608.28,297.22 608.49,297.21 608.69,297.20 608.89,297.24 609.09,297.30 609.29,297.13 609.50,297.12 609.70,297.07 609.90,297.08 610.10,297.04 610.30,297.00 610.50,296.85 610.71,296.84 610.91,296.91 611.11,296.89 611.31,296.89 611.51,296.95 611.71,296.98 611.92,297.10 612.12,297.01 612.32,297.13 612.52,296.99 612.72,296.98 612.92,297.03 613.13,297.02 613.33,297.07 613.53,297.03 613.73,297.02 613.93,297.04 614.14,296.94 614.34,297.12 614.54,297.15 614.74,297.16 614.94,297.15 615.14,297.21 615.35,297.31 615.55,297.43 615.75,297.49 615.95,297.37 616.15,297.26 616.35,297.14 616.56,297.10 616.76,297.07 616.96,297.04 617.16,297.00 617.36,296.98 617.56,297.05 617.77,297.08 617.97,297.11 618.17,297.18 618.37,297.22 618.57,297.22 618.78,297.33 618.98,297.28 619.18,297.31 619.38,297.25 619.58,297.23 619.78,297.37 619.99,297.37 620.19,297.42 620.39,297.35 620.59,297.22 620.79,297.13 620.99,297.21 621.20,297.25 621.40,297.34 621.60,297.24 621.80,297.30 622.00,297.41 622.20,297.33 622.41,297.27 622.61,297.33 622.81,297.35 623.01,297.33 623.21,297.31 623.42,297.30 623.62,297.31 623.82,297.22 624.02,297.21 624.22,297.11 624.42,297.11 624.63,297.03 624.83,297.00 625.03,296.95 625.23,297.00 625.43,297.08 625.63,297.10 625.84,297.18 626.04,297.14 626.24,297.21 626.44,297.19 626.64,297.27 626.84,297.26 627.05,297.16 627.25,297.24 627.45,297.28 627.65,297.26 627.85,297.31 628.05,297.29 628.26,297.30 628.46,297.19 628.66,297.04 628.86,297.03 629.06,297.04 629.27,297.10 629.47,297.14 629.67,297.28 629.87,297.29 630.07,297.32 630.27,297.26 630.48,297.17 630.68,297.25 630.88,297.21 631.08,297.24 631.28,297.23 631.48,297.19 631.69,297.17 631.89,297.15 632.09,297.13 632.29,297.16 632.49,297.19 632.69,297.16 632.90,297.12 633.10,297.14 633.30,297.13" fill="none" stroke="#3c3c3c" stroke-width="0.85" stroke-linejoin="round" />
<line x1="376.99" y1="263.47" x2="376.99" y2="297.17" stroke="#8c8c8c" stroke-width="0.75" />
<line x1="377.79" y1="297.17" x2="377.79" y2="338.20" stroke="#8c8c8c" stroke-width="0.75" />
<line x1="376.94" y1="297.17" x2="377.74" y2="297.17" stroke="#444" stroke-width="0.9" />
<line x1="418.89" y1="241.49" x2="418.89" y2="297.17" stroke="#707070" stroke-width="0.75" />
<line x1="419.69" y1="297.17" x2="419.69" y2="346.99" stroke="#707070" stroke-width="0.75" />
<line x1="418.84" y1="297.17" x2="419.64" y2="297.17" stroke="#444" stroke-width="0.9" />
<line x1="462.31" y1="237.10" x2="462.31" y2="297.17" stroke="#505050" stroke-width="0.75" />
<line x1="463.11" y1="297.17" x2="463.11" y2="357.24" stroke="#505050" stroke-width="0.75" />
<line x1="462.26" y1="297.17" x2="463.06" y2="297.17" stroke="#444" stroke-width="0.9" />
<text x="344.9" y="278.6" font-size="10.4" fill="#000">DP<tspan font-size="7.4" dy="3.2">1</tspan></text>
<text x="392.8" y="278.6" font-size="10.4" fill="#000">DP<tspan font-size="7.4" dy="3.2">2</tspan></text>
<text x="436.2" y="278.6" font-size="10.4" fill="#000">DP<tspan font-size="7.4" dy="3.2">3</tspan></text>
<polygon points="365.76,286.38 370.10,290.32 368.62,291.95 374.70,291.80 374.27,285.73 372.79,287.36 368.44,283.42" fill="#4A8FDB"/>
<polygon points="405.76,286.38 410.10,290.32 408.62,291.95 414.70,291.80 414.27,285.73 412.79,287.36 408.44,283.42" fill="#4A8FDB"/>
<polygon points="450.36,286.38 454.70,290.32 453.22,291.95 459.30,291.80 458.87,285.73 457.39,287.36 453.04,283.42" fill="#4A8FDB"/>
<line x1="469.30" y1="292.20" x2="649.60" y2="292.20" stroke="#E23A3A" stroke-width="1.15" stroke-dasharray="6.6 2.6"/>
<line x1="469.30" y1="301.40" x2="649.60" y2="301.40" stroke="#E23A3A" stroke-width="1.15" stroke-dasharray="6.6 2.6"/>
<line x1="469.30" y1="292.20" x2="469.30" y2="301.40" stroke="#E23A3A" stroke-width="1.15" />
<line x1="649.60" y1="292.20" x2="649.60" y2="301.40" stroke="#E23A3A" stroke-width="1.15" />
<line x1="469.30" y1="301.40" x2="488.80" y2="313.50" stroke="#E23A3A" stroke-width="1.15" stroke-dasharray="3 2"/>
<line x1="649.60" y1="301.40" x2="669.30" y2="313.50" stroke="#E23A3A" stroke-width="1.15" stroke-dasharray="3 2"/>
<g transform="translate(507.00,265.30) rotate(-36.5)"><path d="M0,0 L4.5,-1.1 L4.5,1.1 Z" fill="#F0F0F0" stroke="#A0A0A0" stroke-width="0.5"/><rect x="4.3" y="-2.0" width="31" height="4.0" fill="#FCFCFC" stroke="#A4A4A4" stroke-width="0.6"/><rect x="5" y="-0.5" width="24" height="0.9" fill="#D6D6D6"/><rect x="26" y="-1.7" width="9" height="3.4" fill="#C4C4C4"/><rect x="30" y="-1.7" width="5" height="3.4" fill="#A8A8A8"/><rect x="34.5" y="-6.2" width="7.5" height="12.4" rx="1.6" fill="#F3F3F3" stroke="#E0E0E0" stroke-width="0.4"/><rect x="35.5" y="1.5" width="6" height="4.2" rx="1" fill="#E6E6E6"/><rect x="41.5" y="-4.5" width="15.8" height="9.0" rx="4.5" fill="#EFEFEF" stroke="#D0D0D0" stroke-width="0.45"/><rect x="42.5" y="-3.2" width="12.5" height="3.0" rx="1.5" fill="#FAFAFA"/></g>
<g transform="translate(552.90,265.30) rotate(-36.5)"><path d="M0,0 L4.5,-1.1 L4.5,1.1 Z" fill="#F0F0F0" stroke="#A0A0A0" stroke-width="0.5"/><rect x="4.3" y="-2.0" width="31" height="4.0" fill="#FCFCFC" stroke="#A4A4A4" stroke-width="0.6"/><rect x="5" y="-0.5" width="24" height="0.9" fill="#D6D6D6"/><rect x="26" y="-1.7" width="9" height="3.4" fill="#C4C4C4"/><rect x="30" y="-1.7" width="5" height="3.4" fill="#A8A8A8"/><rect x="34.5" y="-6.2" width="7.5" height="12.4" rx="1.6" fill="#F3F3F3" stroke="#E0E0E0" stroke-width="0.4"/><rect x="35.5" y="1.5" width="6" height="4.2" rx="1" fill="#E6E6E6"/><rect x="41.5" y="-4.5" width="15.8" height="9.0" rx="4.5" fill="#EFEFEF" stroke="#D0D0D0" stroke-width="0.45"/><rect x="42.5" y="-3.2" width="12.5" height="3.0" rx="1.5" fill="#FAFAFA"/></g>
<g transform="translate(596.30,265.30) rotate(-36.5)"><path d="M0,0 L4.5,-1.1 L4.5,1.1 Z" fill="#F0F0F0" stroke="#A0A0A0" stroke-width="0.5"/><rect x="4.3" y="-2.0" width="31" height="4.0" fill="#FCFCFC" stroke="#A4A4A4" stroke-width="0.6"/><rect x="5" y="-0.5" width="24" height="0.9" fill="#D6D6D6"/><rect x="26" y="-1.7" width="9" height="3.4" fill="#C4C4C4"/><rect x="30" y="-1.7" width="5" height="3.4" fill="#A8A8A8"/><rect x="34.5" y="-6.2" width="7.5" height="12.4" rx="1.6" fill="#F3F3F3" stroke="#E0E0E0" stroke-width="0.4"/><rect x="35.5" y="1.5" width="6" height="4.2" rx="1" fill="#E6E6E6"/><rect x="41.5" y="-4.5" width="15.8" height="9.0" rx="4.5" fill="#EFEFEF" stroke="#D0D0D0" stroke-width="0.45"/><rect x="42.5" y="-3.2" width="12.5" height="3.0" rx="1.5" fill="#FAFAFA"/></g>
<path d="M506.40,271.70 C507.60,274.70 511.30,279.10 511.30,281.60 A4.90,4.90 0 0 1 501.50,281.60 C501.50,279.10 505.20,274.70 506.40,271.70 Z" fill="#3A6CC6"/>
<path d="M554.00,271.70 C555.20,274.70 558.90,279.10 558.90,281.60 A4.90,4.90 0 0 1 549.10,281.60 C549.10,279.10 552.80,274.70 554.00,271.70 Z" fill="#3A6CC6"/>
<path d="M597.50,271.70 C598.70,274.70 602.40,279.10 602.40,281.60 A4.90,4.90 0 0 1 592.60,281.60 C592.60,279.10 596.30,274.70 597.50,271.70 Z" fill="#3A6CC6"/>
<rect x="299.2" y="310.2" width="73.20" height="46.80" fill="#fff" stroke="#333" stroke-width="0.8"/>
<line x1="297.40" y1="357.00" x2="299.20" y2="357.00" stroke="#333" stroke-width="0.7" />
<text x="292.30" y="359.50" font-size="7.0" font-weight="bold" text-anchor="middle" fill="#000" >1</text>
<line x1="297.40" y1="341.40" x2="299.20" y2="341.40" stroke="#333" stroke-width="0.7" />
<text x="292.30" y="343.90" font-size="7.0" font-weight="bold" text-anchor="middle" fill="#000" >2</text>
<line x1="297.40" y1="325.80" x2="299.20" y2="325.80" stroke="#333" stroke-width="0.7" />
<text x="292.30" y="328.30" font-size="7.0" font-weight="bold" text-anchor="middle" fill="#000" >3</text>
<line x1="297.40" y1="310.20" x2="299.20" y2="310.20" stroke="#333" stroke-width="0.7" />
<text x="292.30" y="312.70" font-size="7.0" font-weight="bold" text-anchor="middle" fill="#000" >4</text>
<line x1="298.20" y1="349.20" x2="299.20" y2="349.20" stroke="#333" stroke-width="0.7" />
<line x1="298.20" y1="333.60" x2="299.20" y2="333.60" stroke="#333" stroke-width="0.7" />
<line x1="298.20" y1="318.00" x2="299.20" y2="318.00" stroke="#333" stroke-width="0.7" />
<line x1="315.50" y1="357.00" x2="315.50" y2="358.80" stroke="#333" stroke-width="0.7" />
<text x="315.50" y="366.80" font-size="7.0" font-weight="bold" text-anchor="middle" fill="#000" >21</text>
<line x1="343.80" y1="357.00" x2="343.80" y2="358.80" stroke="#333" stroke-width="0.7" />
<text x="343.80" y="366.80" font-size="7.0" font-weight="bold" text-anchor="middle" fill="#000" >22</text>
<line x1="372.10" y1="357.00" x2="372.10" y2="358.80" stroke="#333" stroke-width="0.7" />
<text x="372.10" y="366.80" font-size="7.0" font-weight="bold" text-anchor="middle" fill="#000" >23</text>
<line x1="301.35" y1="357.00" x2="301.35" y2="358.00" stroke="#333" stroke-width="0.7" />
<line x1="329.65" y1="357.00" x2="329.65" y2="358.00" stroke="#333" stroke-width="0.7" />
<line x1="357.95" y1="357.00" x2="357.95" y2="358.00" stroke="#333" stroke-width="0.7" />
<polyline points="304.18,334.37 304.33,334.37 304.49,334.37 304.64,334.37 304.79,334.36 304.95,334.36 305.10,334.36 305.25,334.35 305.41,334.35 305.56,334.35 305.71,334.34 305.87,334.34 306.02,334.34 306.17,334.33 306.32,334.33 306.48,334.33 306.63,334.32 306.78,334.32 306.94,334.31 307.09,334.31 307.24,334.31 307.40,334.30 307.55,334.30 307.70,334.30 307.86,334.29 308.01,334.29 308.16,334.29 308.32,334.28 308.47,334.28 308.62,334.28 308.78,334.27 308.93,334.27 309.08,334.26 309.24,334.26 309.39,334.26 309.54,334.25 309.70,334.25 309.85,334.25 310.00,334.24 310.15,334.24 310.31,334.24 310.46,334.23 310.61,334.23 310.77,334.22 310.92,334.22 311.07,334.22 311.23,334.21 311.38,334.21 311.53,334.21 311.69,334.20 311.84,334.20 311.99,334.20 312.15,334.19 312.30,334.19 312.45,334.18 312.61,334.18 312.76,334.18 312.91,334.17 313.07,334.17 313.22,334.17 313.37,334.16 313.53,334.16 313.68,334.16 313.83,334.15 313.98,334.15 314.14,334.14 314.29,334.14 314.44,334.14 314.60,334.13 314.75,334.13 314.90,334.13 315.06,334.12 315.21,334.12 315.36,334.12 315.52,334.11 315.67,334.11 315.82,334.10 315.98,334.10 316.13,334.10 316.28,334.09 316.44,334.09 316.59,334.09 316.74,334.08 316.90,334.08 317.05,334.08 317.20,334.07 317.36,334.07 317.51,334.07 317.66,334.06 317.82,334.06 317.97,334.05 318.12,334.05 318.27,334.05 318.43,334.04 318.58,334.04 318.73,334.04 318.89,334.03 319.04,334.03 319.19,334.03 319.35,334.02 319.50,334.02 319.65,334.01 319.81,334.01 319.96,334.01 320.11,334.00 320.27,334.00 320.42,334.00 320.57,333.99 320.73,333.99 320.88,333.99 321.03,333.98 321.19,333.98 321.34,333.97 321.49,333.97 321.65,333.97 321.80,333.96 321.95,333.96 322.10,333.96 322.26,333.95 322.41,333.95 322.56,333.95 322.72,333.94 322.87,333.94 323.02,333.93 323.18,333.93 323.33,333.91 323.48,333.90 323.64,333.87 323.79,333.84 323.94,333.78 324.10,333.72 324.25,333.63 324.40,333.53 324.56,333.42 324.71,333.31 324.86,333.19 325.02,333.06 325.17,332.93 325.32,332.80 325.48,332.66 325.63,332.50 325.78,332.31 325.93,332.09 326.09,331.81 326.24,331.47 326.39,331.06 326.55,330.59 326.70,330.06 326.85,329.49 327.01,328.90 327.16,328.29 327.31,327.67 327.47,327.06 327.62,326.45 327.77,325.86 327.93,325.28 328.08,324.73 328.23,324.19 328.39,323.66 328.54,323.16 328.69,322.66 328.85,322.18 329.00,321.73 329.15,321.31 329.31,320.95 329.46,320.65 329.61,320.44 329.76,320.32 329.92,320.30 330.07,320.35 330.22,320.46 330.38,320.62 330.53,320.80 330.68,321.00 330.84,321.22 330.99,321.45 331.14,321.69 331.30,321.94 331.45,322.21 331.60,322.49 331.76,322.78 331.91,323.08 332.06,323.39 332.22,323.70 332.37,324.01 332.52,324.33 332.68,324.65 332.83,324.97 332.98,325.29 333.14,325.61 333.29,325.94 333.44,326.28 333.59,326.63 333.75,326.99 333.90,327.36 334.05,327.74 334.21,328.13 334.36,328.52 334.51,328.93 334.67,329.35 334.82,329.79 334.97,330.28 335.13,330.81 335.28,331.40 335.43,332.05 335.59,332.77 335.74,333.53 335.89,334.34 336.05,335.19 336.20,336.06 336.35,336.96 336.51,337.90 336.66,338.88 336.81,339.94 336.97,341.07 337.12,342.28 337.27,343.57 337.43,344.91 337.58,346.28 337.73,347.62 337.88,348.87 338.04,349.97 338.19,350.83 338.34,351.40 338.50,351.64 338.65,351.54 338.80,351.15 338.96,350.52 339.11,349.72 339.26,348.82 339.42,347.87 339.57,346.90 339.72,345.93 339.88,344.97 340.03,344.03 340.18,343.11 340.34,342.21 340.49,341.36 340.64,340.57 340.80,339.85 340.95,339.22 341.10,338.69 341.26,338.25 341.41,337.89 341.56,337.59 341.71,337.33 341.87,337.10 342.02,336.88 342.17,336.68 342.33,336.48 342.48,336.29 342.63,336.11 342.79,335.95 342.94,335.81 343.09,335.68 343.25,335.57 343.40,335.48 343.55,335.40 343.71,335.32 343.86,335.26 344.01,335.19 344.17,335.13 344.32,335.06 344.47,335.00 344.63,334.94 344.78,334.89 344.93,334.83 345.09,334.79 345.24,334.75 345.39,334.72 345.54,334.69 345.70,334.67 345.85,334.65 346.00,334.64 346.16,334.62 346.31,334.61 346.46,334.60 346.62,334.59 346.77,334.58 346.92,334.57 347.08,334.56 347.23,334.54 347.38,334.53 347.54,334.52 347.69,334.51 347.84,334.50 348.00,334.49 348.15,334.48 348.30,334.47 348.46,334.45 348.61,334.44 348.76,334.43 348.92,334.42 349.07,334.41 349.22,334.40 349.37,334.40 349.53,334.39 349.68,334.39 349.83,334.38 349.99,334.38 350.14,334.38 350.29,334.38 350.45,334.38 350.60,334.38 350.75,334.38 350.91,334.38 351.06,334.38 351.21,334.38 351.37,334.38 351.52,334.38 351.67,334.38 351.83,334.38 351.98,334.38 352.13,334.38 352.29,334.38 352.44,334.38 352.59,334.38 352.75,334.38 352.90,334.38 353.05,334.38 353.20,334.38 353.36,334.38 353.51,334.38 353.66,334.38 353.82,334.38 353.97,334.38 354.12,334.38 354.28,334.38 354.43,334.38 354.58,334.38 354.74,334.38 354.89,334.38 355.04,334.38 355.20,334.38 355.35,334.38 355.50,334.38 355.66,334.38 355.81,334.38 355.96,334.38 356.12,334.38 356.27,334.38 356.42,334.38 356.58,334.38 356.73,334.38 356.88,334.38 357.04,334.38 357.19,334.38 357.34,334.38 357.49,334.38 357.65,334.38 357.80,334.38 357.95,334.38 358.11,334.38 358.26,334.38 358.41,334.38 358.57,334.38 358.72,334.38 358.87,334.38 359.03,334.38 359.18,334.38 359.33,334.38 359.49,334.38 359.64,334.38 359.79,334.38 359.95,334.38 360.10,334.38 360.25,334.38 360.41,334.38 360.56,334.38 360.71,334.38 360.87,334.38 361.02,334.38 361.17,334.38 361.32,334.38 361.48,334.38 361.63,334.38 361.78,334.38 361.94,334.38 362.09,334.38 362.24,334.38 362.40,334.38 362.55,334.38 362.70,334.38 362.86,334.38 363.01,334.38 363.16,334.38 363.32,334.38 363.47,334.38 363.62,334.38 363.78,334.38 363.93,334.38 364.08,334.38 364.24,334.38 364.39,334.38 364.54,334.38 364.70,334.38 364.85,334.38 365.00,334.38 365.15,334.38 365.31,334.38" fill="none" stroke="#111" stroke-width="1.35" stroke-linejoin="round" />
<text x="344.7" y="322.4" font-size="10.2" fill="#000">DP<tspan font-size="7.2" dy="2.6">1</tspan></text>
<rect x="488.8" y="313.5" width="180.50" height="43.90" fill="#fff" stroke="#333" stroke-width="0.8"/>
<line x1="487.00" y1="353.67" x2="488.80" y2="353.67" stroke="#333" stroke-width="0.7" />
<text x="483.20" y="356.37" font-size="7.6" font-weight="bold" text-anchor="end" fill="#000" >2.44</text>
<line x1="487.00" y1="341.30" x2="488.80" y2="341.30" stroke="#333" stroke-width="0.7" />
<text x="483.20" y="344.00" font-size="7.6" font-weight="bold" text-anchor="end" fill="#000" >2.45</text>
<line x1="487.00" y1="328.93" x2="488.80" y2="328.93" stroke="#333" stroke-width="0.7" />
<text x="483.20" y="331.63" font-size="7.6" font-weight="bold" text-anchor="end" fill="#000" >2.46</text>
<line x1="487.00" y1="316.56" x2="488.80" y2="316.56" stroke="#333" stroke-width="0.7" />
<text x="483.20" y="319.26" font-size="7.6" font-weight="bold" text-anchor="end" fill="#000" >2.47</text>
<line x1="487.80" y1="347.49" x2="488.80" y2="347.49" stroke="#333" stroke-width="0.7" />
<line x1="487.80" y1="335.12" x2="488.80" y2="335.12" stroke="#333" stroke-width="0.7" />
<line x1="487.80" y1="322.75" x2="488.80" y2="322.75" stroke="#333" stroke-width="0.7" />
<line x1="488.80" y1="357.40" x2="488.80" y2="359.20" stroke="#333" stroke-width="0.7" />
<text x="488.80" y="366.80" font-size="7.2" font-weight="bold" text-anchor="middle" fill="#000" >60</text>
<line x1="510.00" y1="357.40" x2="510.00" y2="359.20" stroke="#333" stroke-width="0.7" />
<text x="510.00" y="366.80" font-size="7.2" font-weight="bold" text-anchor="middle" fill="#000" >70</text>
<line x1="531.20" y1="357.40" x2="531.20" y2="359.20" stroke="#333" stroke-width="0.7" />
<text x="531.20" y="366.80" font-size="7.2" font-weight="bold" text-anchor="middle" fill="#000" >80</text>
<line x1="552.40" y1="357.40" x2="552.40" y2="359.20" stroke="#333" stroke-width="0.7" />
<text x="552.40" y="366.80" font-size="7.2" font-weight="bold" text-anchor="middle" fill="#000" >90</text>
<line x1="573.60" y1="357.40" x2="573.60" y2="359.20" stroke="#333" stroke-width="0.7" />
<text x="573.60" y="366.80" font-size="7.2" font-weight="bold" text-anchor="middle" fill="#000" >100</text>
<line x1="594.80" y1="357.40" x2="594.80" y2="359.20" stroke="#333" stroke-width="0.7" />
<text x="594.80" y="366.80" font-size="7.2" font-weight="bold" text-anchor="middle" fill="#000" >110</text>
<line x1="616.00" y1="357.40" x2="616.00" y2="359.20" stroke="#333" stroke-width="0.7" />
<text x="616.00" y="366.80" font-size="7.2" font-weight="bold" text-anchor="middle" fill="#000" >120</text>
<line x1="637.20" y1="357.40" x2="637.20" y2="359.20" stroke="#333" stroke-width="0.7" />
<text x="637.20" y="366.80" font-size="7.2" font-weight="bold" text-anchor="middle" fill="#000" >130</text>
<line x1="658.40" y1="357.40" x2="658.40" y2="359.20" stroke="#333" stroke-width="0.7" />
<text x="658.40" y="366.80" font-size="7.2" font-weight="bold" text-anchor="middle" fill="#000" >140</text>
<line x1="499.40" y1="357.40" x2="499.40" y2="358.40" stroke="#333" stroke-width="0.7" />
<line x1="520.60" y1="357.40" x2="520.60" y2="358.40" stroke="#333" stroke-width="0.7" />
<line x1="541.80" y1="357.40" x2="541.80" y2="358.40" stroke="#333" stroke-width="0.7" />
<line x1="563.00" y1="357.40" x2="563.00" y2="358.40" stroke="#333" stroke-width="0.7" />
<line x1="584.20" y1="357.40" x2="584.20" y2="358.40" stroke="#333" stroke-width="0.7" />
<line x1="605.40" y1="357.40" x2="605.40" y2="358.40" stroke="#333" stroke-width="0.7" />
<line x1="626.60" y1="357.40" x2="626.60" y2="358.40" stroke="#333" stroke-width="0.7" />
<line x1="647.80" y1="357.40" x2="647.80" y2="358.40" stroke="#333" stroke-width="0.7" />
<line x1="669.00" y1="357.40" x2="669.00" y2="358.40" stroke="#333" stroke-width="0.7" />
<polyline points="509.50,338.04 509.63,338.30 509.76,338.32 509.89,337.33 510.02,336.09 510.15,336.44 510.28,336.24 510.41,336.75 510.54,335.27 510.67,335.95 510.80,335.77 510.93,336.18 511.06,335.07 511.20,334.88 511.33,334.86 511.46,335.10 511.59,335.08 511.72,334.33 511.85,333.67 511.98,334.20 512.11,333.15 512.24,332.88 512.37,332.71 512.50,331.90 512.63,331.54 512.76,331.61 512.89,331.92 513.02,331.15 513.15,330.00 513.28,331.50 513.41,331.92 513.54,331.79 513.67,331.21 513.80,331.94 513.93,331.51 514.06,331.33 514.19,331.10 514.32,330.11 514.45,330.23 514.59,329.71 514.72,329.68 514.85,330.98 514.98,330.64 515.11,330.30 515.24,330.04 515.37,330.11 515.50,330.81 515.63,331.31 515.76,332.24 515.89,332.07 516.02,333.01 516.15,333.24 516.28,333.60 516.41,334.33 516.54,334.52 516.67,335.56 516.80,336.53 516.93,337.93 517.06,337.92 517.19,339.35 517.32,340.38 517.45,341.51 517.58,341.72 517.71,340.53 517.85,340.07 517.98,339.77 518.11,338.26 518.24,338.42 518.37,337.25 518.50,336.42 518.63,336.38 518.76,335.59 518.89,335.50 519.02,334.26 519.15,335.13 519.28,332.92 519.41,332.98 519.54,331.36 519.67,331.13 519.80,330.84 519.93,331.62 520.06,331.89 520.19,333.01 520.32,332.77 520.45,332.82 520.58,332.52 520.71,332.93 520.84,334.42 520.97,335.37 521.10,336.87 521.24,336.52 521.37,336.20 521.50,336.36 521.63,338.20 521.76,338.26 521.89,339.13 522.02,337.86 522.15,338.03 522.28,337.91 522.41,337.53 522.54,337.29 522.67,337.29 522.80,337.69 522.93,337.05 523.06,337.63 523.19,336.35 523.32,336.61 523.45,336.88 523.58,336.24 523.71,335.66 523.84,336.54 523.97,337.79 524.10,336.59 524.23,336.65 524.36,334.91 524.49,335.61 524.63,336.62 524.76,336.74 524.89,335.95 525.02,334.79 525.15,335.24 525.28,334.80 525.41,334.66 525.54,335.02 525.67,335.02 525.80,334.70 525.93,335.51 526.06,334.29 526.19,334.37 526.32,333.18 526.45,333.41 526.58,333.11 526.71,332.80 526.84,334.42 526.97,334.70 527.10,335.14 527.23,334.28 527.36,334.56 527.49,334.14 527.62,333.66 527.75,332.68 527.89,332.06 528.02,332.46 528.15,332.37 528.28,331.72 528.41,332.41 528.54,332.72 528.67,332.32 528.80,332.70 528.93,333.28 529.06,334.50 529.19,334.79 529.32,334.38 529.45,334.76 529.58,335.82 529.71,336.79 529.84,337.25 529.97,337.59 530.10,337.89 530.23,337.71 530.36,337.07 530.49,337.96 530.62,337.80 530.75,338.49 530.88,338.18 531.01,338.04 531.14,338.23 531.28,338.10 531.41,338.37 531.54,339.03 531.67,340.19 531.80,340.59 531.93,341.04 532.06,341.53 532.19,341.22 532.32,340.65 532.45,339.54 532.58,339.26 532.71,339.04 532.84,338.54 532.97,338.30 533.10,337.85 533.23,337.49 533.36,337.73 533.49,336.77 533.62,335.99 533.75,335.62 533.88,336.39 534.01,334.90 534.14,334.63 534.27,333.67 534.40,334.15 534.54,334.18 534.67,334.09 534.80,332.40 534.93,331.98 535.06,333.17 535.19,331.54 535.32,331.96 535.45,330.93 535.58,329.97 535.71,330.42 535.84,330.68 535.97,330.48 536.10,329.72 536.23,330.17 536.36,329.74 536.49,329.83 536.62,329.17 536.75,328.65 536.88,328.19 537.01,327.47 537.14,327.84 537.27,327.20 537.40,327.11 537.53,327.57 537.66,327.52 537.79,327.01 537.93,326.16 538.06,325.01 538.19,325.55 538.32,325.18 538.45,323.86 538.58,324.33 538.71,323.48 538.84,323.88 538.97,322.63 539.10,321.86 539.23,322.40 539.36,322.85 539.49,323.48 539.62,323.53 539.75,323.53 539.88,322.80 540.01,321.90 540.14,320.92 540.27,322.00 540.40,321.56 540.53,321.88 540.66,321.79 540.79,321.70 540.92,320.42 541.05,321.59 541.19,322.06 541.32,322.92 541.45,323.94 541.58,324.31 541.71,323.91 541.84,325.48 541.97,326.00 542.10,326.77 542.23,326.74 542.36,326.89 542.49,327.48 542.62,327.52 542.75,328.76 542.88,328.76 543.01,329.51 543.14,329.29 543.27,330.71 543.40,330.09 543.53,329.91 543.66,331.04 543.79,330.60 543.92,330.95 544.05,331.67 544.18,331.44 544.31,331.63 544.44,332.75 544.58,332.52 544.71,332.12 544.84,332.24 544.97,332.37 545.10,333.39 545.23,334.11 545.36,335.04 545.49,335.63 545.62,335.76 545.75,336.01 545.88,336.63 546.01,335.84 546.14,337.31 546.27,337.10 546.40,336.86 546.53,336.50 546.66,336.97 546.79,337.77 546.92,338.39 547.05,337.69 547.18,337.64 547.31,338.00 547.44,338.21 547.57,338.22 547.70,337.76 547.84,339.03 547.97,338.29 548.10,338.71 548.23,337.72 548.36,338.35 548.49,338.95 548.62,338.76 548.75,338.89 548.88,339.95 549.01,340.26 549.14,340.28 549.27,339.59 549.40,340.14 549.53,338.78 549.66,339.03 549.79,338.37 549.92,338.93 550.05,339.17 550.18,338.08 550.31,338.66 550.44,338.53 550.57,337.56 550.70,336.61 550.83,335.74 550.96,335.40 551.09,335.91 551.23,335.95 551.36,335.65 551.49,334.44 551.62,335.52 551.75,335.76 551.88,333.85 552.01,332.13 552.14,331.94 552.27,332.63 552.40,332.87 552.53,333.12 552.66,332.64 552.79,332.95 552.92,331.05 553.05,330.80 553.18,330.10 553.31,330.86 553.44,330.84 553.57,329.54 553.70,331.28 553.83,330.57 553.96,331.44 554.09,330.51 554.22,330.71 554.35,330.86 554.48,330.24 554.62,330.56 554.75,331.98 554.88,332.69 555.01,332.75 555.14,333.16 555.27,333.12 555.40,332.99 555.53,332.39 555.66,332.69 555.79,334.24 555.92,334.69 556.05,335.09 556.18,334.85 556.31,333.85 556.44,334.22 556.57,334.61 556.70,335.44 556.83,336.08 556.96,336.56 557.09,336.11 557.22,336.38 557.35,335.92 557.48,337.69 557.61,337.34 557.74,338.21 557.88,337.76 558.01,338.73 558.14,338.79 558.27,339.82 558.40,340.19 558.53,339.84 558.66,339.75 558.79,340.28 558.92,341.15 559.05,341.54 559.18,341.30 559.31,340.49 559.44,340.28 559.57,340.49 559.70,340.80 559.83,340.54 559.96,339.48 560.09,339.16 560.22,339.23 560.35,338.67 560.48,338.90 560.61,337.85 560.74,339.10 560.87,338.91 561.00,338.53 561.13,338.73 561.27,338.83 561.40,338.92 561.53,338.12 561.66,337.92 561.79,337.75 561.92,337.41 562.05,337.37 562.18,336.75 562.31,336.62 562.44,337.54 562.57,336.74 562.70,336.77 562.83,336.55 562.96,336.45 563.09,336.79 563.22,336.11 563.35,335.77 563.48,334.73 563.61,334.23 563.74,334.89 563.87,334.33 564.00,334.11 564.13,333.21 564.26,332.64 564.39,332.41 564.53,332.02 564.66,332.68 564.79,331.77 564.92,331.94 565.05,331.27 565.18,331.43 565.31,331.21 565.44,331.11 565.57,331.65 565.70,330.57 565.83,330.23 565.96,329.41 566.09,328.86 566.22,329.28 566.35,328.92 566.48,328.83 566.61,328.54 566.74,327.06 566.87,327.22 567.00,327.50 567.13,327.06 567.26,327.25 567.39,326.51 567.52,327.33 567.65,327.36 567.78,327.02 567.92,326.62 568.05,326.04 568.18,325.54 568.31,325.74 568.44,325.65 568.57,326.09 568.70,326.55 568.83,325.19 568.96,324.87 569.09,323.92 569.22,323.51 569.35,322.54 569.48,324.74 569.61,324.97 569.74,325.42 569.87,324.67 570.00,323.72 570.13,323.72 570.26,324.87 570.39,324.86 570.52,325.60 570.65,324.90 570.78,325.16 570.91,325.74 571.04,325.74 571.18,326.38 571.31,326.52 571.44,326.18 571.57,325.67 571.70,325.86 571.83,326.74 571.96,326.67 572.09,327.03 572.22,326.08 572.35,326.56 572.48,325.65 572.61,326.22 572.74,326.58 572.87,327.43 573.00,326.96 573.13,327.89 573.26,328.51 573.39,327.33 573.52,328.27 573.65,329.40 573.78,329.83 573.91,329.09 574.04,328.94 574.17,329.29 574.30,329.99 574.43,330.69 574.57,331.52 574.70,330.60 574.83,330.51 574.96,330.38 575.09,331.46 575.22,332.17 575.35,331.90 575.48,333.13 575.61,332.66 575.74,333.52 575.87,334.14 576.00,334.32 576.13,333.56 576.26,333.64 576.39,334.13 576.52,334.24 576.65,333.89 576.78,334.40 576.91,333.65 577.04,334.19 577.17,333.41 577.30,333.58 577.43,334.68 577.56,334.29 577.69,334.79 577.83,334.73 577.96,333.80 578.09,333.05 578.22,333.66 578.35,334.59 578.48,334.28 578.61,335.10 578.74,334.62 578.87,334.30 579.00,334.07 579.13,334.07 579.26,333.83 579.39,334.56 579.52,335.45 579.65,334.98 579.78,334.20 579.91,334.49 580.04,333.89 580.17,333.75 580.30,333.78 580.43,333.59 580.56,335.68 580.69,334.76 580.82,334.54 580.95,333.67 581.08,333.93 581.22,334.39 581.35,333.96 581.48,334.15 581.61,333.69 581.74,334.09 581.87,332.98 582.00,332.72 582.13,333.70 582.26,333.27 582.39,333.51 582.52,332.56 582.65,332.18 582.78,331.92 582.91,331.69 583.04,331.23 583.17,331.55 583.30,331.08 583.43,331.53 583.56,331.24 583.69,330.99 583.82,331.79 583.95,333.01 584.08,332.72 584.21,332.52 584.34,331.94 584.47,331.89 584.61,331.65 584.74,332.46 584.87,332.34 585.00,333.04 585.13,333.12 585.26,333.15 585.39,333.22 585.52,333.51 585.65,334.70 585.78,334.36 585.91,333.35 586.04,333.54 586.17,333.38 586.30,333.54 586.43,332.78 586.56,332.81 586.69,333.47 586.82,334.34 586.95,335.99 587.08,335.81 587.21,334.68 587.34,335.35 587.47,336.11 587.60,335.83 587.73,335.60 587.87,336.46 588.00,336.54 588.13,336.62 588.26,336.73 588.39,337.68 588.52,338.13 588.65,338.70 588.78,338.65 588.91,338.36 589.04,339.01 589.17,338.73 589.30,339.46 589.43,339.16 589.56,339.81 589.69,340.65 589.82,339.37 589.95,338.69 590.08,337.93 590.21,337.96 590.34,338.13 590.47,336.97 590.60,337.04 590.73,336.55 590.86,337.82 590.99,335.70 591.12,336.26 591.26,335.14 591.39,335.28 591.52,334.93 591.65,334.23 591.78,333.69 591.91,334.46 592.04,333.15 592.17,333.51 592.30,333.14 592.43,332.03 592.56,332.71 592.69,332.64 592.82,332.40 592.95,332.88 593.08,332.25 593.21,334.01 593.34,333.65 593.47,333.44 593.60,333.58 593.73,333.09 593.86,332.91 593.99,331.32 594.12,332.53 594.25,333.93 594.38,335.26 594.52,334.86 594.65,334.83 594.78,333.00 594.91,332.66 595.04,332.90 595.17,333.70 595.30,333.40 595.43,332.74 595.56,332.04 595.69,333.59 595.82,333.06 595.95,332.68 596.08,332.29 596.21,331.25 596.34,330.88 596.47,331.11 596.60,331.00 596.73,331.65 596.86,330.11 596.99,330.54 597.12,329.95 597.25,330.14 597.38,327.81 597.51,328.69 597.64,328.82 597.77,329.09 597.91,329.59 598.04,330.38 598.17,330.40 598.30,330.14 598.43,330.54 598.56,331.00 598.69,331.91 598.82,331.15 598.95,330.58 599.08,330.21 599.21,331.63 599.34,332.12 599.47,332.56 599.60,332.34 599.73,332.20 599.86,332.92 599.99,332.99 600.12,333.17 600.25,333.97 600.38,334.34 600.51,335.32 600.64,335.91 600.77,337.17 600.90,337.41 601.03,337.58 601.17,337.38 601.30,337.86 601.43,338.34 601.56,339.43 601.69,339.47 601.82,340.89 601.95,341.44 602.08,341.81 602.21,341.92 602.34,344.11 602.47,344.15 602.60,344.14 602.73,344.12 602.86,344.07 602.99,343.78 603.12,342.66 603.25,343.54 603.38,341.38 603.51,340.41 603.64,340.21 603.77,340.14 603.90,340.23 604.03,339.83 604.16,339.92 604.29,338.89 604.42,338.91 604.56,338.68 604.69,338.34 604.82,337.75 604.95,338.49 605.08,338.63 605.21,338.57 605.34,337.95 605.47,337.97 605.60,338.31 605.73,337.49 605.86,337.77 605.99,338.64 606.12,337.40 606.25,337.99 606.38,337.32 606.51,336.47 606.64,336.66 606.77,336.74 606.90,335.83 607.03,335.37 607.16,334.68 607.29,334.18 607.42,334.54 607.55,334.69 607.68,333.37 607.82,333.00 607.95,332.61 608.08,331.35 608.21,331.94 608.34,330.94 608.47,330.43 608.60,330.42 608.73,330.56 608.86,330.96 608.99,330.02 609.12,330.02 609.25,330.60 609.38,331.00 609.51,331.77 609.64,332.41 609.77,331.38 609.90,331.89 610.03,331.48 610.16,332.55 610.29,332.83 610.42,332.46 610.55,332.51 610.68,331.85 610.81,332.07 610.94,332.29 611.07,332.08 611.21,332.97 611.34,333.67 611.47,333.74 611.60,334.54 611.73,335.58 611.86,335.38 611.99,334.47 612.12,335.34 612.25,335.51 612.38,334.18 612.51,332.64 612.64,333.97 612.77,334.26 612.90,334.97 613.03,333.12 613.16,334.73 613.29,333.86 613.42,334.04 613.55,332.67 613.68,333.94 613.81,334.93 613.94,335.26 614.07,334.76 614.20,333.89 614.33,332.68 614.46,332.80 614.60,331.96 614.73,332.27 614.86,332.38 614.99,331.59 615.12,331.74 615.25,332.48 615.38,332.97 615.51,331.92 615.64,331.70 615.77,331.24 615.90,330.94 616.03,330.40 616.16,328.23 616.29,328.09 616.42,329.22 616.55,329.23 616.68,328.84 616.81,328.15 616.94,328.12 617.07,328.10 617.20,327.56 617.33,326.44 617.46,324.75 617.59,323.86 617.72,323.75 617.86,323.48 617.99,322.51 618.12,323.22 618.25,323.15 618.38,322.94 618.51,323.29 618.64,323.24 618.77,323.39 618.90,322.62 619.03,322.57 619.16,322.52 619.29,320.94 619.42,321.26 619.55,321.60 619.68,321.63 619.81,320.29 619.94,320.13 620.07,320.44 620.20,321.31 620.33,321.15 620.46,321.73 620.59,321.70 620.72,322.48 620.85,323.43 620.98,324.15 621.11,324.81 621.25,325.38 621.38,325.43 621.51,326.75 621.64,328.89 621.77,328.82 621.90,329.13 622.03,328.95 622.16,329.31 622.29,329.59 622.42,330.17 622.55,330.46 622.68,330.42 622.81,331.34 622.94,331.44 623.07,332.02 623.20,333.48 623.33,333.40 623.46,332.57 623.59,334.39 623.72,334.46 623.85,334.99 623.98,335.69 624.11,334.88 624.24,334.42 624.37,335.08 624.51,336.17 624.64,336.44 624.77,336.31 624.90,336.79 625.03,338.28 625.16,338.94 625.29,339.48 625.42,340.05 625.55,339.20 625.68,338.89 625.81,336.98 625.94,337.12 626.07,337.68 626.20,337.98 626.33,337.65 626.46,337.81 626.59,337.35 626.72,337.35 626.85,335.87 626.98,336.19 627.11,334.71 627.24,334.53 627.37,333.70 627.50,333.14 627.63,332.76 627.76,332.46 627.90,334.04 628.03,333.15 628.16,332.34 628.29,332.71 628.42,332.60 628.55,333.56 628.68,332.08 628.81,332.87 628.94,331.87 629.07,332.41 629.20,332.15 629.33,331.12 629.46,330.88 629.59,330.79 629.72,331.54 629.85,331.79 629.98,330.46 630.11,330.19 630.24,330.23 630.37,330.89 630.50,330.68 630.63,331.52 630.76,331.62 630.89,332.05 631.02,331.92 631.16,329.96 631.29,330.19 631.42,329.37 631.55,330.52 631.68,330.69 631.81,330.99 631.94,330.96 632.07,330.70 632.20,331.99 632.33,331.33 632.46,331.04 632.59,329.95 632.72,329.88 632.85,329.57 632.98,329.75 633.11,330.18 633.24,330.04 633.37,330.46 633.50,331.66 633.63,331.10 633.76,330.57 633.89,330.99 634.02,330.86 634.15,330.90 634.28,330.93 634.41,331.14 634.55,330.78 634.68,330.42 634.81,331.06 634.94,330.96 635.07,330.35 635.20,330.82 635.33,330.12 635.46,331.31 635.59,329.28 635.72,330.59 635.85,331.21 635.98,332.43 636.11,331.66 636.24,331.41 636.37,332.56 636.50,331.17 636.63,331.68 636.76,331.91 636.89,332.14 637.02,332.37 637.15,332.53 637.28,331.65 637.41,331.58 637.54,332.01 637.67,333.22 637.81,333.51 637.94,332.58 638.07,332.86 638.20,332.21 638.33,333.09 638.46,333.28 638.59,334.09 638.72,334.24 638.85,333.78 638.98,334.21 639.11,334.02 639.24,334.73 639.37,334.65 639.50,336.34 639.63,336.26 639.76,336.31 639.89,334.87 640.02,335.08 640.15,335.94 640.28,336.04 640.41,336.41 640.54,336.43 640.67,335.93 640.80,336.39 640.93,334.05 641.06,335.68 641.20,336.59 641.33,337.23 641.46,336.68 641.59,336.15 641.72,336.32 641.85,335.49 641.98,336.09 642.11,335.99 642.24,336.48 642.37,337.20 642.50,336.40 642.63,336.95 642.76,336.40 642.89,335.11 643.02,334.28 643.15,335.29 643.28,335.56 643.41,336.00 643.54,335.05 643.67,334.17 643.80,334.13 643.93,334.49 644.06,335.20 644.19,334.39 644.32,333.78 644.45,332.23 644.59,332.18 644.72,332.78 644.85,333.04 644.98,332.68 645.11,331.80 645.24,332.47 645.37,332.68 645.50,332.72 645.63,332.65 645.76,331.98 645.89,333.46 646.02,332.75 646.15,332.27 646.28,331.61 646.41,332.28 646.54,331.67 646.67,331.37 646.80,331.48 646.93,332.80 647.06,331.96 647.19,331.75 647.32,332.04 647.45,331.44 647.58,330.90 647.71,330.82 647.85,330.42 647.98,329.65 648.11,330.01 648.24,329.11 648.37,329.70 648.50,329.71 648.63,329.19 648.76,329.35 648.89,329.18 649.02,329.64 649.15,328.87 649.28,329.15 649.41,328.11 649.54,328.59 649.67,328.53 649.80,329.41 649.93,330.04 650.06,328.89 650.19,329.69 650.32,331.32 650.45,330.69 650.58,332.20 650.71,331.18 650.84,331.39 650.97,331.80 651.10,331.87 651.24,330.95 651.37,331.01 651.50,331.23 651.63,332.63 651.76,332.36 651.89,333.39 652.02,334.06 652.15,334.83 652.28,334.38 652.41,333.93 652.54,333.18 652.67,334.81 652.80,333.94" fill="none" stroke="#111" stroke-width="1.1" stroke-linejoin="round" />
<path d="M509.50,336.78V339.60M509.76,337.36V339.49M510.02,334.57V337.75M510.28,334.35V337.61M510.54,333.32V336.26M510.80,334.32V337.43M511.06,334.36V336.78M511.33,333.12V336.25M511.59,333.19V336.66M511.85,332.55V335.40M512.11,331.82V334.70M512.37,330.73V334.29M512.63,329.86V333.29M512.89,331.04V332.57M513.15,329.29V331.25M513.41,329.97V333.15M513.67,329.31V332.22M513.93,330.71V332.68M514.19,329.31V333.05M514.45,328.88V331.36M514.72,327.98V330.88M514.98,329.62V332.30M515.24,329.32V331.73M515.50,328.88V331.56M515.76,330.55V332.88M516.02,332.23V334.02M516.28,331.60V334.28M516.54,333.28V335.74M516.80,335.68V338.50M517.06,336.99V339.78M517.32,339.02V341.98M517.58,340.08V343.27M517.85,338.34V341.90M518.11,337.46V338.99M518.37,336.02V338.00M518.63,334.95V338.30M518.89,334.18V336.34M519.15,334.36V336.47M519.41,331.34V334.70M519.67,329.47V332.38M519.93,329.79V332.98M520.19,331.45V333.61M520.45,331.54V333.55M520.71,332.03V333.95M520.97,333.97V336.08M521.24,334.92V337.67M521.50,335.46V338.30M521.76,336.73V339.33M522.02,337.09V339.14M522.28,336.23V339.23M522.54,336.25V338.05M522.80,336.77V339.39M523.06,336.80V339.60M523.32,334.99V337.77M523.58,335.38V337.49M523.84,334.61V337.31M524.10,335.65V337.30M524.36,333.30V336.84M524.63,335.24V337.64M524.89,334.00V337.37M525.15,333.30V336.36M525.41,333.86V335.36M525.67,334.05V336.23M525.93,333.84V336.76M526.19,333.39V336.23M526.45,332.00V334.85M526.71,331.05V334.34M526.97,333.76V336.63M527.23,333.46V335.11M527.49,332.63V335.55M527.75,331.76V334.26M528.02,331.72V333.72M528.28,329.79V333.57M528.54,331.27V334.43M528.80,331.17V333.62M529.06,332.70V335.96M529.32,332.94V336.31M529.58,334.44V336.88M529.84,336.05V338.62M530.10,336.07V339.67M530.36,335.91V338.35M530.62,337.13V339.30M530.88,336.45V339.05M531.14,336.74V339.02M531.41,336.60V340.00M531.67,338.28V341.19M531.93,340.20V342.44M532.19,340.54V342.97M532.45,338.65V340.33M532.71,338.23V340.63M532.97,337.64V339.49M533.23,336.64V339.19M533.49,336.09V337.64M533.75,333.94V336.94M534.01,334.14V336.89M534.27,332.55V334.85M534.54,332.54V335.46M534.80,330.64V333.75M535.06,332.23V334.52M535.32,330.19V332.95M535.58,328.48V331.38M535.84,329.11V331.78M536.10,328.80V331.25M536.36,327.96V331.00M536.62,328.38V330.90M536.88,326.85V329.75M537.14,327.10V329.54M537.40,325.99V328.96M537.66,326.57V328.13M537.93,325.11V327.77M538.19,323.94V327.34M538.45,322.97V325.29M538.71,322.78V324.40M538.97,321.97V324.11M539.23,320.55V323.84M539.49,322.03V325.34M539.75,322.47V324.91M540.01,320.17V322.77M540.27,320.41V322.71M540.53,320.76V322.73M540.79,320.50V322.59M541.05,320.90V322.81M541.32,321.77V324.55M541.58,323.69V325.80M541.84,324.81V326.76M542.10,326.14V328.65M542.36,325.61V328.16M542.62,326.82V329.22M542.88,327.79V330.02M543.14,327.67V330.99M543.40,328.95V330.77M543.66,329.06V332.00M543.92,330.29V332.42M544.18,329.61V332.16M544.44,332.08V334.30M544.71,330.72V333.08M544.97,331.40V334.04M545.23,333.48V335.05M545.49,334.52V337.32M545.75,334.97V336.68M546.01,334.20V337.40M546.27,336.33V338.72M546.53,335.03V337.62M546.79,336.36V339.07M547.05,335.98V339.62M547.31,336.92V338.72M547.57,337.11V339.66M547.84,338.08V339.85M548.10,337.82V340.50M548.36,336.75V339.12M548.62,337.74V339.74M548.88,339.19V341.72M549.14,339.28V341.67M549.40,339.00V340.84M549.66,338.38V340.60M549.92,337.45V340.22M550.18,337.23V339.15M550.44,337.22V339.43M550.70,335.20V338.39M550.96,334.55V337.30M551.23,334.64V337.92M551.49,332.48V335.13M551.75,334.21V336.70M552.01,330.66V333.97M552.27,331.38V334.14M552.53,331.59V333.98M552.79,331.75V333.96M553.05,329.53V332.47M553.31,330.06V332.23M553.57,328.23V330.68M553.83,328.79V331.66M554.09,328.79V331.21M554.35,329.65V331.61M554.62,328.78V332.09M554.88,331.79V333.81M555.14,332.38V335.00M555.40,331.14V334.84M555.66,331.24V333.66M555.92,333.45V336.22M556.18,333.66V335.53M556.44,332.89V334.94M556.70,334.51V337.18M556.96,335.10V338.28M557.22,334.83V337.90M557.48,336.74V339.28M557.74,337.44V338.84M558.01,337.66V339.55M558.27,338.24V340.82M558.53,339.19V341.53M558.79,338.38V341.88M559.05,339.61V343.24M559.31,338.59V342.03M559.57,338.79V342.20M559.83,339.77V341.58M560.09,337.70V340.21M560.35,336.84V339.34M560.61,337.07V338.91M560.87,337.83V340.68M561.13,338.11V340.49M561.40,336.96V339.59M561.66,335.99V339.45M561.92,336.62V339.17M562.18,335.98V337.89M562.44,336.60V338.68M562.70,335.96V337.90M562.96,335.06V337.70M563.22,334.78V337.96M563.48,332.93V335.49M563.74,333.26V336.61M564.00,332.24V335.26M564.26,330.75V334.02M564.53,330.77V333.33M564.79,330.59V333.33M565.05,329.92V333.10M565.31,329.95V331.88M565.57,330.83V332.83M565.83,328.97V331.97M566.09,327.43V329.70M566.35,327.89V330.27M566.61,326.83V330.14M566.87,325.73V328.18M567.13,325.67V328.01M567.39,325.82V328.17M567.65,325.85V329.34M567.92,324.98V327.58M568.18,324.90V326.74M568.44,324.58V326.97M568.70,325.42V327.22M568.96,324.17V325.97M569.22,322.08V324.35M569.48,323.89V325.67M569.74,323.78V327.09M570.00,322.44V324.40M570.26,322.95V326.68M570.52,324.57V326.21M570.78,323.87V325.99M571.04,324.61V326.90M571.31,325.49V328.40M571.57,324.53V326.43M571.83,325.33V328.58M572.09,326.11V328.34M572.35,325.43V328.11M572.61,325.18V327.17M572.87,325.48V329.18M573.13,326.30V329.41M573.39,325.42V328.01M573.65,328.19V330.88M573.91,328.31V331.09M574.17,327.73V330.96M574.43,328.74V332.10M574.70,328.73V331.73M574.96,328.49V331.69M575.22,330.49V333.15M575.48,331.86V334.51M575.74,332.20V335.41M576.00,333.08V336.15M576.26,332.88V334.53M576.52,333.40V335.10M576.78,332.98V335.14M577.04,332.65V336.01M577.30,331.69V334.26M577.56,333.35V335.51M577.83,334.11V336.27M578.09,331.81V334.24M578.35,333.77V335.29M578.61,333.26V336.54M578.87,333.21V336.13M579.13,333.31V335.23M579.39,333.85V336.27M579.65,333.15V335.98M579.91,332.74V336.42M580.17,332.83V335.71M580.43,332.52V335.18M580.69,333.41V335.85M580.95,332.23V334.27M581.22,333.09V335.69M581.48,332.66V335.82M581.74,332.25V335.81M582.00,330.90V333.84M582.26,332.52V334.78M582.52,331.90V334.50M582.78,330.64V332.87M583.04,330.59V333.01M583.30,329.31V331.87M583.56,329.56V331.96M583.82,330.21V333.13M584.08,331.23V333.51M584.34,330.23V333.65M584.61,329.87V332.81M584.87,331.37V333.71M585.13,331.54V334.78M585.39,331.99V334.67M585.65,333.20V336.13M585.91,331.75V334.39M586.17,332.45V334.38M586.43,331.07V334.74M586.69,332.42V334.98M586.95,334.58V337.83M587.21,334.06V336.15M587.47,334.29V338.06M587.73,334.42V336.88M588.00,334.77V338.45M588.26,335.80V338.57M588.52,337.36V338.80M588.78,338.00V339.35M589.04,338.28V339.94M589.30,338.45V341.41M589.56,338.09V340.56M589.82,338.50V340.94M590.08,336.48V339.15M590.34,336.94V339.78M590.60,335.75V338.65M590.86,337.20V338.56M591.12,335.40V337.69M591.39,333.87V337.10M591.65,332.39V335.96M591.91,333.40V335.15M592.17,331.67V335.42M592.43,331.39V332.63M592.69,331.79V333.74M592.95,331.29V334.12M593.21,332.48V335.75M593.47,332.59V334.47M593.73,331.13V334.44M593.99,330.03V332.69M594.25,332.56V335.54M594.52,333.04V336.34M594.78,331.51V334.41M595.04,331.97V334.57M595.30,332.52V334.36M595.56,330.97V333.38M595.82,331.31V334.16M596.08,330.84V333.50M596.34,329.65V332.83M596.60,329.50V331.63M596.86,328.30V331.41M597.12,328.01V330.73M597.38,325.87V329.33M597.64,327.35V330.12M597.91,327.64V331.36M598.17,329.06V331.52M598.43,329.40V331.81M598.69,331.05V332.83M598.95,329.05V332.26M599.21,329.76V332.46M599.47,331.53V333.42M599.73,330.73V333.23M599.99,331.95V333.69M600.25,332.29V335.87M600.51,334.53V336.61M600.77,335.47V338.99M601.03,336.49V338.26M601.30,336.18V339.45M601.56,338.28V341.41M601.82,339.28V342.28M602.08,340.39V342.52M602.34,342.16V346.09M602.60,343.31V345.82M602.86,342.66V345.22M603.12,341.23V343.43M603.38,340.29V342.45M603.64,338.65V341.55M603.90,339.59V341.23M604.16,338.78V341.03M604.42,337.21V340.67M604.69,336.41V340.26M604.95,337.21V339.88M605.21,337.13V339.88M605.47,337.31V338.72M605.73,335.77V339.14M605.99,337.60V339.52M606.25,336.59V339.78M606.51,335.79V337.98M606.77,335.83V337.70M607.03,334.16V336.20M607.29,332.54V334.92M607.55,333.40V336.23M607.82,331.24V334.37M608.08,330.56V333.08M608.34,329.03V331.59M608.60,328.54V331.89M608.86,329.52V332.10M609.12,329.19V331.46M609.38,329.17V331.64M609.64,331.04V333.91M609.90,330.00V332.51M610.16,331.43V333.32M610.42,331.42V334.33M610.68,331.00V332.95M610.94,330.54V333.94M611.21,331.09V333.75M611.47,333.04V334.65M611.73,334.29V337.13M611.99,333.70V335.95M612.25,334.60V337.45M612.51,331.26V333.44M612.77,332.49V335.55M613.03,331.44V334.48M613.29,332.02V334.85M613.55,330.71V333.30M613.81,333.80V335.75M614.07,332.77V335.38M614.33,331.68V333.82M614.60,331.25V333.84M614.86,330.71V333.74M615.12,330.58V332.62M615.38,332.13V334.13M615.64,330.24V333.50M615.90,330.00V332.75M616.16,326.70V329.05M616.42,328.58V329.86M616.68,326.89V329.78M616.94,327.43V329.64M617.20,326.57V329.48M617.46,323.22V326.59M617.72,322.24V325.38M617.99,321.26V323.70M618.25,321.45V324.00M618.51,322.60V325.17M618.77,322.25V324.77M619.03,321.41V324.21M619.29,319.26V321.80M619.55,319.92V322.65M619.81,318.89V321.56M620.07,318.66V321.63M620.33,319.39V323.06M620.59,320.29V323.44M620.85,321.59V324.35M621.11,323.58V326.67M621.38,323.76V327.21M621.64,327.45V330.02M621.90,327.43V330.22M622.16,327.90V330.21M622.42,329.01V331.40M622.68,329.66V331.16M622.94,329.60V333.42M623.20,332.66V334.60M623.46,331.02V333.37M623.72,333.77V336.33M623.98,334.70V337.63M624.24,333.09V335.84M624.51,334.82V337.48M624.77,335.34V337.79M625.03,337.06V340.06M625.29,338.47V340.35M625.55,337.40V340.55M625.81,336.06V338.67M626.07,336.68V339.29M626.33,336.13V338.66M626.59,335.85V338.64M626.85,335.23V337.84M627.11,333.75V335.85M627.37,331.87V335.27M627.63,331.92V334.26M627.90,333.41V335.69M628.16,330.89V333.87M628.42,331.21V333.70M628.68,330.57V333.33M628.94,330.22V332.52M629.20,331.18V332.97M629.46,329.56V332.35M629.72,330.63V333.47M629.98,329.34V331.08M630.24,328.61V330.98M630.50,330.06V331.68M630.76,330.36V332.55M631.02,330.86V332.71M631.29,329.09V331.90M631.55,329.48V331.93M631.81,330.10V331.77M632.07,329.66V331.35M632.33,330.07V332.92M632.59,328.76V330.86M632.85,328.52V331.32M633.11,329.24V331.24M633.37,328.90V331.41M633.63,329.19V331.94M633.89,330.36V332.19M634.15,329.54V332.30M634.41,330.08V332.83M634.68,328.64V331.71M634.94,329.21V332.68M635.20,329.97V331.62M635.46,330.52V332.03M635.72,328.90V331.73M635.98,331.63V333.80M636.24,330.40V332.08M636.50,329.99V332.93M636.76,330.32V333.89M637.02,331.10V334.31M637.28,330.52V332.94M637.54,330.37V333.26M637.81,332.67V335.10M638.07,330.97V333.95M638.33,331.91V334.12M638.59,332.53V335.38M638.85,332.85V335.63M639.11,333.40V335.79M639.37,332.84V335.38M639.63,335.64V337.77M639.89,333.46V335.71M640.15,334.73V336.67M640.41,335.23V337.75M640.67,334.08V337.06M640.93,333.23V335.98M641.20,335.09V337.38M641.46,335.99V337.81M641.72,335.38V337.43M641.98,335.11V337.96M642.24,334.75V338.02M642.50,335.67V338.11M642.76,335.25V338.22M643.02,333.61V335.09M643.28,334.78V337.31M643.54,333.12V336.70M643.80,333.10V334.80M644.06,333.25V336.04M644.32,332.05V335.04M644.59,331.10V333.35M644.85,332.34V333.81M645.11,329.99V333.04M645.37,331.14V333.75M645.63,331.37V334.36M645.89,331.95V334.61M646.15,331.03V334.25M646.41,331.64V333.44M646.67,330.59V332.12M646.93,332.12V334.47M647.19,330.51V333.12M647.45,330.42V332.59M647.71,329.59V332.58M647.98,328.92V330.50M648.24,328.27V330.36M648.50,328.44V331.26M648.76,327.36V331.23M649.02,328.71V330.81M649.28,327.81V330.86M649.54,327.27V329.41M649.80,328.74V330.49M650.06,327.44V329.74M650.32,330.09V332.46M650.58,330.25V333.78M650.84,329.43V332.72M651.10,330.58V333.84M651.37,329.84V332.39M651.63,332.00V333.47M651.89,332.39V334.33M652.15,333.62V336.68M652.41,333.03V334.59M652.67,333.42V335.91" stroke="#000" stroke-width="0.35" fill="none"/>
<path d="M540.90,321.00V318.50M577.40,334.00V344.80M602.40,340.00V352.30M649.10,328.00V322.20M619.90,320.00V317.50M517.50,338.00V343.50M586.80,330.00V327.00M608.00,334.00V338.00M627.76,328.99V336.16M516.41,330.92V336.18M530.75,335.28V340.73M510.15,333.68V338.30M645.24,329.87V335.62M578.48,332.50V337.25M609.64,328.70V335.23M616.94,325.80V330.14M614.73,329.61V334.76M539.75,320.30V326.89M616.42,325.98V332.62M514.19,327.62V334.41M591.65,332.10V337.17M611.47,331.26V335.43M559.83,337.46V342.39M516.02,329.79V335.85M635.07,328.68V332.91M638.72,331.37V336.36M562.31,332.79V340.49M630.76,329.86V334.91M641.59,333.58V339.73M634.41,327.29V333.89M529.32,331.29V336.79M622.55,327.29V334.44M648.37,327.37V331.27" stroke="#666" stroke-width="0.4" fill="none"/>
</svg></body></html>
